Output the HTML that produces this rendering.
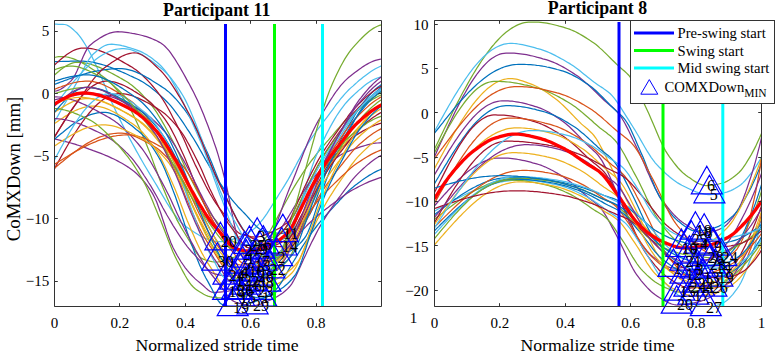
<!DOCTYPE html>
<html><head><meta charset="utf-8"><style>html,body{margin:0;padding:0;background:#fff;width:781px;height:359px;overflow:hidden;}</style></head>
<body>
<svg width="781" height="359" viewBox="0 0 781 359" style="position:absolute;left:0;top:0;font-family:'Liberation Serif',serif;">
<rect width="781" height="359" fill="#fff"/>
<g clip-path="url(#cl)">
<path d="M54.5,24.2 56.5,24.2 58.6,24.3 60.6,24.3 62.7,24.4 64.7,24.5 66.8,25.0 68.8,26.1 70.8,27.5 72.9,29.3 74.9,31.1 77.0,33.0 79.0,35.3 81.1,38.1 83.1,41.2 85.2,44.5 87.2,47.8 89.2,51.5 91.3,55.4 93.3,59.6 95.4,63.9 97.4,68.3 99.5,72.9 101.5,77.7 103.6,82.4 105.6,87.3 107.6,92.3 109.7,97.4 111.7,102.2 113.8,106.6 115.8,110.9 117.9,115.2 119.9,119.4 121.9,123.5 124.0,127.5 126.0,131.5 128.1,135.5 130.1,139.4 132.2,143.2 134.2,146.9 136.2,150.6 138.3,154.3 140.3,157.9 142.4,161.5 144.4,165.0 146.5,168.5 148.5,171.9 150.6,175.3 152.6,178.6 154.6,182.0 156.7,185.4 158.7,188.9 160.8,192.4 162.8,195.9 164.9,199.4 166.9,202.8 169.0,206.1 171.0,209.3 173.0,212.4 175.1,215.2 177.1,217.9 179.2,220.4 181.2,222.6 183.3,224.5 185.3,226.1 187.3,227.5 189.4,229.0 191.4,230.4 193.5,231.7 195.5,233.0 197.6,234.3 199.6,235.5 201.7,236.6 203.7,237.7 205.7,238.6 207.8,239.4 209.8,240.2 211.9,240.8 213.9,241.2 216.0,241.5 218.0,241.7 220.0,241.7 222.1,241.6 224.1,241.3 226.2,241.0 228.2,240.6 230.3,240.0 232.3,239.4 234.4,238.7 236.4,237.9 238.4,237.1 240.5,236.2 242.5,235.3 244.6,234.3 246.6,233.2 248.7,232.2 250.7,231.1 252.7,229.8 254.8,228.2 256.8,226.3 258.9,224.2 260.9,221.7 263.0,219.1 265.0,216.3 267.1,213.3 269.1,210.2 271.1,207.0 273.2,203.7 275.2,200.4 277.3,197.1 279.3,193.8 281.4,190.5 283.4,187.3 285.4,184.1 287.5,180.7 289.5,177.1 291.6,173.4 293.6,169.6 295.7,165.8 297.7,161.9 299.8,158.1 301.8,154.3 303.8,150.6 305.9,147.1 307.9,143.7 310.0,140.5 312.0,137.4 314.1,134.5 316.1,131.6 318.1,128.9 320.2,126.1 322.2,123.4 324.3,120.7 326.3,118.1 328.4,115.3 330.4,112.6 332.5,109.8 334.5,107.0 336.5,104.2 338.6,101.6 340.6,98.9 342.7,96.5 344.7,94.1 346.8,91.9 348.8,89.8 350.8,87.9 352.9,86.1 354.9,84.2 357.0,82.4 359.0,80.6 361.1,78.9 363.1,77.3 365.2,75.7 367.2,74.2 369.2,72.7 371.3,71.3 373.3,70.0 375.4,68.8 377.4,67.7 379.5,66.7 381.5,65.7" stroke="#4DBEEE" stroke-width="1.25" fill="none"/>
<path d="M54.5,57.5 56.5,57.0 58.6,56.6 60.6,56.5 62.7,56.5 64.7,56.7 66.8,57.0 68.8,57.4 70.8,58.0 72.9,58.7 74.9,59.4 77.0,60.3 79.0,61.2 81.1,62.3 83.1,63.4 85.2,64.5 87.2,65.7 89.2,67.0 91.3,68.4 93.3,69.7 95.4,71.1 97.4,72.5 99.5,74.0 101.5,75.4 103.6,76.9 105.6,78.4 107.6,80.1 109.7,82.0 111.7,84.0 113.8,86.3 115.8,88.6 117.9,91.1 119.9,93.8 121.9,96.5 124.0,99.4 126.0,102.4 128.1,105.5 130.1,108.9 132.2,112.6 134.2,116.7 136.2,121.0 138.3,125.5 140.3,130.1 142.4,134.8 144.4,139.6 146.5,144.4 148.5,149.4 150.6,154.6 152.6,160.1 154.6,165.7 156.7,171.3 158.7,176.8 160.8,182.2 162.8,187.3 164.9,192.3 166.9,197.2 169.0,202.1 171.0,206.9 173.0,211.5 175.1,215.9 177.1,220.1 179.2,223.9 181.2,227.6 183.3,231.0 185.3,234.3 187.3,237.5 189.4,240.8 191.4,244.4 193.5,248.0 195.5,251.4 197.6,254.4 199.6,256.8 201.7,258.4 203.7,259.3 205.7,260.0 207.8,260.7 209.8,261.2 211.9,261.6 213.9,261.9 216.0,262.0 218.0,261.9 220.0,261.7 222.1,261.3 224.1,260.8 226.2,260.1 228.2,259.5 230.3,258.7 232.3,257.9 234.4,257.2 236.4,256.4 238.4,255.6 240.5,254.8 242.5,254.0 244.6,253.1 246.6,252.1 248.7,251.0 250.7,249.9 252.7,248.7 254.8,247.4 256.8,246.0 258.9,244.5 260.9,242.8 263.0,241.0 265.0,238.7 267.1,235.9 269.1,232.7 271.1,229.2 273.2,225.4 275.2,221.6 277.3,217.6 279.3,213.7 281.4,209.9 283.4,206.3 285.4,202.5 287.5,198.7 289.5,194.9 291.6,191.3 293.6,187.9 295.7,184.4 297.7,181.1 299.8,177.8 301.8,174.6 303.8,171.5 305.9,168.4 307.9,165.5 310.0,162.7 312.0,160.0 314.1,157.3 316.1,154.7 318.1,152.2 320.2,149.7 322.2,147.3 324.3,144.8 326.3,142.4 328.4,140.1 330.4,137.7 332.5,135.3 334.5,132.9 336.5,130.5 338.6,128.1 340.6,125.8 342.7,123.5 344.7,121.3 346.8,119.3 348.8,117.3 350.8,115.6 352.9,113.8 354.9,112.2 357.0,110.5 359.0,108.9 361.1,107.3 363.1,105.8 365.2,104.3 367.2,102.9 369.2,101.6 371.3,100.3 373.3,99.0 375.4,97.9 377.4,96.8 379.5,95.8 381.5,94.8" stroke="#77AC30" stroke-width="1.25" fill="none"/>
<path d="M54.5,61.7 56.5,61.6 58.6,61.6 60.6,61.5 62.7,61.4 64.7,61.4 66.8,61.3 68.8,61.3 70.8,61.2 72.9,61.2 74.9,61.1 77.0,61.1 79.0,61.1 81.1,61.1 83.1,61.2 85.2,61.3 87.2,61.5 89.2,61.7 91.3,62.0 93.3,62.4 95.4,62.8 97.4,63.3 99.5,63.8 101.5,64.4 103.6,65.0 105.6,65.6 107.6,66.3 109.7,67.0 111.7,67.8 113.8,68.6 115.8,69.4 117.9,70.3 119.9,71.1 121.9,72.0 124.0,72.9 126.0,73.8 128.1,74.7 130.1,75.7 132.2,76.6 134.2,77.6 136.2,78.5 138.3,79.5 140.3,80.6 142.4,81.8 144.4,83.0 146.5,84.4 148.5,85.8 150.6,87.3 152.6,88.9 154.6,90.6 156.7,92.3 158.7,94.1 160.8,95.9 162.8,97.8 164.9,99.8 166.9,101.8 169.0,103.9 171.0,106.2 173.0,108.7 175.1,111.3 177.1,114.1 179.2,117.0 181.2,119.9 183.3,122.9 185.3,126.0 187.3,129.1 189.4,132.2 191.4,135.3 193.5,138.5 195.5,141.9 197.6,145.4 199.6,149.0 201.7,152.6 203.7,156.3 205.7,159.9 207.8,163.4 209.8,166.9 211.9,170.2 213.9,173.4 216.0,176.6 218.0,179.8 220.0,183.0 222.1,186.1 224.1,189.2 226.2,192.1 228.2,194.9 230.3,197.6 232.3,200.2 234.4,202.6 236.4,204.9 238.4,207.2 240.5,209.3 242.5,211.4 244.6,213.5 246.6,215.7 248.7,218.0 250.7,220.3 252.7,222.6 254.8,224.7 256.8,226.7 258.9,228.4 260.9,229.7 263.0,230.6 265.0,231.1 267.1,231.6 269.1,232.0 271.1,232.4 273.2,232.8 275.2,233.0 277.3,233.2 279.3,233.4 281.4,233.4 283.4,233.1 285.4,232.5 287.5,231.6 289.5,230.5 291.6,229.4 293.6,228.3 295.7,227.1 297.7,225.9 299.8,224.4 301.8,222.9 303.8,221.1 305.9,219.0 307.9,216.8 310.0,214.0 312.0,210.1 314.1,205.3 316.1,199.8 318.1,194.1 320.2,188.4 322.2,183.0 324.3,177.4 326.3,171.9 328.4,166.8 330.4,161.9 332.5,157.1 334.5,152.5 336.5,148.1 338.6,144.0 340.6,140.1 342.7,136.3 344.7,132.6 346.8,129.1 348.8,125.6 350.8,122.1 352.9,118.6 354.9,115.0 357.0,111.6 359.0,108.4 361.1,105.4 363.1,102.8 365.2,100.3 367.2,97.9 369.2,95.5 371.3,93.3 373.3,91.3 375.4,89.3 377.4,87.6 379.5,86.0 381.5,84.6" stroke="#0072BD" stroke-width="1.25" fill="none"/>
<path d="M54.5,65.0 56.5,63.1 58.6,61.3 60.6,59.5 62.7,57.8 64.7,56.2 66.8,54.6 68.8,53.2 70.8,52.0 72.9,50.8 74.9,49.9 77.0,49.1 79.0,48.6 81.1,48.2 83.1,48.0 85.2,48.0 87.2,48.1 89.2,48.3 91.3,48.6 93.3,49.0 95.4,49.5 97.4,50.1 99.5,50.7 101.5,51.4 103.6,52.2 105.6,53.0 107.6,53.9 109.7,54.9 111.7,55.9 113.8,56.9 115.8,58.0 117.9,59.1 119.9,60.2 121.9,61.4 124.0,62.6 126.0,63.7 128.1,64.9 130.1,66.1 132.2,67.3 134.2,68.7 136.2,70.1 138.3,71.7 140.3,73.4 142.4,75.3 144.4,77.2 146.5,79.3 148.5,81.4 150.6,83.7 152.6,86.0 154.6,88.4 156.7,90.9 158.7,93.5 160.8,96.4 162.8,99.5 164.9,102.8 166.9,106.3 169.0,110.0 171.0,113.8 173.0,117.7 175.1,121.6 177.1,125.6 179.2,129.6 181.2,133.7 183.3,138.1 185.3,142.6 187.3,147.2 189.4,151.9 191.4,156.5 193.5,161.0 195.5,165.4 197.6,169.5 199.6,173.7 201.7,177.8 203.7,181.8 205.7,185.8 207.8,189.6 209.8,193.3 211.9,196.8 213.9,200.2 216.0,203.3 218.0,206.2 220.0,209.0 222.1,211.7 224.1,214.4 226.2,217.1 228.2,220.1 230.3,223.0 232.3,225.9 234.4,228.6 236.4,230.9 238.4,232.7 240.5,233.9 242.5,234.6 244.6,235.2 246.6,235.7 248.7,236.2 250.7,236.6 252.7,236.8 254.8,237.0 256.8,237.0 258.9,236.7 260.9,236.3 263.0,235.6 265.0,234.9 267.1,234.0 269.1,233.1 271.1,232.2 273.2,231.3 275.2,230.4 277.3,229.3 279.3,228.2 281.4,227.0 283.4,225.6 285.4,224.1 287.5,222.5 289.5,220.6 291.6,218.6 293.6,215.8 295.7,212.3 297.7,208.3 299.8,204.0 301.8,199.4 303.8,194.9 305.9,190.5 307.9,186.2 310.0,181.8 312.0,177.4 314.1,173.3 316.1,169.3 318.1,165.4 320.2,161.6 322.2,158.0 324.3,154.4 326.3,151.1 328.4,147.9 330.4,144.8 332.5,141.8 334.5,138.9 336.5,136.0 338.6,133.2 340.6,130.4 342.7,127.7 344.7,124.9 346.8,122.1 348.8,119.3 350.8,116.6 352.9,114.0 354.9,111.6 357.0,109.4 359.0,107.3 361.1,105.4 363.1,103.4 365.2,101.6 367.2,99.8 369.2,98.1 371.3,96.5 373.3,94.9 375.4,93.5 377.4,92.2 379.5,90.9 381.5,89.8" stroke="#A2142F" stroke-width="1.25" fill="none"/>
<path d="M54.5,75.0 56.5,73.2 58.6,71.5 60.6,69.8 62.7,68.3 64.7,66.8 66.8,65.6 68.8,64.5 70.8,63.6 72.9,62.9 74.9,62.5 77.0,62.4 79.0,62.4 81.1,62.5 83.1,62.7 85.2,63.1 87.2,63.5 89.2,63.9 91.3,64.5 93.3,65.1 95.4,65.8 97.4,66.6 99.5,67.4 101.5,68.3 103.6,69.2 105.6,70.1 107.6,71.1 109.7,72.2 111.7,73.3 113.8,74.4 115.8,75.5 117.9,76.6 119.9,77.8 121.9,78.9 124.0,80.1 126.0,81.2 128.1,82.5 130.1,84.0 132.2,85.5 134.2,87.2 136.2,89.0 138.3,90.8 140.3,92.8 142.4,94.9 144.4,97.1 146.5,99.4 148.5,101.7 150.6,104.1 152.6,106.6 154.6,109.4 156.7,112.4 158.7,115.7 160.8,119.1 162.8,122.6 164.9,126.3 166.9,130.0 169.0,133.8 171.0,137.7 173.0,141.5 175.1,145.5 177.1,149.7 179.2,154.1 181.2,158.5 183.3,163.0 185.3,167.5 187.3,171.8 189.4,176.0 191.4,180.0 193.5,184.0 195.5,188.0 197.6,191.9 199.6,195.7 201.7,199.4 203.7,203.0 205.7,206.4 207.8,209.6 209.8,212.6 211.9,215.4 213.9,218.1 216.0,220.7 218.0,223.3 220.0,225.9 222.1,228.7 224.1,231.6 226.2,234.4 228.2,237.0 230.3,239.2 232.3,241.0 234.4,242.2 236.4,242.8 238.4,243.4 240.5,243.9 242.5,244.4 244.6,244.8 246.6,245.0 248.7,245.2 250.7,245.2 252.7,245.0 254.8,244.5 256.8,243.9 258.9,243.2 260.9,242.4 263.0,241.5 265.0,240.6 267.1,239.7 269.1,238.8 271.1,237.8 273.2,236.8 275.2,235.6 277.3,234.3 279.3,232.9 281.4,231.4 283.4,229.7 285.4,227.9 287.5,225.8 289.5,223.0 291.6,219.5 293.6,215.6 295.7,211.3 297.7,206.8 299.8,202.3 301.8,197.9 303.8,193.6 305.9,189.3 307.9,184.9 310.0,180.7 312.0,176.8 314.1,172.8 316.1,169.0 318.1,165.3 320.2,161.7 322.2,158.3 324.3,155.0 326.3,151.9 328.4,148.8 330.4,145.9 332.5,143.0 334.5,140.2 336.5,137.4 338.6,134.6 340.6,131.9 342.7,129.1 344.7,126.3 346.8,123.6 348.8,120.9 350.8,118.3 352.9,115.8 354.9,113.5 357.0,111.4 359.0,109.5 361.1,107.5 363.1,105.7 365.2,103.9 367.2,102.1 369.2,100.4 371.3,98.8 373.3,97.3 375.4,95.9 377.4,94.6 379.5,93.4 381.5,92.3" stroke="#77AC30" stroke-width="1.25" fill="none"/>
<path d="M54.5,84.3 56.5,83.6 58.6,82.8 60.6,82.0 62.7,81.3 64.7,80.5 66.8,79.8 68.8,79.0 70.8,78.3 72.9,77.6 74.9,76.9 77.0,76.3 79.0,75.6 81.1,75.0 83.1,74.4 85.2,73.8 87.2,73.2 89.2,72.7 91.3,72.2 93.3,71.7 95.4,71.3 97.4,70.8 99.5,70.5 101.5,70.1 103.6,69.8 105.6,69.5 107.6,69.3 109.7,69.1 111.7,68.9 113.8,68.8 115.8,68.7 117.9,68.6 119.9,68.6 121.9,68.7 124.0,68.9 126.0,69.2 128.1,69.6 130.1,70.1 132.2,70.7 134.2,71.4 136.2,72.2 138.3,73.1 140.3,74.0 142.4,75.0 144.4,76.1 146.5,77.2 148.5,78.4 150.6,79.6 152.6,80.9 154.6,82.2 156.7,83.5 158.7,84.8 160.8,86.1 162.8,87.4 164.9,88.8 166.9,90.4 169.0,92.1 171.0,94.0 173.0,96.0 175.1,98.2 177.1,100.4 179.2,102.8 181.2,105.4 183.3,108.0 185.3,110.7 187.3,113.5 189.4,116.6 191.4,120.0 193.5,123.7 195.5,127.6 197.6,131.7 199.6,135.9 201.7,140.2 203.7,144.6 205.7,149.0 207.8,153.4 209.8,158.2 211.9,163.2 213.9,168.3 216.0,173.4 218.0,178.5 220.0,183.4 222.1,188.1 224.1,192.6 226.2,197.2 228.2,201.6 230.3,206.0 232.3,210.3 234.4,214.3 236.4,218.2 238.4,221.7 240.5,225.1 242.5,228.3 244.6,231.3 246.6,234.2 248.7,237.2 250.7,240.4 252.7,243.7 254.8,246.9 256.8,249.7 258.9,252.1 260.9,253.8 263.0,254.8 265.0,255.5 267.1,256.1 269.1,256.6 271.1,257.1 273.2,257.3 275.2,257.5 277.3,257.4 279.3,256.9 281.4,256.2 283.4,255.1 285.4,253.9 287.5,252.7 289.5,251.5 291.6,250.2 293.6,248.8 295.7,247.3 297.7,245.6 299.8,243.6 301.8,241.5 303.8,239.0 305.9,236.2 307.9,232.3 310.0,227.3 312.0,221.6 314.1,215.4 316.1,209.1 318.1,203.1 320.2,197.2 322.2,191.1 324.3,185.3 326.3,179.8 328.4,174.4 330.4,169.2 332.5,164.2 334.5,159.5 336.5,155.1 338.6,150.8 340.6,146.7 342.7,142.7 344.7,138.8 346.8,135.0 348.8,131.2 350.8,127.3 352.9,123.5 354.9,119.7 357.0,116.1 359.0,112.7 361.1,109.7 363.1,106.9 365.2,104.2 367.2,101.6 369.2,99.1 371.3,96.8 373.3,94.5 375.4,92.5 377.4,90.6 379.5,88.9 381.5,87.3" stroke="#0072BD" stroke-width="1.25" fill="none"/>
<path d="M54.5,91.1 56.5,90.8 58.6,90.2 60.6,89.2 62.7,87.9 64.7,86.4 66.8,84.7 68.8,82.9 70.8,81.1 72.9,78.6 74.9,75.2 77.0,71.0 79.0,66.3 81.1,61.5 83.1,56.7 85.2,52.4 87.2,48.7 89.2,45.9 91.3,44.2 93.3,42.6 95.4,41.1 97.4,39.7 99.5,38.3 101.5,37.1 103.6,35.9 105.6,34.9 107.6,34.0 109.7,33.2 111.7,32.6 113.8,32.1 115.8,31.8 117.9,31.7 119.9,31.8 121.9,31.9 124.0,32.1 126.0,32.4 128.1,32.7 130.1,33.0 132.2,33.4 134.2,33.7 136.2,34.1 138.3,34.5 140.3,35.0 142.4,35.5 144.4,36.1 146.5,36.7 148.5,37.4 150.6,38.2 152.6,39.0 154.6,39.9 156.7,40.8 158.7,41.9 160.8,43.0 162.8,44.4 164.9,46.2 166.9,48.3 169.0,50.7 171.0,53.4 173.0,56.3 175.1,59.4 177.1,62.7 179.2,66.1 181.2,69.6 183.3,73.2 185.3,76.9 187.3,80.6 189.4,84.3 191.4,88.1 193.5,92.0 195.5,96.2 197.6,100.6 199.6,105.1 201.7,109.9 203.7,114.8 205.7,119.9 207.8,125.2 209.8,130.7 211.9,136.3 213.9,142.1 216.0,148.0 218.0,154.4 220.0,161.3 222.1,168.7 224.1,176.3 226.2,184.5 228.2,194.1 230.3,204.5 232.3,215.0 234.4,224.8 236.4,233.3 238.4,239.8 240.5,246.1 242.5,251.9 244.6,256.3 246.6,258.5 248.7,258.5 250.7,258.0 252.7,257.1 254.8,255.9 256.8,254.5 258.9,252.9 260.9,251.2 263.0,249.3 265.0,247.3 267.1,244.5 269.1,241.0 271.1,236.8 273.2,232.1 275.2,227.0 277.3,221.6 279.3,216.0 281.4,210.2 283.4,204.5 285.4,198.9 287.5,193.4 289.5,188.3 291.6,183.4 293.6,178.4 295.7,173.2 297.7,168.0 299.8,162.7 301.8,157.5 303.8,152.3 305.9,147.2 307.9,142.2 310.0,137.5 312.0,133.0 314.1,128.8 316.1,124.8 318.1,121.1 320.2,117.5 322.2,113.8 324.3,110.3 326.3,106.8 328.4,103.4 330.4,100.1 332.5,97.0 334.5,93.9 336.5,91.0 338.6,88.3 340.6,85.7 342.7,83.3 344.7,81.1 346.8,79.1 348.8,77.3 350.8,75.7 352.9,74.1 354.9,72.5 357.0,70.9 359.0,69.4 361.1,68.0 363.1,66.6 365.2,65.3 367.2,64.1 369.2,63.0 371.3,62.0 373.3,61.1 375.4,60.4 377.4,59.8 379.5,59.3 381.5,59.0" stroke="#7E2F8E" stroke-width="1.25" fill="none"/>
<path d="M54.5,121.8 56.5,118.2 58.6,114.6 60.6,111.0 62.7,107.4 64.7,103.8 66.8,100.2 68.8,96.6 70.8,93.0 72.9,89.5 74.9,85.9 77.0,82.1 79.0,78.0 81.1,73.9 83.1,69.9 85.2,65.9 87.2,62.3 89.2,59.0 91.3,56.2 93.3,54.0 95.4,52.2 97.4,50.6 99.5,49.0 101.5,47.5 103.6,46.3 105.6,45.3 107.6,44.6 109.7,44.3 111.7,44.2 113.8,44.4 115.8,44.6 117.9,44.9 119.9,45.2 121.9,45.7 124.0,46.1 126.0,46.7 128.1,47.3 130.1,47.9 132.2,48.5 134.2,49.2 136.2,49.8 138.3,50.6 140.3,51.4 142.4,52.4 144.4,53.5 146.5,54.6 148.5,55.9 150.6,57.3 152.6,58.8 154.6,60.4 156.7,62.1 158.7,63.8 160.8,65.7 162.8,67.8 164.9,70.3 166.9,73.0 169.0,76.0 171.0,79.2 173.0,82.6 175.1,86.3 177.1,90.1 179.2,94.2 181.2,98.3 183.3,102.6 185.3,107.0 187.3,111.5 189.4,116.1 191.4,120.7 193.5,125.4 195.5,130.1 197.6,134.8 199.6,139.4 201.7,144.2 203.7,149.4 205.7,154.8 207.8,160.5 209.8,166.4 211.9,172.3 213.9,178.1 216.0,183.9 218.0,189.5 220.0,194.9 222.1,200.1 224.1,205.5 226.2,211.1 228.2,216.6 230.3,222.1 232.3,227.5 234.4,232.6 236.4,237.4 238.4,241.8 240.5,245.7 242.5,248.9 244.6,251.6 246.6,254.0 248.7,256.3 250.7,258.6 252.7,260.8 254.8,262.8 256.8,264.6 258.9,266.2 260.9,267.6 263.0,268.7 265.0,269.4 267.1,269.8 269.1,269.7 271.1,268.8 273.2,267.1 275.2,264.8 277.3,261.9 279.3,258.5 281.4,254.7 283.4,250.7 285.4,246.5 287.5,242.3 289.5,238.2 291.6,233.8 293.6,228.6 295.7,222.6 297.7,216.1 299.8,209.2 301.8,202.0 303.8,194.6 305.9,187.3 307.9,180.1 310.0,173.3 312.0,166.9 314.1,161.1 316.1,156.1 318.1,151.6 320.2,147.1 322.2,142.8 324.3,138.6 326.3,134.4 328.4,130.5 330.4,126.6 332.5,122.9 334.5,119.4 336.5,116.0 338.6,112.8 340.6,109.8 342.7,107.0 344.7,104.4 346.8,102.0 348.8,99.8 350.8,97.8 352.9,95.8 354.9,93.9 357.0,92.0 359.0,90.1 361.1,88.4 363.1,86.7 365.2,85.1 367.2,83.6 369.2,82.2 371.3,80.9 373.3,79.8 375.4,78.8 377.4,78.0 379.5,77.3 381.5,76.8" stroke="#4DBEEE" stroke-width="1.25" fill="none"/>
<path d="M54.5,106.1 56.5,103.4 58.6,100.7 60.6,98.1 62.7,95.4 64.7,92.8 66.8,90.2 68.8,87.6 70.8,85.1 72.9,82.6 74.9,80.2 77.0,77.8 79.0,75.5 81.1,73.3 83.1,71.1 85.2,69.0 87.2,67.0 89.2,65.1 91.3,63.2 93.3,61.5 95.4,59.8 97.4,58.3 99.5,56.8 101.5,55.5 103.6,54.3 105.6,53.2 107.6,52.2 109.7,51.3 111.7,50.6 113.8,49.9 115.8,49.4 117.9,49.0 119.9,48.8 121.9,48.6 124.0,48.6 126.0,48.8 128.1,49.1 130.1,49.5 132.2,50.1 134.2,50.9 136.2,51.7 138.3,52.7 140.3,53.8 142.4,54.9 144.4,56.2 146.5,57.5 148.5,58.9 150.6,60.3 152.6,61.8 154.6,63.3 156.7,64.9 158.7,66.5 160.8,68.0 162.8,69.6 164.9,71.5 166.9,73.5 169.0,75.8 171.0,78.2 173.0,80.8 175.1,83.6 177.1,86.6 179.2,89.6 181.2,92.8 183.3,96.2 185.3,99.9 187.3,104.0 189.4,108.5 191.4,113.2 193.5,118.2 195.5,123.3 197.6,128.5 199.6,133.7 201.7,139.0 203.7,144.7 205.7,150.7 207.8,156.8 209.8,162.8 211.9,168.7 213.9,174.3 216.0,179.7 218.0,185.1 220.0,190.4 222.1,195.6 224.1,200.5 226.2,205.2 228.2,209.5 230.3,213.5 232.3,217.3 234.4,220.9 236.4,224.3 238.4,228.0 240.5,231.8 242.5,235.7 244.6,239.2 246.6,242.1 248.7,244.2 250.7,245.3 252.7,246.1 254.8,246.8 256.8,247.3 258.9,247.7 260.9,248.0 263.0,248.0 265.0,247.7 267.1,247.1 269.1,246.3 271.1,245.4 273.2,244.4 275.2,243.4 277.3,242.4 279.3,241.3 281.4,240.2 283.4,239.0 285.4,237.6 287.5,236.1 289.5,234.5 291.6,232.6 293.6,230.6 295.7,228.3 297.7,225.2 299.8,221.3 301.8,216.8 303.8,211.8 305.9,206.6 307.9,201.4 310.0,196.5 312.0,191.6 314.1,186.5 316.1,181.7 318.1,177.1 320.2,172.6 322.2,168.2 324.3,164.0 326.3,159.9 328.4,156.0 330.4,152.3 332.5,148.8 334.5,145.3 336.5,142.0 338.6,138.8 340.6,135.6 342.7,132.4 344.7,129.3 346.8,126.1 348.8,122.9 350.8,119.8 352.9,116.7 354.9,113.9 357.0,111.2 359.0,108.7 361.1,106.5 363.1,104.3 365.2,102.1 367.2,100.0 369.2,98.1 371.3,96.2 373.3,94.4 375.4,92.8 377.4,91.2 379.5,89.8 381.5,88.6" stroke="#4DBEEE" stroke-width="1.25" fill="none"/>
<path d="M54.5,136.8 56.5,133.5 58.6,130.2 60.6,127.0 62.7,123.8 64.7,120.6 66.8,117.5 68.8,114.4 70.8,111.4 72.9,108.4 74.9,105.5 77.0,102.6 79.0,99.7 81.1,96.8 83.1,93.8 85.2,90.8 87.2,87.9 89.2,84.9 91.3,82.1 93.3,79.4 95.4,76.8 97.4,74.4 99.5,72.2 101.5,70.3 103.6,68.6 105.6,67.1 107.6,65.6 109.7,64.1 111.7,62.6 113.8,61.2 115.8,59.9 117.9,58.6 119.9,57.4 121.9,56.3 124.0,55.4 126.0,54.5 128.1,53.9 130.1,53.3 132.2,53.0 134.2,52.9 136.2,53.0 138.3,53.4 140.3,54.2 142.4,55.2 144.4,56.4 146.5,57.9 148.5,59.5 150.6,61.2 152.6,63.1 154.6,65.0 156.7,67.0 158.7,68.9 160.8,70.8 162.8,72.9 164.9,75.3 166.9,77.8 169.0,80.5 171.0,83.4 173.0,86.4 175.1,89.6 177.1,92.9 179.2,96.3 181.2,99.8 183.3,103.4 185.3,107.0 187.3,110.7 189.4,114.5 191.4,118.3 193.5,122.4 195.5,126.9 197.6,131.5 199.6,136.4 201.7,141.3 203.7,146.4 205.7,151.6 207.8,156.7 209.8,161.8 211.9,166.8 213.9,171.6 216.0,176.3 218.0,180.8 220.0,185.0 222.1,189.1 224.1,193.3 226.2,197.6 228.2,201.9 230.3,206.2 232.3,210.5 234.4,214.6 236.4,218.6 238.4,222.4 240.5,225.8 242.5,229.0 244.6,231.8 246.6,234.1 248.7,236.0 250.7,237.4 252.7,238.4 254.8,239.4 256.8,240.4 258.9,241.3 260.9,242.2 263.0,243.0 265.0,243.7 267.1,244.4 269.1,245.0 271.1,245.5 273.2,245.9 275.2,246.3 277.3,246.5 279.3,246.7 281.4,246.7 283.4,246.0 285.4,244.4 287.5,241.9 289.5,238.7 291.6,235.1 293.6,231.1 295.7,226.8 297.7,222.6 299.8,218.4 301.8,214.5 303.8,211.0 305.9,207.3 307.9,203.5 310.0,199.5 312.0,195.4 314.1,191.3 316.1,187.2 318.1,183.1 320.2,179.0 322.2,175.1 324.3,171.3 326.3,167.7 328.4,164.4 330.4,161.3 332.5,158.6 334.5,156.1 336.5,153.7 338.6,151.3 340.6,149.1 342.7,146.9 344.7,144.8 346.8,142.8 348.8,141.0 350.8,139.2 352.9,137.6 354.9,136.0 357.0,134.6 359.0,133.4 361.1,132.1 363.1,130.9 365.2,129.8 367.2,128.7 369.2,127.7 371.3,126.7 373.3,125.8 375.4,125.0 377.4,124.3 379.5,123.7 381.5,123.2" stroke="#A2142F" stroke-width="1.25" fill="none"/>
<path d="M54.5,89.3 56.5,88.5 58.6,87.7 60.6,87.0 62.7,86.2 64.7,85.5 66.8,84.8 68.8,84.1 70.8,83.5 72.9,83.0 74.9,82.5 77.0,82.1 79.0,81.7 81.1,81.5 83.1,81.3 85.2,81.1 87.2,81.1 89.2,81.2 91.3,81.4 93.3,81.7 95.4,82.1 97.4,82.7 99.5,83.3 101.5,84.0 103.6,84.9 105.6,85.8 107.6,86.8 109.7,87.8 111.7,88.9 113.8,90.1 115.8,91.3 117.9,92.6 119.9,93.9 121.9,95.2 124.0,96.5 126.0,97.9 128.1,99.2 130.1,100.6 132.2,102.1 134.2,103.8 136.2,105.6 138.3,107.6 140.3,109.7 142.4,112.0 144.4,114.4 146.5,116.9 148.5,119.6 150.6,122.3 152.6,125.2 154.6,128.2 156.7,131.5 158.7,135.2 160.8,139.1 162.8,143.2 164.9,147.5 166.9,151.9 169.0,156.4 171.0,160.9 173.0,165.5 175.1,170.3 177.1,175.3 179.2,180.6 181.2,185.8 183.3,191.1 185.3,196.2 187.3,201.1 189.4,205.8 191.4,210.5 193.5,215.1 195.5,219.6 197.6,224.0 199.6,228.3 201.7,232.3 203.7,236.0 205.7,239.5 207.8,242.8 209.8,245.9 211.9,248.9 213.9,252.0 216.0,255.3 218.0,258.6 220.0,261.9 222.1,264.9 224.1,267.3 226.2,269.1 228.2,270.1 230.3,270.8 232.3,271.4 234.4,272.0 236.4,272.4 238.4,272.7 240.5,272.8 242.5,272.7 244.6,272.4 246.6,271.9 248.7,271.2 250.7,270.4 252.7,269.5 254.8,268.6 256.8,267.6 258.9,266.6 260.9,265.7 263.0,264.6 265.0,263.5 267.1,262.3 269.1,261.0 271.1,259.6 273.2,258.0 275.2,256.3 277.3,254.5 279.3,252.4 281.4,250.1 283.4,247.0 285.4,243.2 287.5,238.9 289.5,234.3 291.6,229.5 293.6,224.6 295.7,219.8 297.7,215.2 299.8,210.6 301.8,205.8 303.8,201.2 305.9,196.8 307.9,192.6 310.0,188.4 312.0,184.3 314.1,180.3 316.1,176.4 318.1,172.7 320.2,169.2 322.2,165.8 324.3,162.5 326.3,159.3 328.4,156.1 330.4,153.1 332.5,150.1 334.5,147.1 336.5,144.1 338.6,141.2 340.6,138.2 342.7,135.2 344.7,132.2 346.8,129.3 348.8,126.5 350.8,123.9 352.9,121.4 354.9,119.1 357.0,117.0 359.0,114.9 361.1,112.8 363.1,110.9 365.2,108.9 367.2,107.1 369.2,105.3 371.3,103.6 373.3,102.0 375.4,100.5 377.4,99.2 379.5,97.9 381.5,96.7" stroke="#D95319" stroke-width="1.25" fill="none"/>
<path d="M54.5,93.6 56.5,93.0 58.6,92.4 60.6,91.8 62.7,91.2 64.7,90.7 66.8,90.1 68.8,89.6 70.8,89.2 72.9,88.8 74.9,88.4 77.0,88.1 79.0,87.8 81.1,87.6 83.1,87.5 85.2,87.4 87.2,87.3 89.2,87.4 91.3,87.6 93.3,87.9 95.4,88.3 97.4,88.7 99.5,89.3 101.5,90.0 103.6,90.7 105.6,91.6 107.6,92.4 109.7,93.4 111.7,94.4 113.8,95.5 115.8,96.6 117.9,97.8 119.9,98.9 121.9,100.2 124.0,101.4 126.0,102.7 128.1,104.0 130.1,105.3 132.2,106.6 134.2,107.9 136.2,109.4 138.3,111.0 140.3,112.8 142.4,114.8 144.4,116.8 146.5,119.0 148.5,121.3 150.6,123.7 152.6,126.2 154.6,128.8 156.7,131.5 158.7,134.3 160.8,137.4 162.8,140.7 164.9,144.4 166.9,148.2 169.0,152.2 171.0,156.3 173.0,160.5 175.1,164.8 177.1,169.0 179.2,173.4 181.2,177.9 183.3,182.7 185.3,187.7 187.3,192.7 189.4,197.7 191.4,202.6 193.5,207.3 195.5,211.8 197.6,216.3 199.6,220.7 201.7,225.1 203.7,229.4 205.7,233.5 207.8,237.5 209.8,241.2 211.9,244.7 213.9,248.1 216.0,251.2 218.0,254.2 220.0,257.1 222.1,259.9 224.1,263.0 226.2,266.2 228.2,269.4 230.3,272.3 232.3,275.0 234.4,277.1 236.4,278.6 238.4,279.4 240.5,280.0 242.5,280.6 244.6,281.1 246.6,281.5 248.7,281.8 250.7,282.0 252.7,282.0 254.8,281.7 256.8,281.1 258.9,280.3 260.9,279.4 263.0,278.4 265.0,277.3 267.1,276.2 269.1,275.2 271.1,274.0 273.2,272.8 275.2,271.5 277.3,270.1 279.3,268.5 281.4,266.8 283.4,264.9 285.4,262.8 287.5,260.5 289.5,257.6 291.6,253.9 293.6,249.4 295.7,244.4 297.7,239.1 299.8,233.7 301.8,228.2 303.8,223.1 305.9,217.9 307.9,212.6 310.0,207.4 312.0,202.5 314.1,197.8 316.1,193.1 318.1,188.6 320.2,184.2 322.2,180.0 324.3,175.9 326.3,172.1 328.4,168.4 330.4,164.8 332.5,161.2 334.5,157.8 336.5,154.5 338.6,151.1 340.6,147.8 342.7,144.5 344.7,141.1 346.8,137.8 348.8,134.5 350.8,131.4 352.9,128.4 354.9,125.5 357.0,123.0 359.0,120.6 361.1,118.3 363.1,116.0 365.2,113.8 367.2,111.7 369.2,109.6 371.3,107.7 373.3,105.9 375.4,104.2 377.4,102.6 379.5,101.1 381.5,99.8" stroke="#77AC30" stroke-width="1.25" fill="none"/>
<path d="M54.5,139.0 56.5,139.4 58.6,139.8 60.6,140.3 62.7,140.8 64.7,141.3 66.8,141.9 68.8,142.4 70.8,143.0 72.9,143.6 74.9,144.2 77.0,144.9 79.0,145.5 81.1,146.2 83.1,146.9 85.2,147.6 87.2,148.3 89.2,149.1 91.3,149.8 93.3,150.6 95.4,151.3 97.4,152.1 99.5,152.9 101.5,153.7 103.6,154.5 105.6,155.4 107.6,156.2 109.7,157.1 111.7,158.1 113.8,159.0 115.8,160.0 117.9,161.1 119.9,162.2 121.9,163.3 124.0,164.5 126.0,165.8 128.1,167.1 130.1,168.5 132.2,170.0 134.2,171.5 136.2,173.3 138.3,175.2 140.3,177.3 142.4,179.6 144.4,182.0 146.5,184.6 148.5,187.4 150.6,190.4 152.6,193.6 154.6,197.4 156.7,202.1 158.7,207.5 160.8,213.3 162.8,219.5 164.9,225.7 166.9,231.9 169.0,237.7 171.0,243.0 173.0,247.6 175.1,251.5 177.1,255.2 179.2,258.7 181.2,262.0 183.3,265.0 185.3,267.8 187.3,270.4 189.4,272.8 191.4,275.0 193.5,277.1 195.5,279.1 197.6,280.9 199.6,282.6 201.7,284.3 203.7,286.0 205.7,287.9 207.8,289.7 209.8,291.3 211.9,292.2 213.9,292.3 216.0,292.3 218.0,292.2 220.0,292.1 222.1,291.9 224.1,291.7 226.2,291.4 228.2,291.1 230.3,290.7 232.3,290.0 234.4,289.0 236.4,287.7 238.4,286.2 240.5,284.5 242.5,282.7 244.6,280.8 246.6,278.8 248.7,276.8 250.7,274.8 252.7,272.7 254.8,270.4 256.8,267.7 258.9,264.9 260.9,261.9 263.0,258.8 265.0,255.5 267.1,252.1 269.1,248.7 271.1,245.2 273.2,241.7 275.2,238.2 277.3,234.7 279.3,231.4 281.4,228.0 283.4,224.8 285.4,221.7 287.5,218.4 289.5,215.0 291.6,211.5 293.6,208.0 295.7,204.5 297.7,201.1 299.8,197.6 301.8,194.3 303.8,191.0 305.9,187.8 307.9,184.8 310.0,182.0 312.0,179.4 314.1,177.0 316.1,174.8 318.1,172.9 320.2,170.9 322.2,169.0 324.3,167.2 326.3,165.4 328.4,163.7 330.4,162.1 332.5,160.5 334.5,159.0 336.5,157.6 338.6,156.3 340.6,155.0 342.7,153.9 344.7,152.9 346.8,151.9 348.8,151.1 350.8,150.3 352.9,149.6 354.9,148.8 357.0,148.1 359.0,147.4 361.1,146.7 363.1,146.1 365.2,145.5 367.2,144.9 369.2,144.4 371.3,143.9 373.3,143.5 375.4,143.2 377.4,143.0 379.5,142.8 381.5,142.7" stroke="#7E2F8E" stroke-width="1.25" fill="none"/>
<path d="M54.5,123.6 56.5,122.2 58.6,120.7 60.6,119.3 62.7,118.0 64.7,116.6 66.8,115.4 68.8,114.1 70.8,112.9 72.9,111.8 74.9,110.8 77.0,109.9 79.0,109.0 81.1,108.3 83.1,107.7 85.2,107.1 87.2,106.7 89.2,106.4 91.3,106.2 93.3,106.1 95.4,106.1 97.4,106.3 99.5,106.7 101.5,107.1 103.6,107.7 105.6,108.3 107.6,109.1 109.7,110.0 111.7,111.0 113.8,112.0 115.8,113.1 117.9,114.3 119.9,115.5 121.9,116.8 124.0,118.1 126.0,119.5 128.1,120.8 130.1,122.2 132.2,123.6 134.2,125.0 136.2,126.6 138.3,128.3 140.3,130.2 142.4,132.3 144.4,134.6 146.5,137.0 148.5,139.5 150.6,142.2 152.6,145.0 154.6,147.9 156.7,150.9 158.7,154.3 160.8,158.1 162.8,162.1 164.9,166.3 166.9,170.7 169.0,175.3 171.0,179.9 173.0,184.5 175.1,189.3 177.1,194.3 179.2,199.6 181.2,205.0 183.3,210.4 185.3,215.7 187.3,220.8 189.4,225.6 191.4,230.4 193.5,235.1 195.5,239.8 197.6,244.3 199.6,248.5 201.7,252.6 203.7,256.3 205.7,259.8 207.8,263.1 209.8,266.2 211.9,269.3 213.9,272.6 216.0,276.1 218.0,279.4 220.0,282.5 222.1,285.1 224.1,286.8 226.2,287.8 228.2,288.5 230.3,289.1 232.3,289.6 234.4,290.0 236.4,290.2 238.4,290.3 240.5,290.1 242.5,289.7 244.6,289.1 246.6,288.3 248.7,287.5 250.7,286.5 252.7,285.6 254.8,284.6 256.8,283.6 258.9,282.6 260.9,281.6 263.0,280.4 265.0,279.2 267.1,277.8 269.1,276.4 271.1,274.8 273.2,273.0 275.2,271.1 277.3,269.1 279.3,266.6 281.4,263.4 283.4,259.6 285.4,255.3 287.5,250.6 289.5,245.8 291.6,240.8 293.6,236.0 295.7,231.3 297.7,226.7 299.8,221.9 301.8,217.1 303.8,212.7 305.9,208.4 307.9,204.1 310.0,200.0 312.0,195.9 314.1,192.0 316.1,188.2 318.1,184.6 320.2,181.1 322.2,177.7 324.3,174.4 326.3,171.3 328.4,168.1 330.4,165.1 332.5,162.0 334.5,159.1 336.5,156.1 338.6,153.1 340.6,150.1 342.7,147.0 344.7,144.1 346.8,141.2 348.8,138.4 350.8,135.8 352.9,133.3 354.9,131.1 357.0,128.9 359.0,126.8 361.1,124.8 363.1,122.8 365.2,120.9 367.2,119.0 369.2,117.2 371.3,115.5 373.3,113.9 375.4,112.4 377.4,111.0 379.5,109.8 381.5,108.6" stroke="#EDB120" stroke-width="1.25" fill="none"/>
<path d="M54.5,112.3 56.5,111.0 58.6,109.7 60.6,108.4 62.7,107.1 64.7,105.9 66.8,104.7 68.8,103.6 70.8,102.6 72.9,101.7 74.9,100.9 77.0,100.2 79.0,99.6 81.1,99.2 83.1,98.9 85.2,98.7 87.2,98.6 89.2,98.7 91.3,98.8 93.3,99.1 95.4,99.4 97.4,99.9 99.5,100.4 101.5,101.0 103.6,101.7 105.6,102.5 107.6,103.3 109.7,104.2 111.7,105.2 113.8,106.1 115.8,107.2 117.9,108.3 119.9,109.4 121.9,110.5 124.0,111.7 126.0,112.9 128.1,114.1 130.1,115.4 132.2,116.6 134.2,117.8 136.2,119.1 138.3,120.6 140.3,122.2 142.4,123.9 144.4,125.7 146.5,127.7 148.5,129.8 150.6,131.9 152.6,134.2 154.6,136.6 156.7,139.1 158.7,141.6 160.8,144.2 162.8,147.1 164.9,150.2 166.9,153.6 169.0,157.1 171.0,160.9 173.0,164.7 175.1,168.7 177.1,172.8 179.2,176.8 181.2,180.9 183.3,185.1 185.3,189.6 187.3,194.2 189.4,198.9 191.4,203.7 193.5,208.5 195.5,213.1 197.6,217.6 199.6,221.9 201.7,226.2 203.7,230.4 205.7,234.6 207.8,238.7 209.8,242.6 211.9,246.4 213.9,250.1 216.0,253.5 218.0,256.7 220.0,259.7 222.1,262.6 224.1,265.4 226.2,268.1 228.2,270.9 230.3,273.9 232.3,277.0 234.4,280.0 236.4,282.7 238.4,285.1 240.5,286.9 242.5,288.1 244.6,288.8 246.6,289.4 248.7,289.9 250.7,290.4 252.7,290.8 254.8,291.0 256.8,291.2 258.9,291.2 260.9,290.9 263.0,290.3 265.0,289.6 267.1,288.8 269.1,287.9 271.1,286.9 273.2,286.0 275.2,285.0 277.3,284.0 279.3,282.9 281.4,281.6 283.4,280.3 285.4,278.8 287.5,277.1 289.5,275.3 291.6,273.3 293.6,270.9 295.7,267.7 297.7,263.7 299.8,259.3 301.8,254.6 303.8,249.7 305.9,244.9 307.9,240.4 310.0,235.7 312.0,231.0 314.1,226.5 316.1,222.3 318.1,218.1 320.2,214.0 322.2,210.0 324.3,206.2 326.3,202.6 328.4,199.1 330.4,195.8 332.5,192.6 334.5,189.4 336.5,186.4 338.6,183.4 340.6,180.4 342.7,177.5 344.7,174.6 346.8,171.6 348.8,168.6 350.8,165.7 352.9,163.0 354.9,160.3 357.0,157.9 359.0,155.7 361.1,153.6 363.1,151.6 365.2,149.6 367.2,147.7 369.2,145.9 371.3,144.1 373.3,142.5 375.4,141.0 377.4,139.5 379.5,138.3 381.5,137.1" stroke="#EDB120" stroke-width="1.25" fill="none"/>
<path d="M54.5,139.3 56.5,137.6 58.6,135.8 60.6,134.1 62.7,132.4 64.7,130.7 66.8,129.0 68.8,127.4 70.8,125.8 72.9,124.3 74.9,122.9 77.0,121.5 79.0,120.3 81.1,119.1 83.1,117.9 85.2,116.9 87.2,116.0 89.2,115.1 91.3,114.4 93.3,113.8 95.4,113.3 97.4,112.9 99.5,112.6 101.5,112.4 103.6,112.3 105.6,112.4 107.6,112.7 109.7,113.2 111.7,113.8 113.8,114.5 115.8,115.4 117.9,116.5 119.9,117.6 121.9,118.8 124.0,120.1 126.0,121.6 128.1,123.0 130.1,124.6 132.2,126.1 134.2,127.7 136.2,129.4 138.3,131.0 140.3,132.7 142.4,134.6 144.4,136.7 146.5,139.1 148.5,141.7 150.6,144.4 152.6,147.4 154.6,150.5 156.7,153.8 158.7,157.2 160.8,160.9 162.8,165.0 164.9,169.6 166.9,174.5 169.0,179.6 171.0,185.0 173.0,190.4 175.1,195.8 177.1,201.5 179.2,207.5 181.2,213.8 183.3,220.1 185.3,226.4 187.3,232.5 189.4,238.2 191.4,243.8 193.5,249.4 195.5,254.9 197.6,260.1 199.6,265.0 201.7,269.6 203.7,273.8 205.7,277.7 207.8,281.4 209.8,285.1 211.9,289.0 213.9,293.0 216.0,296.9 218.0,300.4 220.0,303.0 222.1,304.4 224.1,305.3 226.2,306.1 228.2,306.7 230.3,307.1 232.3,307.4 234.4,307.4 236.4,307.2 238.4,306.9 240.5,306.4 242.5,305.8 244.6,305.2 246.6,304.5 248.7,303.8 250.7,303.1 252.7,302.4 254.8,301.6 256.8,300.8 258.9,300.0 260.9,299.1 263.0,298.1 265.0,297.1 267.1,295.9 269.1,294.6 271.1,293.3 273.2,291.8 275.2,290.2 277.3,288.0 279.3,285.4 281.4,282.4 283.4,279.0 285.4,275.5 287.5,271.9 289.5,268.3 291.6,264.7 293.6,261.3 295.7,257.9 297.7,254.3 299.8,250.9 301.8,247.6 303.8,244.5 305.9,241.3 307.9,238.3 310.0,235.3 312.0,232.4 314.1,229.6 316.1,227.0 318.1,224.4 320.2,221.9 322.2,219.5 324.3,217.1 326.3,214.8 328.4,212.5 330.4,210.3 332.5,208.1 334.5,205.9 336.5,203.7 338.6,201.5 340.6,199.2 342.7,197.0 344.7,194.9 346.8,192.8 348.8,190.8 350.8,188.9 352.9,187.2 354.9,185.5 357.0,184.0 359.0,182.4 361.1,180.9 363.1,179.5 365.2,178.1 367.2,176.7 369.2,175.4 371.3,174.2 373.3,173.0 375.4,171.9 377.4,170.9 379.5,170.0 381.5,169.1" stroke="#0072BD" stroke-width="1.25" fill="none"/>
<path d="M54.5,96.8 56.5,96.9 58.6,97.0 60.6,97.2 62.7,97.5 64.7,97.9 66.8,98.3 68.8,98.8 70.8,99.4 72.9,100.0 74.9,100.7 77.0,101.5 79.0,102.2 81.1,103.1 83.1,104.0 85.2,104.9 87.2,105.9 89.2,106.9 91.3,107.9 93.3,108.9 95.4,110.0 97.4,111.1 99.5,112.2 101.5,113.4 103.6,114.5 105.6,115.6 107.6,116.8 109.7,117.9 111.7,119.2 113.8,120.5 115.8,122.0 117.9,123.5 119.9,125.2 121.9,126.9 124.0,128.8 126.0,130.7 128.1,132.8 130.1,134.9 132.2,137.1 134.2,139.3 136.2,141.6 138.3,144.0 140.3,146.5 142.4,149.1 144.4,152.0 146.5,155.1 148.5,158.3 150.6,161.7 152.6,165.2 154.6,168.8 156.7,172.5 158.7,176.3 160.8,180.1 162.8,183.9 164.9,187.7 166.9,191.7 169.0,195.8 171.0,200.1 173.0,204.5 175.1,209.0 177.1,213.4 179.2,217.8 181.2,222.1 183.3,226.3 185.3,230.3 187.3,234.2 189.4,238.2 191.4,242.1 193.5,245.9 195.5,249.7 197.6,253.4 199.6,256.9 201.7,260.3 203.7,263.5 205.7,266.6 207.8,269.5 209.8,272.3 211.9,275.0 213.9,277.5 216.0,280.1 218.0,282.7 220.0,285.4 222.1,288.2 224.1,291.1 226.2,293.8 228.2,296.3 230.3,298.6 232.3,300.4 234.4,301.7 236.4,302.5 238.4,303.1 240.5,303.7 242.5,304.2 244.6,304.7 246.6,305.0 248.7,305.3 250.7,305.5 252.7,305.6 254.8,305.5 256.8,305.2 258.9,304.7 260.9,304.0 263.0,303.2 265.0,302.3 267.1,301.4 269.1,300.5 271.1,299.6 273.2,298.7 275.2,297.6 277.3,296.5 279.3,295.2 281.4,293.9 283.4,292.4 285.4,290.7 287.5,288.9 289.5,286.8 291.6,284.1 293.6,280.6 295.7,276.7 297.7,272.3 299.8,267.8 301.8,263.2 303.8,258.8 305.9,254.6 307.9,250.1 310.0,245.7 312.0,241.6 314.1,237.6 316.1,233.6 318.1,229.8 320.2,226.1 322.2,222.5 324.3,219.1 326.3,215.9 328.4,212.7 330.4,209.7 332.5,206.7 334.5,203.8 336.5,201.0 338.6,198.2 340.6,195.5 342.7,192.7 344.7,189.9 346.8,187.1 348.8,184.4 350.8,181.7 352.9,179.2 354.9,176.8 357.0,174.6 359.0,172.6 361.1,170.6 363.1,168.7 365.2,166.9 367.2,165.1 369.2,163.4 371.3,161.8 373.3,160.3 375.4,158.8 377.4,157.5 379.5,156.3 381.5,155.2" stroke="#7E2F8E" stroke-width="1.25" fill="none"/>
<path d="M54.5,137.3 56.5,133.9 58.6,130.5 60.6,127.1 62.7,123.7 64.7,120.4 66.8,117.1 68.8,113.9 70.8,110.8 72.9,107.8 74.9,105.0 77.0,102.2 79.0,99.6 81.1,97.1 83.1,94.8 85.2,92.6 87.2,90.6 89.2,88.8 91.3,87.1 93.3,85.6 95.4,84.4 97.4,83.3 99.5,82.5 101.5,81.8 103.6,81.4 105.6,81.1 107.6,81.1 109.7,81.2 111.7,81.5 113.8,81.9 115.8,82.4 117.9,83.1 119.9,83.8 121.9,84.6 124.0,85.5 126.0,86.5 128.1,87.6 130.1,88.7 132.2,89.9 134.2,91.2 136.2,92.4 138.3,93.8 140.3,95.1 142.4,96.4 144.4,97.8 146.5,99.2 148.5,100.7 150.6,102.5 152.6,104.5 154.6,106.6 156.7,108.8 158.7,111.2 160.8,113.8 162.8,116.4 164.9,119.2 166.9,122.1 169.0,125.3 171.0,128.9 173.0,132.7 175.1,136.8 177.1,141.1 179.2,145.5 181.2,149.9 183.3,154.4 185.3,159.0 187.3,164.0 189.4,169.1 191.4,174.3 193.5,179.5 195.5,184.5 197.6,189.2 199.6,193.8 201.7,198.4 203.7,202.9 205.7,207.3 207.8,211.5 209.8,215.4 211.9,219.0 213.9,222.4 216.0,225.6 218.0,228.6 220.0,231.6 222.1,234.8 224.1,238.1 226.2,241.4 228.2,244.3 230.3,246.6 232.3,248.1 234.4,248.9 236.4,249.5 238.4,250.1 240.5,250.6 242.5,250.9 244.6,251.0 246.6,250.9 248.7,250.6 250.7,250.1 252.7,249.4 254.8,248.6 256.8,247.7 258.9,246.8 260.9,245.9 263.0,245.0 265.0,244.0 267.1,243.0 269.1,241.9 271.1,240.7 273.2,239.4 275.2,237.9 277.3,236.4 279.3,234.6 281.4,232.8 283.4,230.7 285.4,228.0 287.5,224.6 289.5,220.6 291.6,216.2 293.6,211.6 295.7,206.9 297.7,202.3 299.8,197.8 301.8,193.4 303.8,188.8 305.9,184.3 307.9,180.1 310.0,176.0 312.0,171.9 314.1,168.0 316.1,164.1 318.1,160.4 320.2,156.9 322.2,153.5 324.3,150.2 326.3,147.0 328.4,144.0 330.4,141.0 332.5,138.0 334.5,135.1 336.5,132.3 338.6,129.4 340.6,126.6 342.7,123.7 344.7,120.8 346.8,118.0 348.8,115.2 350.8,112.6 352.9,110.1 354.9,107.9 357.0,105.8 359.0,103.7 361.1,101.7 363.1,99.8 365.2,97.9 367.2,96.1 369.2,94.4 371.3,92.8 373.3,91.2 375.4,89.8 377.4,88.4 379.5,87.2 381.5,86.1" stroke="#A2142F" stroke-width="1.25" fill="none"/>
<path d="M54.5,168.6 56.5,164.9 58.6,161.2 60.6,157.6 62.7,154.0 64.7,150.4 66.8,146.8 68.8,143.3 70.8,139.9 72.9,136.5 74.9,133.2 77.0,130.0 79.0,126.9 81.1,123.9 83.1,121.0 85.2,118.2 87.2,115.6 89.2,113.0 91.3,110.6 93.3,108.4 95.4,106.2 97.4,104.3 99.5,102.5 101.5,100.8 103.6,99.3 105.6,98.0 107.6,96.8 109.7,95.8 111.7,95.0 113.8,94.4 115.8,94.0 117.9,93.7 119.9,93.6 121.9,93.7 124.0,93.9 126.0,94.2 128.1,94.6 130.1,95.1 132.2,95.7 134.2,96.5 136.2,97.3 138.3,98.1 140.3,99.1 142.4,100.1 144.4,101.1 146.5,102.2 148.5,103.3 150.6,104.5 152.6,105.7 154.6,106.9 156.7,108.1 158.7,109.4 160.8,110.7 162.8,112.2 164.9,113.8 166.9,115.6 169.0,117.6 171.0,119.7 173.0,121.9 175.1,124.2 177.1,126.6 179.2,129.2 181.2,131.8 183.3,134.8 185.3,138.1 187.3,141.7 189.4,145.4 191.4,149.3 193.5,153.3 195.5,157.3 197.6,161.4 199.6,165.6 201.7,170.1 203.7,174.8 205.7,179.5 207.8,184.2 209.8,188.7 211.9,193.0 213.9,197.2 216.0,201.4 218.0,205.5 220.0,209.5 222.1,213.3 224.1,216.9 226.2,220.2 228.2,223.3 230.3,226.2 232.3,229.0 234.4,231.7 236.4,234.5 238.4,237.6 240.5,240.5 242.5,243.2 244.6,245.5 246.6,247.1 248.7,247.9 250.7,248.5 252.7,249.0 254.8,249.5 256.8,249.8 258.9,250.0 260.9,250.0 263.0,249.7 265.0,249.3 267.1,248.6 269.1,247.9 271.1,247.0 273.2,246.1 275.2,245.3 277.3,244.4 279.3,243.5 281.4,242.4 283.4,241.3 285.4,240.1 287.5,238.7 289.5,237.2 291.6,235.5 293.6,233.6 295.7,231.2 297.7,228.1 299.8,224.4 301.8,220.3 303.8,215.9 305.9,211.5 307.9,207.2 310.0,203.1 312.0,198.8 314.1,194.6 316.1,190.6 318.1,186.8 320.2,183.0 322.2,179.3 324.3,175.8 326.3,172.4 328.4,169.2 330.4,166.1 332.5,163.1 334.5,160.3 336.5,157.5 338.6,154.7 340.6,152.0 342.7,149.3 344.7,146.7 346.8,144.0 348.8,141.3 350.8,138.6 352.9,136.1 354.9,133.7 357.0,131.4 359.0,129.4 361.1,127.5 363.1,125.6 365.2,123.8 367.2,122.0 369.2,120.4 371.3,118.8 373.3,117.3 375.4,115.9 377.4,114.6 379.5,113.4 381.5,112.3" stroke="#A2142F" stroke-width="1.25" fill="none"/>
<path d="M54.5,168.2 56.5,166.5 58.6,164.8 60.6,163.1 62.7,161.4 64.7,159.7 66.8,158.0 68.8,156.4 70.8,154.8 72.9,153.2 74.9,151.7 77.0,150.2 79.0,148.7 81.1,147.3 83.1,145.9 85.2,144.6 87.2,143.4 89.2,142.2 91.3,141.1 93.3,140.0 95.4,139.0 97.4,138.1 99.5,137.2 101.5,136.5 103.6,135.8 105.6,135.2 107.6,134.6 109.7,134.2 111.7,133.8 113.8,133.5 115.8,133.3 117.9,133.1 119.9,133.1 121.9,133.2 124.0,133.4 126.0,133.7 128.1,134.2 130.1,134.7 132.2,135.4 134.2,136.2 136.2,137.0 138.3,137.9 140.3,138.9 142.4,139.9 144.4,141.0 146.5,142.1 148.5,143.2 150.6,144.4 152.6,145.6 154.6,146.8 156.7,148.1 158.7,149.6 160.8,151.3 162.8,153.2 164.9,155.2 166.9,157.3 169.0,159.6 171.0,161.9 173.0,164.4 175.1,167.2 177.1,170.3 179.2,173.7 181.2,177.3 183.3,181.0 185.3,184.9 187.3,188.7 189.4,192.7 191.4,197.0 193.5,201.4 195.5,206.0 197.6,210.5 199.6,214.8 201.7,218.8 203.7,222.8 205.7,226.8 207.8,230.6 209.8,234.3 211.9,237.7 213.9,240.8 216.0,243.7 218.0,246.4 220.0,249.0 222.1,251.7 224.1,254.6 226.2,257.4 228.2,260.0 230.3,261.9 232.3,263.0 234.4,263.6 236.4,264.1 238.4,264.6 240.5,264.9 242.5,265.0 244.6,264.9 246.6,264.7 248.7,264.4 250.7,263.9 252.7,263.4 254.8,262.8 256.8,262.1 258.9,261.5 260.9,260.9 263.0,260.2 265.0,259.5 267.1,258.8 269.1,258.0 271.1,257.1 273.2,256.1 275.2,255.1 277.3,253.9 279.3,252.6 281.4,251.3 283.4,249.6 285.4,247.3 287.5,244.7 289.5,241.8 291.6,238.7 293.6,235.5 295.7,232.2 297.7,229.1 299.8,226.1 301.8,223.0 303.8,219.8 305.9,216.8 307.9,214.0 310.0,211.2 312.0,208.4 314.1,205.7 316.1,203.1 318.1,200.6 320.2,198.2 322.2,195.9 324.3,193.7 326.3,191.6 328.4,189.5 330.4,187.4 332.5,185.4 334.5,183.4 336.5,181.5 338.6,179.5 340.6,177.5 342.7,175.5 344.7,173.6 346.8,171.6 348.8,169.8 350.8,168.0 352.9,166.3 354.9,164.8 357.0,163.3 359.0,161.9 361.1,160.6 363.1,159.3 365.2,158.0 367.2,156.7 369.2,155.6 371.3,154.4 373.3,153.4 375.4,152.4 377.4,151.5 379.5,150.6 381.5,149.8" stroke="#D95319" stroke-width="1.25" fill="none"/>
<path d="M54.5,164.3 56.5,163.1 58.6,161.8 60.6,160.5 62.7,159.2 64.7,158.0 66.8,156.7 68.8,155.5 70.8,154.3 72.9,153.1 74.9,151.9 77.0,150.7 79.0,149.6 81.1,148.5 83.1,147.4 85.2,146.4 87.2,145.4 89.2,144.4 91.3,143.5 93.3,142.6 95.4,141.8 97.4,140.9 99.5,140.2 101.5,139.5 103.6,138.8 105.6,138.2 107.6,137.6 109.7,137.1 111.7,136.6 113.8,136.2 115.8,135.9 117.9,135.5 119.9,135.3 121.9,135.1 124.0,135.0 126.0,134.9 128.1,134.8 130.1,134.9 132.2,135.1 134.2,135.4 136.2,135.9 138.3,136.4 140.3,137.0 142.4,137.7 144.4,138.5 146.5,139.4 148.5,140.3 150.6,141.3 152.6,142.3 154.6,143.4 156.7,144.5 158.7,145.6 160.8,146.7 162.8,147.8 164.9,149.0 166.9,150.4 169.0,151.9 171.0,153.6 173.0,155.5 175.1,157.4 177.1,159.5 179.2,161.7 181.2,164.0 183.3,166.5 185.3,169.2 187.3,172.2 189.4,175.5 191.4,179.0 193.5,182.6 195.5,186.3 197.6,190.1 199.6,193.9 201.7,198.0 203.7,202.3 205.7,206.7 207.8,211.0 209.8,215.2 211.9,219.1 213.9,223.0 216.0,226.9 218.0,230.6 220.0,234.2 222.1,237.6 224.1,240.7 226.2,243.6 228.2,246.3 230.3,248.8 232.3,251.3 234.4,254.0 236.4,256.8 238.4,259.5 240.5,261.7 242.5,263.3 244.6,264.2 246.6,264.7 248.7,265.2 250.7,265.6 252.7,265.9 254.8,266.0 256.8,265.9 258.9,265.6 260.9,265.1 263.0,264.4 265.0,263.7 267.1,262.8 269.1,262.0 271.1,261.2 273.2,260.3 275.2,259.4 277.3,258.4 279.3,257.3 281.4,256.2 283.4,254.9 285.4,253.4 287.5,251.8 289.5,250.1 291.6,248.0 293.6,245.2 295.7,241.8 297.7,237.9 299.8,233.8 301.8,229.6 303.8,225.4 305.9,221.4 307.9,217.4 310.0,213.3 312.0,209.3 314.1,205.6 316.1,201.9 318.1,198.3 320.2,194.8 322.2,191.4 324.3,188.2 326.3,185.1 328.4,182.2 330.4,179.3 332.5,176.6 334.5,173.9 336.5,171.2 338.6,168.7 340.6,166.1 342.7,163.5 344.7,160.9 346.8,158.3 348.8,155.8 350.8,153.3 352.9,150.9 354.9,148.7 357.0,146.6 359.0,144.8 361.1,142.9 363.1,141.2 365.2,139.4 367.2,137.8 369.2,136.2 371.3,134.7 373.3,133.3 375.4,132.0 377.4,130.7 379.5,129.6 381.5,128.6" stroke="#D95319" stroke-width="1.25" fill="none"/>
<path d="M54.5,118.6 56.5,118.6 58.6,118.8 60.6,119.0 62.7,119.3 64.7,119.6 66.8,120.0 68.8,120.5 70.8,121.0 72.9,121.6 74.9,122.3 77.0,123.0 79.0,123.7 81.1,124.5 83.1,125.4 85.2,126.2 87.2,127.1 89.2,128.0 91.3,128.9 93.3,129.9 95.4,130.9 97.4,131.8 99.5,132.8 101.5,133.8 103.6,134.8 105.6,135.9 107.6,137.1 109.7,138.4 111.7,139.8 113.8,141.3 115.8,142.9 117.9,144.6 119.9,146.4 121.9,148.2 124.0,150.1 126.0,152.1 128.1,154.1 130.1,156.3 132.2,158.6 134.2,161.1 136.2,163.8 138.3,166.7 140.3,169.7 142.4,172.8 144.4,176.0 146.5,179.2 148.5,182.5 150.6,185.7 152.6,189.1 154.6,192.6 156.7,196.3 158.7,200.0 160.8,203.9 162.8,207.7 164.9,211.4 166.9,215.0 169.0,218.5 171.0,221.9 173.0,225.3 175.1,228.6 177.1,231.9 179.2,235.1 181.2,238.2 183.3,241.2 185.3,244.0 187.3,246.6 189.4,249.1 191.4,251.5 193.5,253.7 195.5,255.9 197.6,258.1 199.6,260.4 201.7,262.9 203.7,265.3 205.7,267.6 207.8,269.7 209.8,271.5 211.9,272.8 213.9,273.6 216.0,274.1 218.0,274.6 220.0,275.1 222.1,275.4 224.1,275.7 226.2,275.9 228.2,276.0 230.3,276.0 232.3,275.8 234.4,275.6 236.4,275.3 238.4,274.9 240.5,274.4 242.5,274.0 244.6,273.5 246.6,273.0 248.7,272.5 250.7,272.0 252.7,271.4 254.8,270.9 256.8,270.3 258.9,269.6 260.9,268.9 263.0,268.1 265.0,267.3 267.1,266.3 269.1,265.4 271.1,264.3 273.2,263.0 275.2,261.3 277.3,259.4 279.3,257.2 281.4,254.8 283.4,252.4 285.4,249.8 287.5,247.3 289.5,244.9 291.6,242.6 293.6,240.1 295.7,237.7 297.7,235.3 299.8,233.1 301.8,230.9 303.8,228.7 305.9,226.6 307.9,224.5 310.0,222.5 312.0,220.6 314.1,218.7 316.1,217.0 318.1,215.2 320.2,213.5 322.2,211.9 324.3,210.3 326.3,208.7 328.4,207.2 330.4,205.6 332.5,204.1 334.5,202.6 336.5,201.0 338.6,199.5 340.6,197.9 342.7,196.4 344.7,195.0 346.8,193.5 348.8,192.2 350.8,190.9 352.9,189.8 354.9,188.7 357.0,187.6 359.0,186.5 361.1,185.5 363.1,184.5 365.2,183.5 367.2,182.6 369.2,181.7 371.3,180.9 373.3,180.1 375.4,179.3 377.4,178.6 379.5,177.9 381.5,177.3" stroke="#7E2F8E" stroke-width="1.25" fill="none"/>
<path d="M54.5,108.6 56.5,108.7 58.6,108.9 60.6,109.2 62.7,109.6 64.7,110.0 66.8,110.6 68.8,111.2 70.8,111.8 72.9,112.5 74.9,113.3 77.0,114.1 79.0,115.0 81.1,115.9 83.1,116.8 85.2,117.7 87.2,118.6 89.2,119.6 91.3,120.8 93.3,122.1 95.4,123.5 97.4,125.1 99.5,126.7 101.5,128.5 103.6,130.4 105.6,132.3 107.6,134.3 109.7,136.4 111.7,138.5 113.8,140.6 115.8,142.7 117.9,144.9 119.9,147.2 121.9,149.5 124.0,152.0 126.0,154.6 128.1,157.2 130.1,160.0 132.2,162.9 134.2,165.9 136.2,169.0 138.3,172.3 140.3,175.6 142.4,179.1 144.4,182.9 146.5,187.0 148.5,191.5 150.6,196.2 152.6,201.1 154.6,206.1 156.7,211.0 158.7,215.9 160.8,220.8 162.8,226.0 164.9,231.3 166.9,236.6 169.0,241.9 171.0,247.0 173.0,251.9 175.1,256.4 177.1,260.5 179.2,264.4 181.2,268.3 183.3,272.1 185.3,275.8 187.3,279.2 189.4,282.3 191.4,285.0 193.5,287.2 195.5,288.9 197.6,290.4 199.6,291.8 201.7,293.0 203.7,294.2 205.7,295.2 207.8,296.1 209.8,296.7 211.9,297.2 213.9,297.4 216.0,297.6 218.0,297.8 220.0,297.9 222.1,298.1 224.1,298.2 226.2,298.3 228.2,298.4 230.3,298.5 232.3,298.5 234.4,298.6 236.4,298.6 238.4,298.6 240.5,298.2 242.5,297.6 244.6,296.6 246.6,295.4 248.7,293.9 250.7,292.2 252.7,290.4 254.8,288.4 256.8,286.2 258.9,284.0 260.9,281.7 263.0,279.4 265.0,277.1 267.1,274.9 269.1,272.4 271.1,269.7 273.2,266.7 275.2,263.4 277.3,259.9 279.3,256.2 281.4,252.3 283.4,248.2 285.4,244.0 287.5,239.7 289.5,235.3 291.6,230.8 293.6,226.3 295.7,221.7 297.7,217.2 299.8,212.7 301.8,208.3 303.8,204.0 305.9,199.7 307.9,195.6 310.0,191.7 312.0,187.9 314.1,184.4 316.1,181.1 318.1,177.9 320.2,174.7 322.2,171.6 324.3,168.5 326.3,165.4 328.4,162.3 330.4,159.3 332.5,156.4 334.5,153.6 336.5,150.9 338.6,148.3 340.6,145.8 342.7,143.5 344.7,141.3 346.8,139.2 348.8,137.3 350.8,135.6 352.9,133.8 354.9,132.1 357.0,130.5 359.0,128.9 361.1,127.3 363.1,125.8 365.2,124.4 367.2,123.0 369.2,121.8 371.3,120.6 373.3,119.5 375.4,118.5 377.4,117.6 379.5,116.8 381.5,116.1" stroke="#77AC30" stroke-width="1.25" fill="none"/>
<path d="M54.5,99.8 56.5,99.3 58.6,98.8 60.6,98.3 62.7,97.8 64.7,97.4 66.8,96.9 68.8,96.5 70.8,96.0 72.9,95.7 74.9,95.3 77.0,95.0 79.0,94.7 81.1,94.4 83.1,94.2 85.2,94.0 87.2,93.8 89.2,93.7 91.3,93.6 93.3,93.6 95.4,93.6 97.4,93.8 99.5,94.0 101.5,94.3 103.6,94.7 105.6,95.1 107.6,95.7 109.7,96.3 111.7,96.9 113.8,97.7 115.8,98.5 117.9,99.3 119.9,100.2 121.9,101.1 124.0,102.1 126.0,103.1 128.1,104.1 130.1,105.1 132.2,106.2 134.2,107.3 136.2,108.4 138.3,109.5 140.3,110.5 142.4,111.7 144.4,113.0 146.5,114.4 148.5,116.0 150.6,117.6 152.6,119.4 154.6,121.2 156.7,123.2 158.7,125.2 160.8,127.4 162.8,129.6 164.9,131.8 166.9,134.2 169.0,136.8 171.0,139.7 173.0,142.7 175.1,145.9 177.1,149.3 179.2,152.7 181.2,156.3 183.3,159.9 185.3,163.5 187.3,167.2 189.4,171.0 191.4,175.0 193.5,179.1 195.5,183.4 197.6,187.6 199.6,191.8 201.7,195.9 203.7,199.7 205.7,203.5 207.8,207.3 209.8,211.0 211.9,214.7 213.9,218.2 216.0,221.6 218.0,224.9 220.0,228.0 222.1,230.9 224.1,233.7 226.2,236.3 228.2,238.8 230.3,241.2 232.3,243.6 234.4,246.3 236.4,249.0 238.4,251.6 240.5,254.1 242.5,256.3 244.6,258.0 246.6,259.1 248.7,259.8 250.7,260.3 252.7,260.8 254.8,261.3 256.8,261.6 258.9,261.9 260.9,262.0 263.0,262.0 265.0,261.6 267.1,261.0 269.1,260.1 271.1,259.0 273.2,257.9 275.2,256.7 277.3,255.5 279.3,254.3 281.4,253.0 283.4,251.5 285.4,250.0 287.5,248.2 289.5,246.3 291.6,244.2 293.6,241.8 295.7,239.1 297.7,235.6 299.8,231.0 301.8,225.7 303.8,219.9 305.9,213.9 307.9,207.9 310.0,202.2 312.0,196.5 314.1,190.6 316.1,185.0 318.1,179.6 320.2,174.4 322.2,169.3 324.3,164.4 326.3,159.7 328.4,155.2 330.4,150.9 332.5,146.7 334.5,142.8 336.5,138.9 338.6,135.1 340.6,131.4 342.7,127.8 344.7,124.1 346.8,120.4 348.8,116.7 350.8,113.1 352.9,109.5 354.9,106.2 357.0,103.1 359.0,100.2 361.1,97.6 363.1,95.0 365.2,92.5 367.2,90.1 369.2,87.8 371.3,85.7 373.3,83.6 375.4,81.7 377.4,79.9 379.5,78.3 381.5,76.8" stroke="#7E2F8E" stroke-width="1.25" fill="none"/>
<path d="M54.5,146.1 56.5,144.7 58.6,143.3 60.6,142.0 62.7,140.6 64.7,139.3 66.8,138.0 68.8,136.7 70.8,135.5 72.9,134.3 74.9,133.2 77.0,132.1 79.0,131.1 81.1,130.1 83.1,129.2 85.2,128.4 87.2,127.7 89.2,127.0 91.3,126.5 93.3,126.0 95.4,125.6 97.4,125.3 99.5,125.0 101.5,124.9 103.6,124.8 105.6,124.9 107.6,125.1 109.7,125.3 111.7,125.7 113.8,126.2 115.8,126.7 117.9,127.4 119.9,128.1 121.9,128.8 124.0,129.7 126.0,130.5 128.1,131.5 130.1,132.5 132.2,133.5 134.2,134.5 136.2,135.6 138.3,136.7 140.3,137.8 142.4,138.9 144.4,140.0 146.5,141.2 148.5,142.6 150.6,144.1 152.6,145.8 154.6,147.6 156.7,149.5 158.7,151.5 160.8,153.6 162.8,155.8 164.9,158.1 166.9,160.5 169.0,163.1 171.0,166.1 173.0,169.2 175.1,172.6 177.1,176.1 179.2,179.6 181.2,183.3 183.3,187.0 185.3,190.7 187.3,194.7 189.4,198.8 191.4,203.1 193.5,207.4 195.5,211.6 197.6,215.6 199.6,219.5 201.7,223.3 203.7,227.1 205.7,230.8 207.8,234.3 209.8,237.8 211.9,241.0 213.9,244.0 216.0,246.8 218.0,249.5 220.0,252.0 222.1,254.4 224.1,257.0 226.2,259.7 228.2,262.4 230.3,265.0 232.3,267.1 234.4,268.8 236.4,269.7 238.4,270.3 240.5,270.9 242.5,271.3 244.6,271.7 246.6,271.9 248.7,272.0 250.7,271.9 252.7,271.6 254.8,271.1 256.8,270.4 258.9,269.6 260.9,268.8 263.0,267.9 265.0,267.0 267.1,266.2 269.1,265.2 271.1,264.2 273.2,263.1 275.2,262.0 277.3,260.7 279.3,259.2 281.4,257.7 283.4,256.0 285.4,254.1 287.5,251.8 289.5,248.8 291.6,245.2 293.6,241.2 295.7,236.8 297.7,232.4 299.8,227.9 301.8,223.6 303.8,219.4 305.9,215.1 307.9,210.8 310.0,206.8 312.0,202.9 314.1,199.0 316.1,195.3 318.1,191.6 320.2,188.1 322.2,184.8 324.3,181.6 326.3,178.5 328.4,175.5 330.4,172.6 332.5,169.7 334.5,166.9 336.5,164.2 338.6,161.5 340.6,158.8 342.7,156.1 344.7,153.3 346.8,150.6 348.8,148.0 350.8,145.4 352.9,143.0 354.9,140.7 357.0,138.7 359.0,136.7 361.1,134.8 363.1,133.0 365.2,131.2 367.2,129.5 369.2,127.8 371.3,126.2 373.3,124.8 375.4,123.4 377.4,122.1 379.5,120.9 381.5,119.8" stroke="#EDB120" stroke-width="1.25" fill="none"/>
<path d="M54.5,112.3 56.5,109.9 58.6,107.5 60.6,105.1 62.7,102.8 64.7,100.6 66.8,98.5 68.8,96.5 70.8,94.7 72.9,93.0 74.9,91.6 77.0,90.3 79.0,89.3 81.1,88.4 83.1,87.8 85.2,87.5 87.2,87.3 89.2,87.4 91.3,87.6 93.3,87.8 95.4,88.2 97.4,88.6 99.5,89.1 101.5,89.7 103.6,90.4 105.6,91.2 107.6,92.0 109.7,92.9 111.7,93.8 113.8,94.8 115.8,95.8 117.9,96.9 119.9,98.0 121.9,99.1 124.0,100.3 126.0,101.4 128.1,102.6 130.1,103.8 132.2,105.0 134.2,106.3 136.2,107.5 138.3,109.0 140.3,110.5 142.4,112.2 144.4,114.0 146.5,115.9 148.5,118.0 150.6,120.1 152.6,122.3 154.6,124.7 156.7,127.1 158.7,129.6 160.8,132.2 162.8,135.0 164.9,138.0 166.9,141.3 169.0,144.8 171.0,148.5 173.0,152.3 175.1,156.2 177.1,160.2 179.2,164.2 181.2,168.2 183.3,172.3 185.3,176.7 187.3,181.2 189.4,185.9 191.4,190.6 193.5,195.2 195.5,199.8 197.6,204.3 199.6,208.5 201.7,212.7 203.7,216.9 205.7,221.0 207.8,225.0 209.8,228.9 211.9,232.7 213.9,236.2 216.0,239.6 218.0,242.8 220.0,245.8 222.1,248.6 224.1,251.4 226.2,254.1 228.2,256.8 230.3,259.8 232.3,262.8 234.4,265.7 236.4,268.4 238.4,270.8 240.5,272.6 242.5,273.8 244.6,274.5 246.6,275.2 248.7,275.7 250.7,276.2 252.7,276.6 254.8,276.8 256.8,277.0 258.9,277.0 260.9,276.6 263.0,276.0 265.0,275.2 267.1,274.2 269.1,273.1 271.1,271.9 273.2,270.8 275.2,269.6 277.3,268.4 279.3,267.1 281.4,265.6 283.4,264.0 285.4,262.2 287.5,260.2 289.5,258.0 291.6,255.6 293.6,252.8 295.7,248.9 297.7,244.2 299.8,238.9 301.8,233.2 303.8,227.3 305.9,221.5 307.9,216.0 310.0,210.4 312.0,204.7 314.1,199.3 316.1,194.1 318.1,189.0 320.2,184.1 322.2,179.3 324.3,174.7 326.3,170.3 328.4,166.1 330.4,162.1 332.5,158.2 334.5,154.4 336.5,150.7 338.6,147.1 340.6,143.5 342.7,140.0 344.7,136.4 346.8,132.8 348.8,129.2 350.8,125.7 352.9,122.4 354.9,119.2 357.0,116.3 359.0,113.6 361.1,111.1 363.1,108.6 365.2,106.2 367.2,103.9 369.2,101.7 371.3,99.6 373.3,97.6 375.4,95.8 377.4,94.1 379.5,92.5 381.5,91.1" stroke="#0072BD" stroke-width="1.25" fill="none"/>
<path d="M54.5,159.8 56.5,156.0 58.6,152.2 60.6,148.4 62.7,144.7 64.7,141.0 66.8,137.4 68.8,133.8 70.8,130.3 72.9,126.9 74.9,123.7 77.0,120.5 79.0,117.5 81.1,114.7 83.1,111.9 85.2,109.4 87.2,107.0 89.2,104.8 91.3,102.7 93.3,100.9 95.4,99.2 97.4,97.8 99.5,96.6 101.5,95.5 103.6,94.7 105.6,94.1 107.6,93.8 109.7,93.6 111.7,93.7 113.8,93.9 115.8,94.3 117.9,94.9 119.9,95.7 121.9,96.5 124.0,97.5 126.0,98.7 128.1,99.9 130.1,101.2 132.2,102.6 134.2,104.1 136.2,105.6 138.3,107.2 140.3,108.8 142.4,110.4 144.4,112.0 146.5,113.7 148.5,115.7 150.6,117.9 152.6,120.3 154.6,123.0 156.7,125.8 158.7,128.8 160.8,132.0 162.8,135.3 164.9,138.8 166.9,142.8 169.0,147.2 171.0,151.9 173.0,156.9 175.1,162.2 177.1,167.5 179.2,172.9 181.2,178.4 183.3,184.4 185.3,190.6 187.3,196.9 189.4,203.1 191.4,209.1 193.5,214.7 195.5,220.3 197.6,225.9 199.6,231.2 201.7,236.3 203.7,241.2 205.7,245.6 207.8,249.7 209.8,253.5 211.9,257.2 213.9,260.8 216.0,264.8 218.0,268.8 220.0,272.5 222.1,275.5 224.1,277.6 226.2,278.6 228.2,279.4 230.3,280.1 232.3,280.6 234.4,280.9 236.4,281.0 238.4,280.8 240.5,280.4 242.5,279.8 244.6,279.0 246.6,278.2 248.7,277.2 250.7,276.2 252.7,275.2 254.8,274.2 256.8,273.1 258.9,272.1 260.9,270.9 263.0,269.6 265.0,268.2 267.1,266.8 269.1,265.1 271.1,263.4 273.2,261.5 275.2,259.4 277.3,257.0 279.3,254.0 281.4,250.2 283.4,245.9 285.4,241.2 287.5,236.2 289.5,231.1 291.6,226.0 293.6,221.1 295.7,216.3 297.7,211.4 299.8,206.4 301.8,201.6 303.8,197.1 305.9,192.6 307.9,188.3 310.0,184.0 312.0,179.9 314.1,175.8 316.1,172.0 318.1,168.3 320.2,164.7 322.2,161.3 324.3,157.9 326.3,154.6 328.4,151.4 330.4,148.2 332.5,145.1 334.5,142.0 336.5,138.9 338.6,135.8 340.6,132.6 342.7,129.5 344.7,126.4 346.8,123.5 348.8,120.6 350.8,117.9 352.9,115.4 354.9,113.1 357.0,110.9 359.0,108.7 361.1,106.6 363.1,104.5 365.2,102.5 367.2,100.6 369.2,98.8 371.3,97.0 373.3,95.4 375.4,93.8 377.4,92.4 379.5,91.1 381.5,89.8" stroke="#4DBEEE" stroke-width="1.25" fill="none"/>
<path d="M54.5,69.8 56.5,69.0 58.6,68.3 60.6,67.6 62.7,67.1 64.7,66.7 66.8,66.4 68.8,66.2 70.8,66.1 72.9,66.2 74.9,66.4 77.0,66.7 79.0,67.2 81.1,67.8 83.1,68.5 85.2,69.3 87.2,70.1 89.2,71.0 91.3,72.0 93.3,73.1 95.4,74.1 97.4,75.2 99.5,76.4 101.5,77.5 103.6,78.6 105.6,79.8 107.6,81.1 109.7,82.5 111.7,84.1 113.8,85.8 115.8,87.6 117.9,89.5 119.9,91.5 121.9,93.5 124.0,95.7 126.0,97.9 128.1,100.2 130.1,102.6 132.2,105.0 134.2,107.5 136.2,110.0 138.3,112.6 140.3,115.2 142.4,117.8 144.4,120.4 146.5,123.1 148.5,125.8 150.6,128.4 152.6,131.1 154.6,133.8 156.7,136.7 158.7,139.8 160.8,143.0 162.8,146.3 164.9,149.7 166.9,153.2 169.0,156.7 171.0,160.4 173.0,164.1 175.1,167.8 177.1,171.5 179.2,175.2 181.2,178.9 183.3,182.6 185.3,186.3 187.3,189.9 189.4,193.4 191.4,196.9 193.5,200.2 195.5,203.4 197.6,206.6 199.6,209.5 201.7,212.3 203.7,215.1 205.7,218.0 207.8,220.9 209.8,223.9 211.9,226.8 213.9,229.7 216.0,232.6 218.0,235.3 220.0,237.9 222.1,240.3 224.1,242.6 226.2,244.6 228.2,246.4 230.3,247.9 232.3,249.0 234.4,249.8 236.4,250.5 238.4,251.1 240.5,251.7 242.5,252.2 244.6,252.8 246.6,253.3 248.7,253.8 250.7,254.2 252.7,254.6 254.8,255.0 256.8,255.4 258.9,255.8 260.9,256.1 263.0,256.4 265.0,256.6 267.1,256.8 269.1,257.0 271.1,257.1 273.2,257.2 275.2,257.3 277.3,257.3 279.3,256.5 281.4,252.9 283.4,247.3 285.4,240.4 287.5,233.1 289.5,226.1 291.6,219.7 293.6,212.8 295.7,205.5 297.7,198.0 299.8,190.3 301.8,182.7 303.8,175.1 305.9,167.8 307.9,160.5 310.0,153.1 312.0,145.8 314.1,138.5 316.1,131.4 318.1,124.6 320.2,118.1 322.2,111.8 324.3,105.5 326.3,99.5 328.4,93.8 330.4,88.4 332.5,83.6 334.5,79.1 336.5,74.8 338.6,70.5 340.6,66.5 342.7,62.7 344.7,59.1 346.8,55.8 348.8,52.8 350.8,50.1 352.9,47.7 354.9,45.4 357.0,43.1 359.0,40.9 361.1,38.8 363.1,36.7 365.2,34.8 367.2,33.0 369.2,31.3 371.3,29.8 373.3,28.4 375.4,27.2 377.4,26.2 379.5,25.4 381.5,24.8" stroke="#77AC30" stroke-width="1.25" fill="none"/>
<path d="M54.5,103.6 56.5,102.8 58.6,102.1 60.6,101.4 62.7,100.7 64.7,100.0 66.8,99.4 68.8,98.9 70.8,98.4 72.9,98.0 74.9,97.7 77.0,97.5 79.0,97.4 81.1,97.4 83.1,97.4 85.2,97.6 87.2,97.8 89.2,98.1 91.3,98.5 93.3,98.9 95.4,99.5 97.4,100.1 99.5,100.7 101.5,101.4 103.6,102.2 105.6,103.0 107.6,103.8 109.7,104.7 111.7,105.6 113.8,106.6 115.8,107.6 117.9,108.6 119.9,109.6 121.9,110.7 124.0,111.8 126.0,112.8 128.1,113.9 130.1,115.0 132.2,116.1 134.2,117.3 136.2,118.6 138.3,120.0 140.3,121.5 142.4,123.1 144.4,124.8 146.5,126.7 148.5,128.6 150.6,130.5 152.6,132.6 154.6,134.7 156.7,136.9 158.7,139.2 160.8,141.5 162.8,144.1 164.9,146.9 166.9,149.8 169.0,152.9 171.0,156.2 173.0,159.6 175.1,163.1 177.1,166.7 179.2,170.3 181.2,173.9 183.3,177.5 185.3,181.3 187.3,185.2 189.4,189.3 191.4,193.5 193.5,197.8 195.5,202.0 197.6,206.2 199.6,210.2 201.7,214.1 203.7,217.9 205.7,221.7 207.8,225.4 209.8,229.1 211.9,232.7 213.9,236.2 216.0,239.6 218.0,242.9 220.0,245.9 222.1,248.8 224.1,251.6 226.2,254.2 228.2,256.7 230.3,259.1 232.3,261.5 234.4,264.1 236.4,266.8 238.4,269.5 240.5,272.1 242.5,274.6 244.6,276.7 246.6,278.5 248.7,279.7 250.7,280.4 252.7,281.0 254.8,281.5 256.8,282.0 258.9,282.3 260.9,282.7 263.0,282.9 265.0,283.0 267.1,282.9 269.1,282.6 271.1,281.9 273.2,281.0 275.2,279.9 277.3,278.7 279.3,277.5 281.4,276.3 283.4,275.1 285.4,273.7 287.5,272.3 289.5,270.6 291.6,268.8 293.6,266.7 295.7,264.5 297.7,262.0 299.8,258.8 301.8,254.6 303.8,249.5 305.9,243.8 307.9,237.9 310.0,231.8 312.0,226.0 314.1,220.3 316.1,214.4 318.1,208.7 320.2,203.4 322.2,198.1 324.3,193.1 326.3,188.1 328.4,183.4 330.4,178.9 332.5,174.6 334.5,170.5 336.5,166.6 338.6,162.7 340.6,159.0 342.7,155.3 344.7,151.6 346.8,147.9 348.8,144.2 350.8,140.5 352.9,136.9 354.9,133.5 357.0,130.2 359.0,127.3 361.1,124.6 363.1,122.0 365.2,119.5 367.2,117.0 369.2,114.7 371.3,112.5 373.3,110.4 375.4,108.5 377.4,106.7 379.5,105.0 381.5,103.6" stroke="#EDB120" stroke-width="1.25" fill="none"/>
<path d="M54.5,81.1 56.5,80.5 58.6,79.9 60.6,79.3 62.7,78.7 64.7,78.2 66.8,77.6 68.8,77.1 70.8,76.7 72.9,76.3 74.9,75.9 77.0,75.6 79.0,75.3 81.1,75.1 83.1,75.0 85.2,74.9 87.2,74.8 89.2,74.9 91.3,75.1 93.3,75.4 95.4,75.8 97.4,76.3 99.5,76.9 101.5,77.5 103.6,78.3 105.6,79.2 107.6,80.1 109.7,81.1 111.7,82.1 113.8,83.2 115.8,84.4 117.9,85.6 119.9,86.9 121.9,88.1 124.0,89.5 126.0,90.8 128.1,92.2 130.1,93.6 132.2,95.0 134.2,96.4 136.2,97.8 138.3,99.3 140.3,101.0 142.4,102.8 144.4,104.8 146.5,107.0 148.5,109.2 150.6,111.6 152.6,114.1 154.6,116.7 156.7,119.4 158.7,122.2 160.8,125.1 162.8,128.1 164.9,131.3 166.9,134.9 169.0,138.7 171.0,142.7 173.0,147.0 175.1,151.3 177.1,155.8 179.2,160.4 181.2,165.0 183.3,169.6 185.3,174.3 187.3,179.3 189.4,184.5 191.4,189.8 193.5,195.2 195.5,200.6 197.6,206.0 199.6,211.1 201.7,216.0 203.7,220.8 205.7,225.6 207.8,230.4 209.8,235.0 211.9,239.6 213.9,244.0 216.0,248.2 218.0,252.2 220.0,256.0 222.1,259.5 224.1,262.9 226.2,266.1 228.2,269.2 230.3,272.3 232.3,275.5 234.4,279.0 236.4,282.4 238.4,285.7 240.5,288.7 242.5,291.3 244.6,293.3 246.6,294.5 248.7,295.3 250.7,296.0 252.7,296.6 254.8,297.1 256.8,297.5 258.9,297.8 260.9,298.0 263.0,298.0 265.0,297.6 267.1,296.9 269.1,296.0 271.1,294.9 273.2,293.7 275.2,292.5 277.3,291.2 279.3,290.0 281.4,288.6 283.4,287.2 285.4,285.5 287.5,283.7 289.5,281.7 291.6,279.5 293.6,277.0 295.7,274.3 297.7,270.6 299.8,265.9 301.8,260.4 303.8,254.4 305.9,248.2 307.9,241.9 310.0,236.0 312.0,230.1 314.1,224.0 316.1,218.1 318.1,212.6 320.2,207.2 322.2,201.9 324.3,196.8 326.3,191.9 328.4,187.3 330.4,182.8 332.5,178.5 334.5,174.4 336.5,170.4 338.6,166.5 340.6,162.7 342.7,158.9 344.7,155.1 346.8,151.2 348.8,147.4 350.8,143.6 352.9,140.0 354.9,136.5 357.0,133.3 359.0,130.3 361.1,127.6 363.1,124.9 365.2,122.4 367.2,119.9 369.2,117.5 371.3,115.2 373.3,113.1 375.4,111.1 377.4,109.3 379.5,107.6 381.5,106.1" stroke="#0072BD" stroke-width="1.25" fill="none"/>
<path d="M54.5,106.1 56.5,104.3 58.6,102.4 60.6,100.7 62.7,98.9 64.7,97.3 66.8,95.7 68.8,94.2 70.8,92.8 72.9,91.6 74.9,90.5 77.0,89.6 79.0,88.8 81.1,88.2 83.1,87.7 85.2,87.4 87.2,87.3 89.2,87.4 91.3,87.6 93.3,87.9 95.4,88.3 97.4,88.9 99.5,89.5 101.5,90.2 103.6,91.0 105.6,91.9 107.6,92.9 109.7,93.9 111.7,95.0 113.8,96.2 115.8,97.4 117.9,98.6 119.9,99.9 121.9,101.2 124.0,102.5 126.0,103.9 128.1,105.3 130.1,106.6 132.2,108.0 134.2,109.6 136.2,111.3 138.3,113.2 140.3,115.2 142.4,117.4 144.4,119.7 146.5,122.1 148.5,124.6 150.6,127.3 152.6,130.1 154.6,132.9 156.7,135.9 158.7,139.3 160.8,142.9 162.8,146.8 164.9,150.9 166.9,155.2 169.0,159.6 171.0,164.0 173.0,168.6 175.1,173.1 177.1,177.8 179.2,182.8 181.2,188.0 183.3,193.3 185.3,198.5 187.3,203.8 189.4,208.8 191.4,213.6 193.5,218.3 195.5,223.0 197.6,227.6 199.6,232.2 201.7,236.5 203.7,240.7 205.7,244.7 207.8,248.4 209.8,251.9 211.9,255.1 213.9,258.3 216.0,261.3 218.0,264.4 220.0,267.7 222.1,271.1 224.1,274.4 226.2,277.4 228.2,280.0 230.3,281.9 232.3,283.0 234.4,283.7 236.4,284.4 238.4,285.0 240.5,285.4 242.5,285.8 244.6,286.0 246.6,286.0 248.7,285.7 250.7,285.2 252.7,284.4 254.8,283.5 256.8,282.4 258.9,281.3 260.9,280.1 263.0,279.0 265.0,277.8 267.1,276.6 269.1,275.2 271.1,273.8 273.2,272.2 275.2,270.5 277.3,268.6 279.3,266.5 281.4,264.2 283.4,261.7 285.4,258.7 287.5,254.7 289.5,249.9 291.6,244.6 293.6,238.9 295.7,233.1 297.7,227.2 299.8,221.5 301.8,216.0 303.8,210.3 305.9,204.6 307.9,199.2 310.0,194.1 312.0,189.0 314.1,184.0 316.1,179.2 318.1,174.5 320.2,170.0 322.2,165.7 324.3,161.6 326.3,157.6 328.4,153.7 330.4,150.0 332.5,146.3 334.5,142.6 336.5,139.1 338.6,135.5 340.6,131.9 342.7,128.3 344.7,124.7 346.8,121.2 348.8,117.7 350.8,114.4 352.9,111.3 354.9,108.4 357.0,105.8 359.0,103.2 361.1,100.7 363.1,98.3 365.2,96.0 367.2,93.7 369.2,91.5 371.3,89.5 373.3,87.5 375.4,85.7 377.4,84.0 379.5,82.5 381.5,81.1" stroke="#7E2F8E" stroke-width="1.25" fill="none"/>
<path d="M54.5,104.2 56.5,102.9 58.6,101.6 60.6,100.4 62.7,99.3 64.7,98.2 66.8,97.2 68.8,96.3 70.8,95.5 72.9,94.8 74.9,94.2 77.0,93.7 79.0,93.4 81.1,93.1 83.1,93.0 85.2,93.0 87.2,93.1 89.2,93.3 91.3,93.6 93.3,93.9 95.4,94.3 97.4,94.8 99.5,95.4 101.5,96.0 103.6,96.7 105.6,97.5 107.6,98.2 109.7,99.1 111.7,100.0 113.8,100.9 115.8,101.8 117.9,102.8 119.9,103.8 121.9,104.8 124.0,105.8 126.0,106.8 128.1,107.9 130.1,108.9 132.2,110.0 134.2,111.2 136.2,112.6 138.3,114.0 140.3,115.6 142.4,117.3 144.4,119.1 146.5,120.9 148.5,122.9 150.6,124.9 152.6,127.0 154.6,129.1 156.7,131.4 158.7,133.9 160.8,136.6 162.8,139.5 164.9,142.6 166.9,145.8 169.0,149.1 171.0,152.5 173.0,155.9 175.1,159.3 177.1,162.8 179.2,166.4 181.2,170.3 183.3,174.2 185.3,178.2 187.3,182.2 189.4,186.2 191.4,190.0 193.5,193.6 195.5,197.2 197.6,200.8 199.6,204.3 201.7,207.7 203.7,211.0 205.7,214.2 207.8,217.3 209.8,220.2 211.9,222.9 213.9,225.4 216.0,227.8 218.0,230.2 220.0,232.4 222.1,234.8 224.1,237.4 226.2,239.9 228.2,242.4 230.3,244.6 232.3,246.5 234.4,247.9 236.4,248.7 238.4,249.3 240.5,249.8 242.5,250.2 244.6,250.6 246.6,250.9 248.7,251.0 250.7,251.1 252.7,251.0 254.8,250.6 256.8,250.1 258.9,249.4 260.9,248.7 263.0,247.8 265.0,247.0 267.1,246.1 269.1,245.2 271.1,244.3 273.2,243.3 275.2,242.2 277.3,241.1 279.3,239.8 281.4,238.3 283.4,236.8 285.4,235.0 287.5,233.1 289.5,230.6 291.6,227.4 293.6,223.7 295.7,219.6 297.7,215.3 299.8,211.0 301.8,206.7 303.8,202.6 305.9,198.5 307.9,194.2 310.0,190.2 312.0,186.4 314.1,182.6 316.1,178.9 318.1,175.3 320.2,171.8 322.2,168.5 324.3,165.3 326.3,162.3 328.4,159.4 330.4,156.5 332.5,153.7 334.5,151.0 336.5,148.3 338.6,145.7 340.6,143.1 342.7,140.4 344.7,137.7 346.8,135.1 348.8,132.5 350.8,130.0 352.9,127.6 354.9,125.4 357.0,123.3 359.0,121.5 361.1,119.6 363.1,117.8 365.2,116.0 367.2,114.4 369.2,112.7 371.3,111.2 373.3,109.8 375.4,108.4 377.4,107.2 379.5,106.0 381.5,105.0" stroke="#ff0000" stroke-width="3.3" fill="none" stroke-linejoin="round"/>
</g>
<g clip-path="url(#cr)">
<path d="M434.5,149.1 436.5,144.9 438.6,140.7 440.6,136.5 442.7,132.3 444.7,128.1 446.8,123.9 448.8,119.8 450.9,115.7 452.9,111.6 454.9,107.6 457.0,103.6 459.0,99.7 461.1,95.8 463.1,92.0 465.2,88.3 467.2,84.6 469.2,81.0 471.3,77.4 473.3,74.0 475.4,70.6 477.4,67.3 479.5,64.1 481.5,61.0 483.6,58.0 485.6,55.1 487.6,52.3 489.7,49.6 491.7,47.0 493.8,44.6 495.8,42.2 497.9,40.0 499.9,37.9 501.9,35.9 504.0,34.0 506.0,32.3 508.1,30.7 510.1,29.2 512.2,27.9 514.2,26.7 516.2,25.6 518.3,24.7 520.3,23.9 522.4,23.2 524.4,22.7 526.5,22.3 528.5,22.1 530.6,22.0 532.6,22.0 534.6,22.0 536.7,22.1 538.7,22.2 540.8,22.4 542.8,22.6 544.9,22.9 546.9,23.2 549.0,23.6 551.0,24.0 553.0,24.5 555.1,25.0 557.1,25.5 559.2,26.1 561.2,26.6 563.3,27.2 565.3,27.8 567.3,28.5 569.4,29.2 571.4,30.0 573.5,30.9 575.5,31.8 577.6,32.9 579.6,34.0 581.6,35.1 583.7,36.4 585.7,37.6 587.8,38.9 589.8,40.3 591.9,41.7 593.9,43.1 596.0,44.6 598.0,46.3 600.0,48.1 602.1,49.9 604.1,51.9 606.2,53.9 608.2,55.9 610.3,58.0 612.3,60.0 614.4,62.0 616.4,64.0 618.4,65.9 620.5,67.7 622.5,69.4 624.6,71.2 626.6,73.1 628.7,75.2 630.7,77.8 632.7,80.8 634.8,84.3 636.8,88.2 638.9,92.4 640.9,96.8 643.0,101.2 645.0,105.6 647.0,109.8 649.1,114.2 651.1,118.9 653.2,123.7 655.2,128.6 657.3,133.5 659.3,138.2 661.4,142.7 663.4,146.9 665.4,150.6 667.5,153.9 669.5,156.8 671.6,159.7 673.6,162.4 675.7,165.0 677.7,167.5 679.8,169.7 681.8,171.8 683.8,173.6 685.9,175.3 687.9,176.7 690.0,178.1 692.0,179.5 694.1,180.9 696.1,182.1 698.1,183.3 700.2,184.2 702.2,184.9 704.3,185.4 706.3,185.6 708.4,185.5 710.4,185.4 712.5,185.1 714.5,184.8 716.5,184.4 718.6,184.0 720.6,183.5 722.7,183.0 724.7,182.3 726.8,181.4 728.8,180.3 730.8,179.0 732.9,177.6 734.9,176.0 737.0,174.3 739.0,172.5 741.1,170.3 743.1,167.7 745.2,164.7 747.2,161.4 749.2,158.1 751.3,154.6 753.3,150.9 755.4,146.9 757.4,142.6 759.5,138.1 761.5,133.4" stroke="#77AC30" stroke-width="1.25" fill="none"/>
<path d="M434.5,131.4 436.5,127.7 438.6,124.0 440.6,120.3 442.7,116.6 444.7,113.0 446.8,109.4 448.8,105.8 450.9,102.3 452.9,98.8 454.9,95.4 457.0,92.1 459.0,88.8 461.1,85.6 463.1,82.5 465.2,79.4 467.2,76.5 469.2,73.6 471.3,70.9 473.3,68.2 475.4,65.7 477.4,63.3 479.5,61.0 481.5,58.9 483.6,56.8 485.6,54.9 487.6,53.2 489.7,51.5 491.7,50.0 493.8,48.7 495.8,47.5 497.9,46.5 499.9,45.6 501.9,44.8 504.0,44.2 506.0,43.8 508.1,43.5 510.1,43.4 512.2,43.4 514.2,43.5 516.2,43.7 518.3,44.0 520.3,44.3 522.4,44.7 524.4,45.1 526.5,45.6 528.5,46.1 530.6,46.6 532.6,47.1 534.6,47.7 536.7,48.3 538.7,48.8 540.8,49.4 542.8,50.1 544.9,50.8 546.9,51.6 549.0,52.5 551.0,53.4 553.0,54.4 555.1,55.4 557.1,56.5 559.2,57.6 561.2,58.7 563.3,59.8 565.3,61.0 567.3,62.2 569.4,63.4 571.4,64.7 573.5,66.1 575.5,67.6 577.6,69.1 579.6,70.6 581.6,72.3 583.7,73.9 585.7,75.5 587.8,77.2 589.8,78.8 591.9,80.4 593.9,82.0 596.0,83.5 598.0,84.9 600.0,86.3 602.1,87.6 604.1,89.0 606.2,90.4 608.2,92.0 610.3,93.8 612.3,95.9 614.4,98.4 616.4,101.1 618.4,104.0 620.5,107.1 622.5,110.4 624.6,113.6 626.6,116.9 628.7,120.2 630.7,123.3 632.7,126.5 634.8,129.8 636.8,133.3 638.9,136.8 640.9,140.4 643.0,144.0 645.0,147.5 647.0,150.9 649.1,154.2 651.1,157.3 653.2,160.2 655.2,162.8 657.3,165.1 659.3,167.2 661.4,169.3 663.4,171.3 665.4,173.2 667.5,175.1 669.5,176.8 671.6,178.5 673.6,180.1 675.7,181.5 677.7,182.9 679.8,184.1 681.8,185.2 683.8,186.2 685.9,187.2 687.9,188.2 690.0,189.2 692.0,190.1 694.1,191.0 696.1,191.8 698.1,192.5 700.2,193.2 702.2,193.7 704.3,194.2 706.3,194.5 708.4,194.6 710.4,194.6 712.5,194.5 714.5,194.3 716.5,194.1 718.6,193.8 720.6,193.4 722.7,193.1 724.7,192.7 726.8,192.2 728.8,191.4 730.8,190.6 732.9,189.6 734.9,188.5 737.0,187.2 739.0,185.9 741.1,184.5 743.1,182.6 745.2,180.5 747.2,178.1 749.2,175.6 751.3,173.0 753.3,170.3 755.4,167.3 757.4,164.1 759.5,160.7 761.5,157.1" stroke="#4DBEEE" stroke-width="1.25" fill="none"/>
<path d="M434.5,156.8 436.5,152.2 438.6,147.6 440.6,143.0 442.7,138.4 444.7,133.9 446.8,129.4 448.8,125.0 450.9,120.7 452.9,116.4 454.9,112.2 457.0,108.1 459.0,104.1 461.1,100.1 463.1,96.3 465.2,92.7 467.2,89.1 469.2,85.7 471.3,82.4 473.3,79.3 475.4,76.3 477.4,73.5 479.5,70.8 481.5,68.3 483.6,66.0 485.6,63.9 487.6,61.9 489.7,60.1 491.7,58.6 493.8,57.2 495.8,56.0 497.9,55.0 499.9,54.2 501.9,53.6 504.0,53.3 506.0,53.1 508.1,53.1 510.1,53.1 512.2,53.1 514.2,53.2 516.2,53.4 518.3,53.6 520.3,53.8 522.4,54.1 524.4,54.4 526.5,54.7 528.5,55.1 530.6,55.6 532.6,56.0 534.6,56.5 536.7,57.1 538.7,57.6 540.8,58.2 542.8,58.8 544.9,59.3 546.9,59.9 549.0,60.6 551.0,61.3 553.0,62.1 555.1,63.0 557.1,63.9 559.2,65.0 561.2,66.0 563.3,67.1 565.3,68.3 567.3,69.5 569.4,70.8 571.4,72.1 573.5,73.4 575.5,74.7 577.6,76.1 579.6,77.6 581.6,79.2 583.7,80.9 585.7,82.7 587.8,84.5 589.8,86.4 591.9,88.4 593.9,90.3 596.0,92.3 598.0,94.3 600.0,96.3 602.1,98.3 604.1,100.2 606.2,102.0 608.2,103.7 610.3,105.4 612.3,107.1 614.4,108.9 616.4,111.0 618.4,113.3 620.5,116.0 622.5,119.2 624.6,122.8 626.6,126.6 628.7,130.7 630.7,135.0 632.7,139.3 634.8,143.5 636.8,147.7 638.9,151.9 640.9,156.3 643.0,160.9 645.0,165.6 647.0,170.4 649.1,175.1 651.1,179.8 653.2,184.2 655.2,188.4 657.3,192.3 659.3,195.8 661.4,198.8 663.4,201.7 665.4,204.5 667.5,207.1 669.5,209.7 671.6,212.1 673.6,214.4 675.7,216.5 677.7,218.4 679.8,220.2 681.8,221.8 683.8,223.2 685.9,224.5 687.9,225.9 690.0,227.3 692.0,228.5 694.1,229.7 696.1,230.7 698.1,231.6 700.2,232.3 702.2,232.8 704.3,233.0 706.3,232.9 708.4,232.7 710.4,232.3 712.5,231.8 714.5,231.1 716.5,230.4 718.6,229.6 720.6,228.7 722.7,227.7 724.7,226.2 726.8,224.5 728.8,222.3 730.8,219.9 732.9,217.3 734.9,214.4 737.0,211.4 739.0,208.0 741.1,203.8 743.1,199.0 745.2,193.6 747.2,187.8 749.2,181.8 751.3,175.6 753.3,169.0 755.4,161.8 757.4,154.2 759.5,146.2 761.5,137.8" stroke="#7E2F8E" stroke-width="1.25" fill="none"/>
<path d="M434.5,133.2 436.5,130.6 438.6,128.0 440.6,125.4 442.7,122.8 444.7,120.2 446.8,117.6 448.8,115.1 450.9,112.6 452.9,110.1 454.9,107.6 457.0,105.2 459.0,102.9 461.1,100.5 463.1,98.3 465.2,96.0 467.2,93.9 469.2,91.7 471.3,89.7 473.3,87.7 475.4,85.8 477.4,83.9 479.5,82.1 481.5,80.4 483.6,78.7 485.6,77.2 487.6,75.7 489.7,74.3 491.7,73.0 493.8,71.8 495.8,70.6 497.9,69.6 499.9,68.7 501.9,67.8 504.0,67.0 506.0,66.4 508.1,65.8 510.1,65.3 512.2,64.9 514.2,64.7 516.2,64.5 518.3,64.4 520.3,64.4 522.4,64.4 524.4,64.4 526.5,64.5 528.5,64.6 530.6,64.7 532.6,64.8 534.6,65.0 536.7,65.3 538.7,65.5 540.8,65.8 542.8,66.2 544.9,66.5 546.9,67.0 549.0,67.4 551.0,67.9 553.0,68.4 555.1,68.9 557.1,69.5 559.2,70.0 561.2,70.6 563.3,71.2 565.3,71.9 567.3,72.7 569.4,73.6 571.4,74.5 573.5,75.6 575.5,76.6 577.6,77.8 579.6,79.0 581.6,80.3 583.7,81.6 585.7,82.9 587.8,84.3 589.8,85.7 591.9,87.3 593.9,89.0 596.0,90.8 598.0,92.7 600.0,94.6 602.1,96.7 604.1,98.8 606.2,100.9 608.2,103.0 610.3,105.2 612.3,107.2 614.4,109.2 616.4,111.1 618.4,112.9 620.5,114.8 622.5,116.8 624.6,119.2 626.6,122.0 628.7,125.4 630.7,129.3 632.7,133.7 634.8,138.3 636.8,143.0 638.9,147.7 640.9,152.4 643.0,157.1 645.0,162.1 647.0,167.3 649.1,172.6 651.1,177.9 653.2,183.1 655.2,188.0 657.3,192.5 659.3,196.5 661.4,199.9 663.4,203.1 665.4,206.2 667.5,209.2 669.5,211.9 671.6,214.5 673.6,216.8 675.7,218.9 677.7,220.7 679.8,222.3 681.8,223.9 683.8,225.4 685.9,226.9 687.9,228.2 690.0,229.4 692.0,230.3 694.1,230.8 696.1,231.0 698.1,230.9 700.2,230.8 702.2,230.6 704.3,230.2 706.3,229.9 708.4,229.4 710.4,228.9 712.5,228.4 714.5,227.9 716.5,227.2 718.6,226.4 720.6,225.3 722.7,224.1 724.7,222.7 726.8,221.2 728.8,219.5 730.8,217.8 732.9,215.9 734.9,213.9 737.0,211.5 739.0,208.7 741.1,205.5 743.1,202.1 745.2,198.5 747.2,194.8 749.2,191.1 751.3,187.1 753.3,182.8 755.4,178.3 757.4,173.5 759.5,168.5 761.5,163.3" stroke="#0072BD" stroke-width="1.25" fill="none"/>
<path d="M434.5,168.6 436.5,164.8 438.6,161.1 440.6,157.3 442.7,153.5 444.7,149.8 446.8,146.1 448.8,142.5 450.9,138.9 452.9,135.3 454.9,131.8 457.0,128.4 459.0,125.0 461.1,121.7 463.1,118.5 465.2,115.4 467.2,112.4 469.2,109.5 471.3,106.7 473.3,104.0 475.4,101.4 477.4,99.0 479.5,96.6 481.5,94.4 483.6,92.3 485.6,90.4 487.6,88.6 489.7,86.9 491.7,85.4 493.8,84.0 495.8,82.8 497.9,81.7 499.9,80.8 501.9,80.0 504.0,79.4 506.0,79.0 508.1,78.7 510.1,78.6 512.2,78.6 514.2,78.9 516.2,79.2 518.3,79.7 520.3,80.3 522.4,80.9 524.4,81.6 526.5,82.4 528.5,83.2 530.6,83.9 532.6,84.7 534.6,85.5 536.7,86.5 538.7,87.5 540.8,88.7 542.8,89.9 544.9,91.2 546.9,92.6 549.0,94.0 551.0,95.5 553.0,97.0 555.1,98.6 557.1,100.1 559.2,101.8 561.2,103.6 563.3,105.5 565.3,107.5 567.3,109.5 569.4,111.6 571.4,113.7 573.5,115.9 575.5,118.0 577.6,120.1 579.6,122.1 581.6,124.1 583.7,125.9 585.7,127.6 587.8,129.3 589.8,131.2 591.9,133.2 593.9,135.5 596.0,138.3 598.0,141.6 600.0,145.2 602.1,149.1 604.1,153.1 606.2,157.3 608.2,161.5 610.3,165.6 612.3,169.6 614.4,173.7 616.4,178.0 618.4,182.4 620.5,186.9 622.5,191.4 624.6,195.9 626.6,200.1 628.7,204.2 630.7,208.0 632.7,211.4 634.8,214.4 636.8,217.1 638.9,219.8 640.9,222.3 643.0,224.7 645.0,227.0 647.0,229.1 649.1,231.1 651.1,233.0 653.2,234.8 655.2,236.3 657.3,237.7 659.3,239.0 661.4,240.2 663.4,241.4 665.4,242.6 667.5,243.7 669.5,244.8 671.6,245.7 673.6,246.6 675.7,247.3 677.7,247.8 679.8,248.2 681.8,248.3 683.8,248.3 685.9,248.1 687.9,247.9 690.0,247.6 692.0,247.3 694.1,246.9 696.1,246.4 698.1,245.9 700.2,245.4 702.2,244.8 704.3,244.2 706.3,243.5 708.4,242.7 710.4,241.6 712.5,240.4 714.5,239.0 716.5,237.5 718.6,235.9 720.6,234.1 722.7,232.2 724.7,230.2 726.8,228.2 728.8,226.0 730.8,223.5 732.9,220.6 734.9,217.3 737.0,213.8 739.0,210.1 741.1,206.2 743.1,202.1 745.2,198.0 747.2,193.8 749.2,189.4 751.3,184.7 753.3,179.8 755.4,174.6 757.4,169.2 759.5,163.7 761.5,158.0" stroke="#EDB120" stroke-width="1.25" fill="none"/>
<path d="M434.5,152.7 436.5,148.9 438.6,145.1 440.6,141.3 442.7,137.6 444.7,133.9 446.8,130.3 448.8,126.7 450.9,123.2 452.9,119.8 454.9,116.4 457.0,113.2 459.0,110.1 461.1,107.1 463.1,104.3 465.2,101.5 467.2,99.0 469.2,96.6 471.3,94.3 473.3,92.2 475.4,90.3 477.4,88.5 479.5,87.0 481.5,85.6 483.6,84.4 485.6,83.4 487.6,82.6 489.7,82.0 491.7,81.6 493.8,81.4 495.8,81.4 497.9,81.4 499.9,81.5 501.9,81.6 504.0,81.7 506.0,81.8 508.1,82.0 510.1,82.2 512.2,82.5 514.2,82.8 516.2,83.1 518.3,83.5 520.3,83.9 522.4,84.3 524.4,84.8 526.5,85.2 528.5,85.7 530.6,86.2 532.6,86.8 534.6,87.3 536.7,87.8 538.7,88.4 540.8,89.0 542.8,89.7 544.9,90.4 546.9,91.2 549.0,92.1 551.0,93.0 553.0,94.0 555.1,95.0 557.1,96.0 559.2,97.1 561.2,98.3 563.3,99.4 565.3,100.6 567.3,101.8 569.4,103.0 571.4,104.3 573.5,105.7 575.5,107.1 577.6,108.7 579.6,110.3 581.6,111.9 583.7,113.7 585.7,115.4 587.8,117.2 589.8,119.0 591.9,120.8 593.9,122.7 596.0,124.5 598.0,126.2 600.0,127.9 602.1,129.6 604.1,131.1 606.2,132.6 608.2,134.2 610.3,135.8 612.3,137.6 614.4,139.7 616.4,142.0 618.4,144.8 620.5,147.8 622.5,151.2 624.6,154.8 626.6,158.6 628.7,162.5 630.7,166.4 632.7,170.3 634.8,174.1 636.8,177.8 638.9,181.8 640.9,186.0 643.0,190.2 645.0,194.6 647.0,198.9 649.1,203.1 651.1,207.3 653.2,211.3 655.2,215.0 657.3,218.4 659.3,221.5 661.4,224.2 663.4,226.8 665.4,229.4 667.5,231.8 669.5,234.2 671.6,236.4 673.6,238.5 675.7,240.5 677.7,242.3 679.8,244.0 681.8,245.5 683.8,246.9 685.9,248.2 687.9,249.4 690.0,250.7 692.0,251.9 694.1,253.0 696.1,254.1 698.1,255.1 700.2,255.9 702.2,256.6 704.3,257.1 706.3,257.4 708.4,257.5 710.4,257.4 712.5,257.2 714.5,256.8 716.5,256.4 718.6,255.8 720.6,255.2 722.7,254.6 724.7,253.9 726.8,252.8 728.8,251.5 730.8,249.9 732.9,248.1 734.9,246.2 737.0,244.0 739.0,241.7 741.1,239.0 743.1,235.7 745.2,231.9 747.2,227.8 749.2,223.4 751.3,218.9 753.3,214.1 755.4,208.9 757.4,203.4 759.5,197.5 761.5,191.3" stroke="#77AC30" stroke-width="1.25" fill="none"/>
<path d="M434.5,158.9 436.5,156.0 438.6,153.2 440.6,150.4 442.7,147.6 444.7,144.8 446.8,142.0 448.8,139.3 450.9,136.5 452.9,133.9 454.9,131.2 457.0,128.6 459.0,126.1 461.1,123.5 463.1,121.1 465.2,118.7 467.2,116.4 469.2,114.1 471.3,111.9 473.3,109.8 475.4,107.7 477.4,105.8 479.5,103.9 481.5,102.1 483.6,100.4 485.6,98.8 487.6,97.2 489.7,95.8 491.7,94.4 493.8,93.2 495.8,92.1 497.9,91.0 499.9,90.1 501.9,89.3 504.0,88.6 506.0,88.0 508.1,87.5 510.1,87.1 512.2,86.8 514.2,86.6 516.2,86.6 518.3,86.6 520.3,86.6 522.4,86.7 524.4,86.8 526.5,86.9 528.5,87.1 530.6,87.3 532.6,87.5 534.6,87.8 536.7,88.2 538.7,88.5 540.8,88.9 542.8,89.3 544.9,89.8 546.9,90.3 549.0,90.8 551.0,91.3 553.0,91.8 555.1,92.3 557.1,92.9 559.2,93.4 561.2,94.1 563.3,94.8 565.3,95.5 567.3,96.4 569.4,97.3 571.4,98.2 573.5,99.2 575.5,100.2 577.6,101.3 579.6,102.4 581.6,103.6 583.7,104.8 585.7,106.0 587.8,107.2 589.8,108.5 591.9,109.8 593.9,111.3 596.0,112.8 598.0,114.4 600.0,116.1 602.1,117.8 604.1,119.6 606.2,121.4 608.2,123.2 610.3,125.1 612.3,126.9 614.4,128.7 616.4,130.5 618.4,132.2 620.5,133.8 622.5,135.3 624.6,136.9 626.6,138.5 628.7,140.2 630.7,142.1 632.7,144.3 634.8,146.9 636.8,149.9 638.9,153.2 640.9,156.7 643.0,160.5 645.0,164.4 647.0,168.3 649.1,172.2 651.1,176.0 653.2,179.8 655.2,183.8 657.3,188.0 659.3,192.3 661.4,196.6 663.4,201.0 665.4,205.3 667.5,209.4 669.5,213.4 671.6,217.1 673.6,220.4 675.7,223.4 677.7,226.1 679.8,228.7 681.8,231.2 683.8,233.6 685.9,235.9 687.9,238.1 690.0,240.2 692.0,242.1 694.1,243.8 696.1,245.4 698.1,246.9 700.2,248.1 702.2,249.4 704.3,250.7 706.3,251.9 708.4,253.1 710.4,254.1 712.5,255.1 714.5,256.0 716.5,256.7 718.6,257.2 720.6,257.4 722.7,257.5 724.7,257.1 726.8,256.5 728.8,255.5 730.8,254.4 732.9,253.1 734.9,251.5 737.0,249.1 739.0,246.0 741.1,242.2 743.1,238.0 745.2,233.4 747.2,227.5 749.2,220.1 751.3,211.7 753.3,202.8 755.4,193.4 757.4,182.8 759.5,171.2 761.5,158.9" stroke="#D95319" stroke-width="1.25" fill="none"/>
<path d="M434.5,174.8 436.5,171.4 438.6,167.9 440.6,164.4 442.7,161.0 444.7,157.6 446.8,154.3 448.8,150.9 450.9,147.7 452.9,144.5 454.9,141.3 457.0,138.3 459.0,135.3 461.1,132.4 463.1,129.6 465.2,126.9 467.2,124.3 469.2,121.8 471.3,119.5 473.3,117.2 475.4,115.1 477.4,113.1 479.5,111.3 481.5,109.6 483.6,108.0 485.6,106.6 487.6,105.3 489.7,104.2 491.7,103.2 493.8,102.4 495.8,101.8 497.9,101.3 499.9,101.0 501.9,100.9 504.0,100.8 506.0,100.9 508.1,100.9 510.1,101.1 512.2,101.2 514.2,101.5 516.2,101.8 518.3,102.1 520.3,102.5 522.4,102.9 524.4,103.4 526.5,103.9 528.5,104.5 530.6,105.1 532.6,105.7 534.6,106.3 536.7,106.9 538.7,107.6 540.8,108.4 542.8,109.3 544.9,110.2 546.9,111.2 549.0,112.3 551.0,113.5 553.0,114.8 555.1,116.1 557.1,117.4 559.2,118.8 561.2,120.3 563.3,121.7 565.3,123.3 567.3,125.0 569.4,126.8 571.4,128.7 573.5,130.7 575.5,132.8 577.6,134.9 579.6,137.0 581.6,139.2 583.7,141.3 585.7,143.4 587.8,145.4 589.8,147.3 591.9,149.1 593.9,151.0 596.0,152.9 598.0,155.2 600.0,157.8 602.1,160.9 604.1,164.6 606.2,168.7 608.2,173.1 610.3,177.7 612.3,182.3 614.4,186.9 616.4,191.3 618.4,196.0 620.5,200.9 622.5,206.0 624.6,211.2 626.6,216.2 628.7,221.1 630.7,225.8 632.7,230.0 634.8,233.7 636.8,237.0 638.9,240.0 640.9,243.0 643.0,245.8 645.0,248.4 647.0,250.9 649.1,253.1 651.1,255.2 653.2,257.0 655.2,258.6 657.3,260.1 659.3,261.5 661.4,263.0 663.4,264.3 665.4,265.5 667.5,266.6 669.5,267.4 671.6,268.0 673.6,268.2 675.7,268.2 677.7,268.1 679.8,267.9 681.8,267.6 683.8,267.3 685.9,267.0 687.9,266.6 690.0,266.1 692.0,265.6 694.1,265.1 696.1,264.6 698.1,264.0 700.2,263.4 702.2,262.6 704.3,261.7 706.3,260.6 708.4,259.4 710.4,258.0 712.5,256.6 714.5,255.0 716.5,253.3 718.6,251.5 720.6,249.6 722.7,247.7 724.7,245.7 726.8,243.4 728.8,240.8 730.8,237.9 732.9,234.7 734.9,231.3 737.0,227.7 739.0,224.0 741.1,220.1 743.1,216.2 745.2,212.3 747.2,208.1 749.2,203.8 751.3,199.2 753.3,194.4 755.4,189.4 757.4,184.3 759.5,179.0 761.5,173.5" stroke="#7E2F8E" stroke-width="1.25" fill="none"/>
<path d="M434.5,183.7 436.5,180.2 438.6,176.8 440.6,173.3 442.7,169.9 444.7,166.4 446.8,163.1 448.8,159.7 450.9,156.4 452.9,153.2 454.9,150.0 457.0,146.9 459.0,143.9 461.1,141.0 463.1,138.1 465.2,135.3 467.2,132.6 469.2,130.0 471.3,127.6 473.3,125.2 475.4,123.0 477.4,120.9 479.5,118.9 481.5,117.0 483.6,115.2 485.6,113.7 487.6,112.2 489.7,110.9 491.7,109.7 493.8,108.7 495.8,107.8 497.9,107.1 499.9,106.5 501.9,106.1 504.0,105.8 506.0,105.7 508.1,105.7 510.1,105.7 512.2,105.8 514.2,105.9 516.2,106.1 518.3,106.3 520.3,106.5 522.4,106.8 524.4,107.1 526.5,107.5 528.5,107.9 530.6,108.3 532.6,108.8 534.6,109.2 536.7,109.8 538.7,110.3 540.8,110.8 542.8,111.4 544.9,112.0 546.9,112.6 549.0,113.3 551.0,114.1 553.0,114.9 555.1,115.8 557.1,116.8 559.2,117.8 561.2,118.9 563.3,120.0 565.3,121.2 567.3,122.4 569.4,123.7 571.4,125.0 573.5,126.3 575.5,127.6 577.6,129.1 579.6,130.7 581.6,132.4 583.7,134.1 585.7,135.9 587.8,137.8 589.8,139.6 591.9,141.5 593.9,143.5 596.0,145.3 598.0,147.2 600.0,149.0 602.1,150.7 604.1,152.3 606.2,153.9 608.2,155.6 610.3,157.4 612.3,159.4 614.4,161.8 616.4,164.7 618.4,167.9 620.5,171.5 622.5,175.3 624.6,179.4 626.6,183.4 628.7,187.5 630.7,191.5 632.7,195.5 634.8,199.7 636.8,204.0 638.9,208.5 640.9,213.1 643.0,217.6 645.0,222.0 647.0,226.2 649.1,230.1 651.1,233.7 653.2,236.8 655.2,239.6 657.3,242.3 659.3,244.9 661.4,247.4 663.4,249.8 665.4,252.0 667.5,254.1 669.5,256.0 671.6,257.7 673.6,259.2 675.7,260.6 677.7,261.9 679.8,263.2 681.8,264.5 683.8,265.7 685.9,266.8 687.9,267.7 690.0,268.6 692.0,269.2 694.1,269.6 696.1,269.7 698.1,269.6 700.2,269.4 702.2,269.1 704.3,268.7 706.3,268.3 708.4,267.7 710.4,267.1 712.5,266.5 714.5,265.8 716.5,265.0 718.6,263.9 720.6,262.6 722.7,261.1 724.7,259.3 726.8,257.4 728.8,255.3 730.8,253.1 732.9,250.7 734.9,248.2 737.0,245.1 739.0,241.6 741.1,237.7 743.1,233.4 745.2,228.9 747.2,224.2 749.2,219.5 751.3,214.5 753.3,209.1 755.4,203.4 757.4,197.4 759.5,191.1 761.5,184.6" stroke="#0072BD" stroke-width="1.25" fill="none"/>
<path d="M434.5,192.6 436.5,188.4 438.6,184.3 440.6,180.2 442.7,176.1 444.7,172.1 446.8,168.1 448.8,164.2 450.9,160.4 452.9,156.7 454.9,153.1 457.0,149.6 459.0,146.2 461.1,142.9 463.1,139.8 465.2,136.9 467.2,134.0 469.2,131.4 471.3,128.9 473.3,126.7 475.4,124.6 477.4,122.7 479.5,121.0 481.5,119.5 483.6,118.2 485.6,117.1 487.6,116.2 489.7,115.6 491.7,115.2 493.8,114.9 495.8,114.9 497.9,115.0 499.9,115.0 501.9,115.1 504.0,115.2 506.0,115.4 508.1,115.6 510.1,115.9 512.2,116.2 514.2,116.6 516.2,117.0 518.3,117.4 520.3,117.8 522.4,118.3 524.4,118.8 526.5,119.4 528.5,119.9 530.6,120.5 532.6,121.1 534.6,121.6 536.7,122.3 538.7,123.0 540.8,123.8 542.8,124.7 544.9,125.6 546.9,126.6 549.0,127.7 551.0,128.8 553.0,130.0 555.1,131.2 557.1,132.4 559.2,133.7 561.2,135.0 563.3,136.3 565.3,137.7 567.3,139.2 569.4,140.7 571.4,142.4 573.5,144.2 575.5,146.0 577.6,147.9 579.6,149.8 581.6,151.8 583.7,153.7 585.7,155.6 587.8,157.6 589.8,159.5 591.9,161.3 593.9,163.0 596.0,164.6 598.0,166.3 600.0,168.0 602.1,169.9 604.1,172.0 606.2,174.6 608.2,177.5 610.3,180.9 612.3,184.6 614.4,188.5 616.4,192.7 618.4,196.8 620.5,201.0 622.5,205.1 624.6,209.1 626.6,213.4 628.7,217.9 630.7,222.5 632.7,227.1 634.8,231.7 636.8,236.3 638.9,240.6 640.9,244.8 643.0,248.6 645.0,252.0 647.0,255.0 649.1,257.8 651.1,260.5 653.2,263.1 655.2,265.6 657.3,267.9 659.3,270.2 661.4,272.2 663.4,274.1 665.4,275.8 667.5,277.3 669.5,278.7 671.6,280.0 673.6,281.4 675.7,282.7 677.7,283.9 679.8,285.0 681.8,286.0 683.8,286.8 685.9,287.5 687.9,287.9 690.0,288.0 692.0,287.9 694.1,287.8 696.1,287.6 698.1,287.2 700.2,286.8 702.2,286.4 704.3,285.9 706.3,285.3 708.4,284.8 710.4,284.1 712.5,283.4 714.5,282.5 716.5,281.4 718.6,280.0 720.6,278.5 722.7,276.9 724.7,275.1 726.8,273.2 728.8,271.2 730.8,269.1 732.9,266.8 734.9,264.0 737.0,260.9 739.0,257.4 741.1,253.6 743.1,249.7 745.2,245.6 747.2,241.4 749.2,237.1 751.3,232.6 753.3,227.7 755.4,222.6 757.4,217.2 759.5,211.6 761.5,205.9" stroke="#A2142F" stroke-width="1.25" fill="none"/>
<path d="M434.5,197.0 436.5,194.3 438.6,191.6 440.6,188.9 442.7,186.2 444.7,183.5 446.8,180.9 448.8,178.2 450.9,175.6 452.9,173.1 454.9,170.5 457.0,168.1 459.0,165.6 461.1,163.2 463.1,160.9 465.2,158.6 467.2,156.4 469.2,154.2 471.3,152.1 473.3,150.1 475.4,148.1 477.4,146.2 479.5,144.4 481.5,142.7 483.6,141.1 485.6,139.5 487.6,138.1 489.7,136.7 491.7,135.4 493.8,134.2 495.8,133.1 497.9,132.1 499.9,131.3 501.9,130.5 504.0,129.8 506.0,129.2 508.1,128.7 510.1,128.3 512.2,128.1 514.2,127.9 516.2,127.9 518.3,127.9 520.3,127.9 522.4,128.0 524.4,128.1 526.5,128.3 528.5,128.5 530.6,128.7 532.6,129.0 534.6,129.4 536.7,129.8 538.7,130.2 540.8,130.6 542.8,131.1 544.9,131.6 546.9,132.2 549.0,132.7 551.0,133.3 553.0,133.8 555.1,134.5 557.1,135.2 559.2,135.9 561.2,136.8 563.3,137.7 565.3,138.7 567.3,139.7 569.4,140.8 571.4,141.9 573.5,143.1 575.5,144.3 577.6,145.6 579.6,146.9 581.6,148.2 583.7,149.6 585.7,151.1 587.8,152.8 589.8,154.5 591.9,156.2 593.9,158.1 596.0,160.0 598.0,161.9 600.0,163.8 602.1,165.7 604.1,167.6 606.2,169.4 608.2,171.2 610.3,172.9 612.3,174.5 614.4,176.1 616.4,177.9 618.4,179.9 620.5,182.2 622.5,185.0 624.6,188.2 626.6,191.8 628.7,195.6 630.7,199.7 632.7,203.8 634.8,207.9 636.8,211.9 638.9,215.9 640.9,220.1 643.0,224.6 645.0,229.1 647.0,233.7 649.1,238.2 651.1,242.6 653.2,246.7 655.2,250.6 657.3,254.0 659.3,257.0 661.4,259.8 663.4,262.5 665.4,265.1 667.5,267.5 669.5,269.8 671.6,271.9 673.6,273.9 675.7,275.7 677.7,277.3 679.8,278.7 681.8,280.1 683.8,281.4 685.9,282.7 687.9,283.9 690.0,285.0 692.0,286.0 694.1,286.9 696.1,287.5 698.1,287.9 700.2,288.0 702.2,287.9 704.3,287.7 706.3,287.4 708.4,287.0 710.4,286.5 712.5,286.0 714.5,285.4 716.5,284.7 718.6,284.0 720.6,283.1 722.7,281.9 724.7,280.4 726.8,278.8 728.8,277.0 730.8,274.9 732.9,272.8 734.9,270.5 737.0,268.0 739.0,265.0 741.1,261.4 743.1,257.5 745.2,253.3 747.2,248.9 749.2,244.3 751.3,239.7 753.3,234.6 755.4,229.2 757.4,223.4 759.5,217.4 761.5,211.2" stroke="#EDB120" stroke-width="1.25" fill="none"/>
<path d="M434.5,203.2 436.5,199.6 438.6,195.9 440.6,192.3 442.7,188.7 444.7,185.2 446.8,181.6 448.8,178.2 450.9,174.7 452.9,171.3 454.9,168.0 457.0,164.7 459.0,161.5 461.1,158.4 463.1,155.3 465.2,152.4 467.2,149.5 469.2,146.7 471.3,144.1 473.3,141.5 475.4,139.1 477.4,136.7 479.5,134.5 481.5,132.5 483.6,130.5 485.6,128.7 487.6,127.0 489.7,125.5 491.7,124.1 493.8,122.8 495.8,121.7 497.9,120.7 499.9,119.9 501.9,119.2 504.0,118.7 506.0,118.4 508.1,118.2 510.1,118.1 512.2,118.1 514.2,118.2 516.2,118.2 518.3,118.3 520.3,118.5 522.4,118.7 524.4,118.9 526.5,119.2 528.5,119.5 530.6,119.8 532.6,120.2 534.6,120.6 536.7,121.1 538.7,121.5 540.8,122.0 542.8,122.5 544.9,123.1 546.9,123.6 549.0,124.1 551.0,124.7 553.0,125.3 555.1,126.0 557.1,126.7 559.2,127.5 561.2,128.4 563.3,129.4 565.3,130.3 567.3,131.4 569.4,132.5 571.4,133.6 573.5,134.7 575.5,135.9 577.6,137.1 579.6,138.4 581.6,139.7 583.7,141.0 585.7,142.4 587.8,144.0 589.8,145.6 591.9,147.3 593.9,149.0 596.0,150.8 598.0,152.7 600.0,154.5 602.1,156.3 604.1,158.2 606.2,160.0 608.2,161.8 610.3,163.5 612.3,165.2 614.4,166.7 616.4,168.3 618.4,169.9 620.5,171.6 622.5,173.6 624.6,175.9 626.6,178.6 628.7,181.6 630.7,185.0 632.7,188.7 634.8,192.5 636.8,196.5 638.9,200.4 640.9,204.4 643.0,208.2 645.0,212.1 647.0,216.2 649.1,220.5 651.1,224.8 653.2,229.2 655.2,233.6 657.3,237.9 659.3,242.0 661.4,245.9 663.4,249.5 665.4,252.7 667.5,255.5 669.5,258.2 671.6,260.8 673.6,263.3 675.7,265.6 677.7,267.9 679.8,270.0 681.8,272.0 683.8,273.8 685.9,275.5 687.9,277.0 690.0,278.3 692.0,279.6 694.1,280.9 696.1,282.1 698.1,283.3 700.2,284.4 702.2,285.5 704.3,286.3 706.3,287.1 708.4,287.6 710.4,287.9 712.5,288.0 714.5,287.9 716.5,287.5 718.6,287.1 720.6,286.5 722.7,285.8 724.7,285.1 726.8,284.3 728.8,283.2 730.8,281.7 732.9,279.9 734.9,277.7 737.0,275.4 739.0,272.8 741.1,270.0 743.1,266.6 745.2,262.4 747.2,257.7 749.2,252.6 751.3,247.3 753.3,241.7 755.4,235.7 757.4,229.1 759.5,222.1 761.5,214.7" stroke="#D95319" stroke-width="1.25" fill="none"/>
<path d="M434.5,205.9 436.5,203.5 438.6,201.2 440.6,198.8 442.7,196.5 444.7,194.2 446.8,192.0 448.8,189.7 450.9,187.5 452.9,185.4 454.9,183.3 457.0,181.3 459.0,179.3 461.1,177.4 463.1,175.5 465.2,173.7 467.2,172.0 469.2,170.4 471.3,168.9 473.3,167.4 475.4,166.1 477.4,164.8 479.5,163.7 481.5,162.6 483.6,161.6 485.6,160.8 487.6,160.1 489.7,159.4 491.7,158.9 493.8,158.5 495.8,158.2 497.9,158.1 499.9,158.0 501.9,158.0 504.0,158.0 506.0,158.1 508.1,158.2 510.1,158.4 512.2,158.6 514.2,158.9 516.2,159.2 518.3,159.5 520.3,159.9 522.4,160.3 524.4,160.7 526.5,161.2 528.5,161.7 530.6,162.2 532.6,162.8 534.6,163.3 536.7,163.8 538.7,164.5 540.8,165.2 542.8,166.0 544.9,166.8 546.9,167.7 549.0,168.7 551.0,169.8 553.0,170.8 555.1,172.0 557.1,173.1 559.2,174.3 561.2,175.6 563.3,176.8 565.3,178.2 567.3,179.6 569.4,181.2 571.4,182.8 573.5,184.5 575.5,186.3 577.6,188.1 579.6,189.9 581.6,191.7 583.7,193.5 585.7,195.3 587.8,197.0 589.8,198.7 591.9,200.2 593.9,201.7 596.0,203.4 598.0,205.2 600.0,207.3 602.1,209.8 604.1,212.8 606.2,216.2 608.2,219.8 610.3,223.7 612.3,227.6 614.4,231.5 616.4,235.3 618.4,239.1 620.5,243.2 622.5,247.4 624.6,251.7 626.6,256.1 628.7,260.3 630.7,264.4 632.7,268.3 634.8,271.9 636.8,275.0 638.9,277.7 640.9,280.3 643.0,282.8 645.0,285.2 647.0,287.4 649.1,289.5 651.1,291.5 653.2,293.2 655.2,294.8 657.3,296.2 659.3,297.5 661.4,298.7 663.4,299.9 665.4,301.1 667.5,302.2 669.5,303.2 671.6,304.0 673.6,304.5 675.7,304.9 677.7,305.0 679.8,304.9 681.8,304.8 683.8,304.6 685.9,304.4 687.9,304.0 690.0,303.7 692.0,303.3 694.1,302.8 696.1,302.3 698.1,301.8 700.2,301.3 702.2,300.7 704.3,300.0 706.3,299.2 708.4,298.2 710.4,297.0 712.5,295.7 714.5,294.3 716.5,292.8 718.6,291.2 720.6,289.5 722.7,287.7 724.7,285.9 726.8,283.9 728.8,281.7 730.8,279.1 732.9,276.3 734.9,273.2 737.0,269.9 739.0,266.4 741.1,262.8 743.1,259.1 745.2,255.4 747.2,251.6 749.2,247.5 751.3,243.2 753.3,238.8 755.4,234.1 757.4,229.3 759.5,224.3 761.5,219.2" stroke="#7E2F8E" stroke-width="1.25" fill="none"/>
<path d="M434.5,211.2 436.5,210.0 438.6,208.8 440.6,207.7 442.7,206.5 444.7,205.4 446.8,204.2 448.8,203.1 450.9,202.0 452.9,200.8 454.9,199.7 457.0,198.7 459.0,197.6 461.1,196.6 463.1,195.5 465.2,194.5 467.2,193.6 469.2,192.6 471.3,191.7 473.3,190.8 475.4,189.9 477.4,189.1 479.5,188.3 481.5,187.5 483.6,186.8 485.6,186.1 487.6,185.4 489.7,184.8 491.7,184.2 493.8,183.6 495.8,183.1 497.9,182.6 499.9,182.2 501.9,181.8 504.0,181.4 506.0,181.1 508.1,180.8 510.1,180.6 512.2,180.4 514.2,180.3 516.2,180.2 518.3,180.2 520.3,180.2 522.4,180.2 524.4,180.2 526.5,180.3 528.5,180.4 530.6,180.5 532.6,180.7 534.6,180.9 536.7,181.2 538.7,181.4 540.8,181.7 542.8,182.1 544.9,182.4 546.9,182.8 549.0,183.2 551.0,183.6 553.0,184.1 555.1,184.5 557.1,184.9 559.2,185.4 561.2,186.0 563.3,186.6 565.3,187.2 567.3,188.0 569.4,188.7 571.4,189.5 573.5,190.4 575.5,191.3 577.6,192.2 579.6,193.2 581.6,194.1 583.7,195.1 585.7,196.2 587.8,197.2 589.8,198.4 591.9,199.7 593.9,201.0 596.0,202.4 598.0,203.8 600.0,205.3 602.1,206.8 604.1,208.3 606.2,209.7 608.2,211.2 610.3,212.7 612.3,214.1 614.4,215.4 616.4,216.7 618.4,217.9 620.5,219.3 622.5,220.8 624.6,222.4 626.6,224.4 628.7,226.8 630.7,229.5 632.7,232.4 634.8,235.4 636.8,238.6 638.9,241.9 640.9,245.1 643.0,248.1 645.0,251.3 647.0,254.7 649.1,258.2 651.1,261.8 653.2,265.3 655.2,268.8 657.3,272.2 659.3,275.4 661.4,278.4 663.4,281.0 665.4,283.3 667.5,285.4 669.5,287.5 671.6,289.5 673.6,291.4 675.7,293.1 677.7,294.8 679.8,296.3 681.8,297.7 683.8,299.0 685.9,300.1 687.9,301.1 690.0,302.1 692.0,303.2 694.1,304.1 696.1,305.0 698.1,305.8 700.2,306.4 702.2,307.0 704.3,307.3 706.3,307.4 708.4,307.3 710.4,307.1 712.5,306.7 714.5,306.1 716.5,305.5 718.6,304.8 720.6,304.0 722.7,303.1 724.7,302.0 726.8,300.5 728.8,298.7 730.8,296.6 732.9,294.3 734.9,291.7 737.0,288.9 739.0,286.0 741.1,282.3 743.1,278.0 745.2,273.1 747.2,267.8 749.2,262.3 751.3,256.6 753.3,250.6 755.4,244.0 757.4,237.0 759.5,229.6 761.5,221.8" stroke="#4DBEEE" stroke-width="1.25" fill="none"/>
<path d="M434.5,214.7 436.5,213.1 438.6,211.6 440.6,210.0 442.7,208.4 444.7,206.8 446.8,205.3 448.8,203.8 450.9,202.3 452.9,200.8 454.9,199.3 457.0,197.9 459.0,196.5 461.1,195.1 463.1,193.8 465.2,192.5 467.2,191.2 469.2,190.0 471.3,188.9 473.3,187.7 475.4,186.7 477.4,185.6 479.5,184.7 481.5,183.8 483.6,182.9 485.6,182.1 487.6,181.4 489.7,180.7 491.7,180.1 493.8,179.5 495.8,179.1 497.9,178.6 499.9,178.3 501.9,178.0 504.0,177.8 506.0,177.6 508.1,177.5 510.1,177.5 512.2,177.5 514.2,177.5 516.2,177.6 518.3,177.6 520.3,177.7 522.4,177.8 524.4,177.9 526.5,178.0 528.5,178.1 530.6,178.3 532.6,178.4 534.6,178.6 536.7,178.8 538.7,179.0 540.8,179.2 542.8,179.5 544.9,179.7 546.9,179.9 549.0,180.2 551.0,180.4 553.0,180.7 555.1,181.0 557.1,181.4 559.2,181.8 561.2,182.2 563.3,182.6 565.3,183.1 567.3,183.5 569.4,184.0 571.4,184.5 573.5,185.0 575.5,185.6 577.6,186.1 579.6,186.7 581.6,187.3 583.7,188.0 585.7,188.7 587.8,189.4 589.8,190.1 591.9,190.9 593.9,191.7 596.0,192.4 598.0,193.2 600.0,194.0 602.1,194.7 604.1,195.5 606.2,196.2 608.2,196.8 610.3,197.5 612.3,198.2 614.4,198.9 616.4,199.8 618.4,200.8 620.5,202.0 622.5,203.4 624.6,204.9 626.6,206.5 628.7,208.1 630.7,209.8 632.7,211.5 634.8,213.1 636.8,214.7 638.9,216.4 640.9,218.3 643.0,220.1 645.0,222.0 647.0,223.8 649.1,225.6 651.1,227.3 653.2,228.9 655.2,230.3 657.3,231.6 659.3,232.8 661.4,233.9 663.4,234.9 665.4,235.9 667.5,236.9 669.5,237.8 671.6,238.6 673.6,239.4 675.7,240.1 677.7,240.7 679.8,241.3 681.8,241.8 683.8,242.4 685.9,242.9 687.9,243.4 690.0,243.8 692.0,244.2 694.1,244.5 696.1,244.8 698.1,245.0 700.2,245.0 702.2,245.0 704.3,244.9 706.3,244.8 708.4,244.7 710.4,244.6 712.5,244.5 714.5,244.3 716.5,244.1 718.6,243.9 720.6,243.7 722.7,243.4 724.7,243.0 726.8,242.5 728.8,242.0 730.8,241.5 732.9,240.9 734.9,240.3 737.0,239.7 739.0,238.8 741.1,237.9 743.1,236.9 745.2,235.7 747.2,234.5 749.2,233.3 751.3,232.1 753.3,230.7 755.4,229.3 757.4,227.7 759.5,226.1 761.5,224.5" stroke="#0072BD" stroke-width="1.25" fill="none"/>
<path d="M434.5,219.2 436.5,217.6 438.6,216.0 440.6,214.4 442.7,212.8 444.7,211.2 446.8,209.6 448.8,208.1 450.9,206.6 452.9,205.0 454.9,203.6 457.0,202.1 459.0,200.6 461.1,199.2 463.1,197.9 465.2,196.5 467.2,195.2 469.2,193.9 471.3,192.7 473.3,191.5 475.4,190.3 477.4,189.2 479.5,188.2 481.5,187.1 483.6,186.2 485.6,185.3 487.6,184.4 489.7,183.6 491.7,182.8 493.8,182.1 495.8,181.5 497.9,180.9 499.9,180.4 501.9,179.9 504.0,179.5 506.0,179.2 508.1,178.9 510.1,178.7 512.2,178.5 514.2,178.4 516.2,178.4 518.3,178.4 520.3,178.4 522.4,178.5 524.4,178.5 526.5,178.6 528.5,178.7 530.6,178.9 532.6,179.0 534.6,179.2 536.7,179.4 538.7,179.6 540.8,179.9 542.8,180.1 544.9,180.4 546.9,180.7 549.0,181.0 551.0,181.2 553.0,181.6 555.1,181.9 557.1,182.3 559.2,182.7 561.2,183.2 563.3,183.7 565.3,184.2 567.3,184.8 569.4,185.4 571.4,186.0 573.5,186.6 575.5,187.3 577.6,187.9 579.6,188.6 581.6,189.4 583.7,190.2 585.7,191.1 587.8,192.0 589.8,192.9 591.9,193.9 593.9,194.8 596.0,195.8 598.0,196.8 600.0,197.7 602.1,198.6 604.1,199.5 606.2,200.3 608.2,201.1 610.3,202.0 612.3,203.0 614.4,204.1 616.4,205.4 618.4,207.0 620.5,208.8 622.5,210.8 624.6,212.8 626.6,214.9 628.7,217.0 630.7,219.0 632.7,221.1 634.8,223.2 636.8,225.5 638.9,227.8 640.9,230.1 643.0,232.4 645.0,234.5 647.0,236.5 649.1,238.3 651.1,239.9 653.2,241.3 655.2,242.7 657.3,244.0 659.3,245.2 661.4,246.4 663.4,247.5 665.4,248.4 667.5,249.3 669.5,250.1 671.6,250.8 673.6,251.5 675.7,252.1 677.7,252.8 679.8,253.4 681.8,253.9 683.8,254.3 685.9,254.7 687.9,254.9 690.0,255.0 692.0,255.0 694.1,254.9 696.1,254.9 698.1,254.7 700.2,254.6 702.2,254.5 704.3,254.3 706.3,254.1 708.4,253.9 710.4,253.7 712.5,253.5 714.5,253.2 716.5,252.8 718.6,252.4 720.6,251.9 722.7,251.3 724.7,250.8 726.8,250.1 728.8,249.5 730.8,248.8 732.9,248.0 734.9,247.1 737.0,246.1 739.0,244.9 741.1,243.7 743.1,242.4 745.2,241.1 747.2,239.7 749.2,238.3 751.3,236.8 753.3,235.2 755.4,233.5 757.4,231.7 759.5,229.9 761.5,228.0" stroke="#77AC30" stroke-width="1.25" fill="none"/>
<path d="M434.5,222.7 436.5,219.1 438.6,215.4 440.6,211.8 442.7,208.2 444.7,204.7 446.8,201.1 448.8,197.6 450.9,194.2 452.9,190.8 454.9,187.5 457.0,184.3 459.0,181.1 461.1,178.0 463.1,175.0 465.2,172.1 467.2,169.3 469.2,166.6 471.3,164.0 473.3,161.6 475.4,159.2 477.4,157.0 479.5,154.9 481.5,153.0 483.6,151.1 485.6,149.5 487.6,147.9 489.7,146.6 491.7,145.3 493.8,144.3 495.8,143.3 497.9,142.6 499.9,142.0 501.9,141.6 504.0,141.3 506.0,141.2 508.1,141.2 510.1,141.2 512.2,141.2 514.2,141.3 516.2,141.3 518.3,141.4 520.3,141.6 522.4,141.7 524.4,141.9 526.5,142.1 528.5,142.3 530.6,142.5 532.6,142.8 534.6,143.1 536.7,143.4 538.7,143.7 540.8,144.0 542.8,144.3 544.9,144.6 546.9,144.9 549.0,145.3 551.0,145.6 553.0,146.1 555.1,146.5 557.1,147.0 559.2,147.5 561.2,148.1 563.3,148.7 565.3,149.3 567.3,150.0 569.4,150.7 571.4,151.4 573.5,152.1 575.5,152.8 577.6,153.6 579.6,154.3 581.6,155.1 583.7,156.0 585.7,156.9 587.8,157.9 589.8,158.9 591.9,159.9 593.9,161.0 596.0,162.1 598.0,163.2 600.0,164.3 602.1,165.4 604.1,166.6 606.2,167.7 608.2,168.7 610.3,169.8 612.3,170.7 614.4,171.7 616.4,172.6 618.4,173.6 620.5,174.7 622.5,175.9 624.6,177.3 626.6,179.0 628.7,180.9 630.7,183.0 632.7,185.2 634.8,187.5 636.8,189.9 638.9,192.3 640.9,194.7 643.0,197.1 645.0,199.4 647.0,201.9 649.1,204.5 651.1,207.1 653.2,209.8 655.2,212.4 657.3,215.1 659.3,217.6 661.4,220.0 663.4,222.2 665.4,224.3 667.5,226.1 669.5,227.7 671.6,229.3 673.6,230.9 675.7,232.3 677.7,233.7 679.8,235.1 681.8,236.3 683.8,237.5 685.9,238.6 687.9,239.6 690.0,240.4 692.0,241.2 694.1,242.0 696.1,242.8 698.1,243.5 700.2,244.2 702.2,244.9 704.3,245.5 706.3,246.0 708.4,246.5 710.4,246.8 712.5,247.0 714.5,247.0 716.5,247.0 718.6,246.9 720.6,246.8 722.7,246.6 724.7,246.5 726.8,246.3 728.8,246.1 730.8,245.8 732.9,245.4 734.9,245.0 737.0,244.5 739.0,243.9 741.1,243.3 743.1,242.5 745.2,241.6 747.2,240.6 749.2,239.4 751.3,238.2 753.3,236.9 755.4,235.5 757.4,234.0 759.5,232.4 761.5,230.7" stroke="#A2142F" stroke-width="1.25" fill="none"/>
<path d="M434.5,227.1 436.5,225.1 438.6,223.0 440.6,221.0 442.7,218.9 444.7,216.9 446.8,214.9 448.8,212.9 450.9,210.9 452.9,208.9 454.9,207.0 457.0,205.0 459.0,203.2 461.1,201.3 463.1,199.5 465.2,197.7 467.2,196.0 469.2,194.3 471.3,192.6 473.3,191.0 475.4,189.4 477.4,187.9 479.5,186.4 481.5,185.0 483.6,183.7 485.6,182.4 487.6,181.1 489.7,180.0 491.7,178.9 493.8,177.8 495.8,176.8 497.9,175.9 499.9,175.0 501.9,174.3 504.0,173.6 506.0,172.9 508.1,172.3 510.1,171.8 512.2,171.4 514.2,171.1 516.2,170.8 518.3,170.6 520.3,170.5 522.4,170.4 524.4,170.4 526.5,170.4 528.5,170.5 530.6,170.6 532.6,170.7 534.6,170.9 536.7,171.1 538.7,171.3 540.8,171.6 542.8,171.9 544.9,172.3 546.9,172.6 549.0,173.0 551.0,173.4 553.0,173.8 555.1,174.2 557.1,174.7 559.2,175.2 561.2,175.8 563.3,176.4 565.3,177.1 567.3,177.8 569.4,178.6 571.4,179.4 573.5,180.3 575.5,181.2 577.6,182.1 579.6,183.1 581.6,184.1 583.7,185.1 585.7,186.3 587.8,187.6 589.8,188.9 591.9,190.2 593.9,191.6 596.0,193.0 598.0,194.4 600.0,195.8 602.1,197.2 604.1,198.5 606.2,199.7 608.2,200.9 610.3,202.1 612.3,203.5 614.4,205.0 616.4,206.9 618.4,209.1 620.5,211.7 622.5,214.5 624.6,217.5 626.6,220.5 628.7,223.5 630.7,226.4 632.7,229.5 634.8,232.7 636.8,236.0 638.9,239.4 640.9,242.7 643.0,245.9 645.0,248.9 647.0,251.6 649.1,254.0 651.1,256.1 653.2,258.0 655.2,259.9 657.3,261.7 659.3,263.4 661.4,265.0 663.4,266.4 665.4,267.6 667.5,268.7 669.5,269.7 671.6,270.6 673.6,271.6 675.7,272.5 677.7,273.3 679.8,274.0 681.8,274.5 683.8,274.9 685.9,275.0 687.9,275.0 690.0,274.9 692.0,274.8 694.1,274.7 696.1,274.5 698.1,274.3 700.2,274.0 702.2,273.8 704.3,273.5 706.3,273.2 708.4,272.9 710.4,272.5 712.5,272.1 714.5,271.5 716.5,270.8 718.6,270.1 720.6,269.3 722.7,268.4 724.7,267.5 726.8,266.6 728.8,265.6 730.8,264.5 732.9,263.2 734.9,261.8 737.0,260.1 739.0,258.4 741.1,256.5 743.1,254.6 745.2,252.6 747.2,250.6 749.2,248.5 751.3,246.2 753.3,243.9 755.4,241.4 757.4,238.8 759.5,236.1 761.5,233.3" stroke="#D95319" stroke-width="1.25" fill="none"/>
<path d="M434.5,230.7 436.5,228.6 438.6,226.6 440.6,224.5 442.7,222.5 444.7,220.5 446.8,218.5 448.8,216.5 450.9,214.5 452.9,212.6 454.9,210.7 457.0,208.8 459.0,207.0 461.1,205.2 463.1,203.4 465.2,201.7 467.2,200.0 469.2,198.4 471.3,196.8 473.3,195.3 475.4,193.9 477.4,192.5 479.5,191.1 481.5,189.8 483.6,188.6 485.6,187.5 487.6,186.4 489.7,185.4 491.7,184.5 493.8,183.6 495.8,182.8 497.9,182.1 499.9,181.5 501.9,180.9 504.0,180.4 506.0,180.0 508.1,179.7 510.1,179.5 512.2,179.3 514.2,179.3 516.2,179.3 518.3,179.3 520.3,179.3 522.4,179.4 524.4,179.5 526.5,179.6 528.5,179.7 530.6,179.9 532.6,180.1 534.6,180.3 536.7,180.5 538.7,180.8 540.8,181.1 542.8,181.4 544.9,181.7 546.9,182.0 549.0,182.3 551.0,182.7 553.0,183.0 555.1,183.4 557.1,183.8 559.2,184.3 561.2,184.8 563.3,185.3 565.3,185.9 567.3,186.5 569.4,187.2 571.4,187.8 573.5,188.6 575.5,189.3 577.6,190.0 579.6,190.8 581.6,191.6 583.7,192.4 585.7,193.3 587.8,194.2 589.8,195.3 591.9,196.3 593.9,197.4 596.0,198.5 598.0,199.6 600.0,200.8 602.1,201.9 604.1,203.1 606.2,204.2 608.2,205.3 610.3,206.3 612.3,207.3 614.4,208.3 616.4,209.3 618.4,210.4 620.5,211.6 622.5,213.0 624.6,214.7 626.6,216.7 628.7,218.9 630.7,221.2 632.7,223.6 634.8,226.1 636.8,228.5 638.9,230.9 640.9,233.3 643.0,235.8 645.0,238.5 647.0,241.2 649.1,243.9 651.1,246.7 653.2,249.3 655.2,251.8 657.3,254.2 659.3,256.4 661.4,258.3 663.4,259.9 665.4,261.6 667.5,263.1 669.5,264.6 671.6,266.1 673.6,267.4 675.7,268.6 677.7,269.8 679.8,270.8 681.8,271.7 683.8,272.5 685.9,273.3 687.9,274.1 690.0,274.9 692.0,275.6 694.1,276.3 696.1,276.9 698.1,277.3 700.2,277.7 702.2,277.9 704.3,278.0 706.3,277.9 708.4,277.8 710.4,277.6 712.5,277.4 714.5,277.1 716.5,276.8 718.6,276.4 720.6,276.0 722.7,275.5 724.7,274.9 726.8,274.1 728.8,273.2 730.8,272.1 732.9,271.0 734.9,269.7 737.0,268.4 739.0,266.9 741.1,265.1 743.1,263.0 745.2,260.7 747.2,258.2 749.2,255.7 751.3,253.0 753.3,250.2 755.4,247.1 757.4,243.9 759.5,240.5 761.5,236.9" stroke="#0072BD" stroke-width="1.25" fill="none"/>
<path d="M434.5,234.2 436.5,232.0 438.6,229.7 440.6,227.5 442.7,225.2 444.7,223.0 446.8,220.8 448.8,218.6 450.9,216.4 452.9,214.3 454.9,212.2 457.0,210.1 459.0,208.1 461.1,206.1 463.1,204.1 465.2,202.2 467.2,200.4 469.2,198.6 471.3,196.8 473.3,195.1 475.4,193.5 477.4,191.9 479.5,190.4 481.5,189.0 483.6,187.6 485.6,186.3 487.6,185.1 489.7,184.0 491.7,182.9 493.8,181.9 495.8,181.0 497.9,180.2 499.9,179.4 501.9,178.8 504.0,178.2 506.0,177.7 508.1,177.3 510.1,177.0 512.2,176.8 514.2,176.7 516.2,176.6 518.3,176.6 520.3,176.6 522.4,176.7 524.4,176.7 526.5,176.8 528.5,176.9 530.6,177.0 532.6,177.2 534.6,177.3 536.7,177.5 538.7,177.7 540.8,177.9 542.8,178.2 544.9,178.4 546.9,178.7 549.0,179.0 551.0,179.3 553.0,179.6 555.1,179.9 557.1,180.2 559.2,180.5 561.2,180.9 563.3,181.3 565.3,181.7 567.3,182.2 569.4,182.7 571.4,183.3 573.5,183.8 575.5,184.4 577.6,185.0 579.6,185.7 581.6,186.3 583.7,187.0 585.7,187.7 587.8,188.4 589.8,189.1 591.9,189.9 593.9,190.8 596.0,191.7 598.0,192.6 600.0,193.6 602.1,194.5 604.1,195.5 606.2,196.5 608.2,197.5 610.3,198.5 612.3,199.5 614.4,200.5 616.4,201.4 618.4,202.3 620.5,203.1 622.5,204.0 624.6,204.9 626.6,205.9 628.7,207.0 630.7,208.4 632.7,210.0 634.8,211.7 636.8,213.7 638.9,215.7 640.9,217.9 643.0,220.0 645.0,222.2 647.0,224.3 649.1,226.4 651.1,228.6 653.2,230.9 655.2,233.2 657.3,235.6 659.3,238.0 661.4,240.4 663.4,242.6 665.4,244.8 667.5,246.8 669.5,248.6 671.6,250.2 673.6,251.7 675.7,253.1 677.7,254.4 679.8,255.7 681.8,257.0 683.8,258.2 685.9,259.2 687.9,260.3 690.0,261.2 692.0,262.0 694.1,262.7 696.1,263.4 698.1,264.1 700.2,264.8 702.2,265.5 704.3,266.1 706.3,266.6 708.4,267.1 710.4,267.5 712.5,267.8 714.5,268.0 716.5,268.0 718.6,267.9 720.6,267.8 722.7,267.6 724.7,267.3 726.8,267.0 728.8,266.7 730.8,266.3 732.9,265.7 734.9,264.9 737.0,264.1 739.0,263.1 741.1,262.0 743.1,260.8 745.2,259.2 747.2,257.4 749.2,255.3 751.3,253.1 753.3,250.8 755.4,248.3 757.4,245.6 759.5,242.6 761.5,239.5" stroke="#4DBEEE" stroke-width="1.25" fill="none"/>
<path d="M434.5,238.7 436.5,236.2 438.6,233.7 440.6,231.2 442.7,228.7 444.7,226.3 446.8,223.8 448.8,221.4 450.9,219.1 452.9,216.7 454.9,214.4 457.0,212.2 459.0,210.0 461.1,207.8 463.1,205.7 465.2,203.7 467.2,201.7 469.2,199.8 471.3,198.0 473.3,196.2 475.4,194.6 477.4,193.0 479.5,191.4 481.5,190.0 483.6,188.7 485.6,187.4 487.6,186.3 489.7,185.2 491.7,184.2 493.8,183.4 495.8,182.6 497.9,181.9 499.9,181.4 501.9,180.9 504.0,180.6 506.0,180.3 508.1,180.2 510.1,180.2 512.2,180.2 514.2,180.2 516.2,180.3 518.3,180.4 520.3,180.5 522.4,180.7 524.4,180.9 526.5,181.2 528.5,181.5 530.6,181.8 532.6,182.1 534.6,182.5 536.7,182.9 538.7,183.3 540.8,183.7 542.8,184.1 544.9,184.6 546.9,185.1 549.0,185.6 551.0,186.3 553.0,186.9 555.1,187.7 557.1,188.4 559.2,189.3 561.2,190.1 563.3,191.0 565.3,192.0 567.3,192.9 569.4,193.9 571.4,194.9 573.5,196.0 575.5,197.2 577.6,198.5 579.6,199.9 581.6,201.2 583.7,202.7 585.7,204.1 587.8,205.5 589.8,207.0 591.9,208.4 593.9,209.8 596.0,211.1 598.0,212.3 600.0,213.5 602.1,214.8 604.1,216.3 606.2,218.0 608.2,220.1 610.3,222.5 612.3,225.2 614.4,228.2 616.4,231.2 618.4,234.3 620.5,237.4 622.5,240.4 624.6,243.5 626.6,246.8 628.7,250.2 630.7,253.7 632.7,257.1 634.8,260.4 636.8,263.5 638.9,266.4 640.9,268.9 643.0,271.1 645.0,273.1 647.0,275.1 649.1,277.0 651.1,278.8 653.2,280.4 655.2,281.9 657.3,283.3 659.3,284.5 661.4,285.6 663.4,286.6 665.4,287.6 667.5,288.5 669.5,289.4 671.6,290.3 673.6,290.9 675.7,291.5 677.7,291.9 679.8,292.0 681.8,292.0 683.8,291.9 685.9,291.8 687.9,291.7 690.0,291.5 692.0,291.3 694.1,291.0 696.1,290.7 698.1,290.5 700.2,290.1 702.2,289.8 704.3,289.5 706.3,289.1 708.4,288.5 710.4,287.9 712.5,287.2 714.5,286.4 716.5,285.6 718.6,284.6 720.6,283.7 722.7,282.6 724.7,281.5 726.8,280.4 728.8,279.2 730.8,277.7 732.9,276.1 734.9,274.3 737.0,272.4 739.0,270.3 741.1,268.2 743.1,266.0 745.2,263.8 747.2,261.5 749.2,259.1 751.3,256.6 753.3,253.9 755.4,251.1 757.4,248.3 759.5,245.3 761.5,242.2" stroke="#77AC30" stroke-width="1.25" fill="none"/>
<path d="M434.5,244.9 436.5,242.5 438.6,240.1 440.6,237.7 442.7,235.4 444.7,233.0 446.8,230.7 448.8,228.4 450.9,226.1 452.9,223.9 454.9,221.7 457.0,219.5 459.0,217.3 461.1,215.2 463.1,213.1 465.2,211.1 467.2,209.1 469.2,207.2 471.3,205.3 473.3,203.5 475.4,201.7 477.4,200.0 479.5,198.4 481.5,196.8 483.6,195.3 485.6,193.9 487.6,192.5 489.7,191.3 491.7,190.0 493.8,188.9 495.8,187.9 497.9,186.9 499.9,186.0 501.9,185.2 504.0,184.5 506.0,183.9 508.1,183.3 510.1,182.9 512.2,182.5 514.2,182.2 516.2,182.0 518.3,181.9 520.3,181.9 522.4,181.9 524.4,182.0 526.5,182.1 528.5,182.2 530.6,182.3 532.6,182.5 534.6,182.7 536.7,183.0 538.7,183.3 540.8,183.6 542.8,183.9 544.9,184.3 546.9,184.7 549.0,185.1 551.0,185.5 553.0,185.9 555.1,186.3 557.1,186.8 559.2,187.4 561.2,188.0 563.3,188.6 565.3,189.3 567.3,190.1 569.4,190.9 571.4,191.7 573.5,192.6 575.5,193.5 577.6,194.5 579.6,195.4 581.6,196.4 583.7,197.5 585.7,198.6 587.8,199.9 589.8,201.2 591.9,202.5 593.9,203.9 596.0,205.3 598.0,206.8 600.0,208.2 602.1,209.6 604.1,211.0 606.2,212.4 608.2,213.6 610.3,214.8 612.3,216.1 614.4,217.4 616.4,218.9 618.4,220.6 620.5,222.7 622.5,225.1 624.6,227.8 626.6,230.7 628.7,233.8 630.7,236.9 632.7,239.9 634.8,242.9 636.8,246.0 638.9,249.2 640.9,252.6 643.0,256.0 645.0,259.4 647.0,262.8 649.1,265.9 651.1,268.9 653.2,271.5 655.2,273.8 657.3,275.9 659.3,277.9 661.4,279.8 663.4,281.6 665.4,283.3 667.5,284.9 669.5,286.4 671.6,287.7 673.6,288.8 675.7,289.8 677.7,290.8 679.8,291.8 681.8,292.8 683.8,293.6 685.9,294.4 687.9,295.1 690.0,295.6 692.0,295.9 694.1,296.0 696.1,296.0 698.1,295.9 700.2,295.7 702.2,295.5 704.3,295.2 706.3,294.9 708.4,294.6 710.4,294.2 712.5,293.8 714.5,293.4 716.5,292.8 718.6,292.1 720.6,291.3 722.7,290.3 724.7,289.3 726.8,288.1 728.8,286.9 730.8,285.6 732.9,284.2 734.9,282.6 737.0,280.8 739.0,278.7 741.1,276.4 743.1,273.9 745.2,271.3 747.2,268.6 749.2,265.8 751.3,262.9 753.3,259.8 755.4,256.5 757.4,253.1 759.5,249.5 761.5,245.7" stroke="#EDB120" stroke-width="1.25" fill="none"/>
<path d="M434.5,208.5 436.5,207.8 438.6,207.1 440.6,206.4 442.7,205.7 444.7,205.0 446.8,204.3 448.8,203.6 450.9,203.0 452.9,202.3 454.9,201.6 457.0,201.0 459.0,200.4 461.1,199.7 463.1,199.1 465.2,198.5 467.2,198.0 469.2,197.4 471.3,196.9 473.3,196.3 475.4,195.8 477.4,195.3 479.5,194.9 481.5,194.4 483.6,194.0 485.6,193.6 487.6,193.3 489.7,192.9 491.7,192.6 493.8,192.3 495.8,192.0 497.9,191.8 499.9,191.6 501.9,191.4 504.0,191.2 506.0,191.1 508.1,191.0 510.1,190.9 512.2,190.8 514.2,190.8 516.2,190.8 518.3,190.8 520.3,190.8 522.4,190.9 524.4,190.9 526.5,191.0 528.5,191.1 530.6,191.3 532.6,191.4 534.6,191.6 536.7,191.7 538.7,191.9 540.8,192.2 542.8,192.4 544.9,192.6 546.9,192.9 549.0,193.2 551.0,193.4 553.0,193.7 555.1,194.0 557.1,194.3 559.2,194.6 561.2,195.0 563.3,195.4 565.3,195.8 567.3,196.2 569.4,196.7 571.4,197.2 573.5,197.8 575.5,198.3 577.6,198.9 579.6,199.5 581.6,200.1 583.7,200.8 585.7,201.4 587.8,202.1 589.8,202.8 591.9,203.5 593.9,204.3 596.0,205.2 598.0,206.0 600.0,206.9 602.1,207.8 604.1,208.8 606.2,209.7 608.2,210.7 610.3,211.6 612.3,212.5 614.4,213.4 616.4,214.3 618.4,215.1 620.5,215.9 622.5,216.7 624.6,217.6 626.6,218.5 628.7,219.5 630.7,220.7 632.7,222.2 634.8,223.8 636.8,225.5 638.9,227.4 640.9,229.4 643.0,231.4 645.0,233.5 647.0,235.5 649.1,237.4 651.1,239.4 653.2,241.5 655.2,243.7 657.3,246.0 659.3,248.2 661.4,250.5 663.4,252.6 665.4,254.7 667.5,256.7 669.5,258.5 671.6,260.1 673.6,261.5 675.7,262.9 677.7,264.2 679.8,265.5 681.8,266.7 683.8,267.8 685.9,268.9 687.9,269.9 690.0,270.8 692.0,271.7 694.1,272.4 696.1,273.1 698.1,273.8 700.2,274.4 702.2,275.0 704.3,275.7 706.3,276.2 708.4,276.7 710.4,277.2 712.5,277.5 714.5,277.8 716.5,278.0 718.6,278.0 720.6,277.9 722.7,277.8 724.7,277.5 726.8,277.3 728.8,277.0 730.8,276.6 732.9,276.1 734.9,275.5 737.0,274.6 739.0,273.7 741.1,272.6 743.1,271.4 745.2,270.0 747.2,268.2 749.2,266.2 751.3,263.9 753.3,261.6 755.4,259.1 757.4,256.3 759.5,253.4 761.5,250.2" stroke="#A2142F" stroke-width="1.25" fill="none"/>
<path d="M434.5,217.4 436.5,214.8 438.6,212.3 440.6,209.8 442.7,207.2 444.7,204.7 446.8,202.2 448.8,199.7 450.9,197.3 452.9,194.8 454.9,192.4 457.0,190.0 459.0,187.7 461.1,185.4 463.1,183.1 465.2,180.9 467.2,178.7 469.2,176.6 471.3,174.5 473.3,172.5 475.4,170.5 477.4,168.6 479.5,166.7 481.5,164.9 483.6,163.2 485.6,161.5 487.6,159.9 489.7,158.4 491.7,157.0 493.8,155.6 495.8,154.3 497.9,153.0 499.9,151.9 501.9,150.8 504.0,149.9 506.0,149.0 508.1,148.1 510.1,147.4 512.2,146.8 514.2,146.2 516.2,145.7 518.3,145.4 520.3,145.1 522.4,144.9 524.4,144.7 526.5,144.7 528.5,144.7 530.6,144.8 532.6,144.9 534.6,145.0 536.7,145.2 538.7,145.4 540.8,145.6 542.8,145.9 544.9,146.3 546.9,146.6 549.0,147.1 551.0,147.5 553.0,147.9 555.1,148.4 557.1,148.9 559.2,149.4 561.2,149.9 563.3,150.6 565.3,151.3 567.3,152.0 569.4,152.9 571.4,153.8 573.5,154.7 575.5,155.7 577.6,156.7 579.6,157.8 581.6,158.9 583.7,160.0 585.7,161.2 587.8,162.6 589.8,164.0 591.9,165.5 593.9,167.0 596.0,168.6 598.0,170.2 600.0,171.8 602.1,173.4 604.1,175.0 606.2,176.5 608.2,177.9 610.3,179.2 612.3,180.7 614.4,182.2 616.4,184.1 618.4,186.4 620.5,189.1 622.5,192.1 624.6,195.4 626.6,198.9 628.7,202.3 630.7,205.7 632.7,209.1 634.8,212.7 636.8,216.4 638.9,220.3 640.9,224.1 643.0,227.8 645.0,231.4 647.0,234.6 649.1,237.5 651.1,240.0 653.2,242.3 655.2,244.5 657.3,246.6 659.3,248.5 661.4,250.3 663.4,252.0 665.4,253.4 667.5,254.7 669.5,255.8 671.6,257.0 673.6,258.0 675.7,259.1 677.7,260.0 679.8,260.8 681.8,261.4 683.8,261.8 685.9,262.0 687.9,262.0 690.0,261.9 692.0,261.7 694.1,261.6 696.1,261.3 698.1,261.1 700.2,260.8 702.2,260.4 704.3,260.1 706.3,259.7 708.4,259.3 710.4,258.8 712.5,258.2 714.5,257.5 716.5,256.7 718.6,255.7 720.6,254.7 722.7,253.6 724.7,252.4 726.8,251.2 728.8,249.9 730.8,248.5 732.9,246.9 734.9,245.0 737.0,242.9 739.0,240.7 741.1,238.3 743.1,235.8 745.2,233.2 747.2,230.7 749.2,228.0 751.3,225.1 753.3,222.0 755.4,218.8 757.4,215.5 759.5,212.1 761.5,208.5" stroke="#7E2F8E" stroke-width="1.25" fill="none"/>
<path d="M434.5,224.5 436.5,221.5 438.6,218.6 440.6,215.7 442.7,212.8 444.7,209.9 446.8,207.0 448.8,204.2 450.9,201.4 452.9,198.6 454.9,195.9 457.0,193.2 459.0,190.6 461.1,188.1 463.1,185.6 465.2,183.1 467.2,180.8 469.2,178.5 471.3,176.3 473.3,174.1 475.4,172.1 477.4,170.1 479.5,168.2 481.5,166.5 483.6,164.8 485.6,163.2 487.6,161.7 489.7,160.3 491.7,159.1 493.8,157.9 495.8,156.9 497.9,155.9 499.9,155.1 501.9,154.4 504.0,153.8 506.0,153.4 508.1,153.0 510.1,152.8 512.2,152.7 514.2,152.7 516.2,152.7 518.3,152.8 520.3,152.8 522.4,153.0 524.4,153.1 526.5,153.3 528.5,153.5 530.6,153.8 532.6,154.1 534.6,154.4 536.7,154.8 538.7,155.2 540.8,155.6 542.8,156.0 544.9,156.4 546.9,156.9 549.0,157.3 551.0,157.8 553.0,158.3 555.1,158.9 557.1,159.6 559.2,160.3 561.2,161.1 563.3,161.9 565.3,162.8 567.3,163.7 569.4,164.6 571.4,165.6 573.5,166.6 575.5,167.6 577.6,168.7 579.6,169.8 581.6,171.0 583.7,172.2 585.7,173.6 587.8,175.0 589.8,176.5 591.9,178.0 593.9,179.5 596.0,181.1 598.0,182.6 600.0,184.2 602.1,185.7 604.1,187.2 606.2,188.6 608.2,189.9 610.3,191.3 612.3,192.6 614.4,194.1 616.4,195.8 618.4,197.7 620.5,200.1 622.5,202.8 624.6,205.8 626.6,209.0 628.7,212.3 630.7,215.6 632.7,219.0 634.8,222.2 636.8,225.5 638.9,229.0 640.9,232.6 643.0,236.3 645.0,240.0 647.0,243.7 649.1,247.3 651.1,250.6 653.2,253.7 655.2,256.5 657.3,258.9 659.3,261.1 661.4,263.3 663.4,265.4 665.4,267.4 667.5,269.2 669.5,271.0 671.6,272.6 673.6,274.0 675.7,275.3 677.7,276.5 679.8,277.5 681.8,278.6 683.8,279.7 685.9,280.7 687.9,281.6 690.0,282.4 692.0,283.1 694.1,283.6 696.1,283.9 698.1,284.0 700.2,283.9 702.2,283.8 704.3,283.5 706.3,283.2 708.4,282.8 710.4,282.3 712.5,281.8 714.5,281.3 716.5,280.8 718.6,280.0 720.6,279.1 722.7,278.0 724.7,276.7 726.8,275.2 728.8,273.6 730.8,271.8 732.9,270.0 734.9,268.0 737.0,265.7 739.0,263.0 741.1,259.9 743.1,256.5 745.2,253.0 747.2,249.2 749.2,245.4 751.3,241.4 753.3,237.1 755.4,232.5 757.4,227.7 759.5,222.6 761.5,217.4" stroke="#EDB120" stroke-width="1.25" fill="none"/>
<path d="M434.5,188.1 436.5,187.5 438.6,186.9 440.6,186.3 442.7,185.7 444.7,185.1 446.8,184.5 448.8,184.0 450.9,183.4 452.9,182.8 454.9,182.3 457.0,181.8 459.0,181.2 461.1,180.7 463.1,180.3 465.2,179.8 467.2,179.4 469.2,178.9 471.3,178.5 473.3,178.2 475.4,177.8 477.4,177.5 479.5,177.2 481.5,176.9 483.6,176.7 485.6,176.5 487.6,176.3 489.7,176.1 491.7,176.0 493.8,175.9 495.8,175.8 497.9,175.7 499.9,175.7 501.9,175.7 504.0,175.7 506.0,175.8 508.1,175.8 510.1,175.9 512.2,176.0 514.2,176.1 516.2,176.2 518.3,176.4 520.3,176.5 522.4,176.7 524.4,176.9 526.5,177.1 528.5,177.3 530.6,177.6 532.6,177.8 534.6,178.1 536.7,178.4 538.7,178.6 540.8,178.9 542.8,179.2 544.9,179.5 546.9,179.8 549.0,180.2 551.0,180.6 553.0,181.1 555.1,181.5 557.1,182.0 559.2,182.5 561.2,183.1 563.3,183.6 565.3,184.2 567.3,184.8 569.4,185.4 571.4,186.1 573.5,186.7 575.5,187.3 577.6,188.0 579.6,188.8 581.6,189.6 583.7,190.4 585.7,191.3 587.8,192.2 589.8,193.1 591.9,194.0 593.9,194.9 596.0,195.9 598.0,196.8 600.0,197.7 602.1,198.6 604.1,199.5 606.2,200.3 608.2,201.1 610.3,201.9 612.3,202.7 614.4,203.6 616.4,204.5 618.4,205.6 620.5,206.9 622.5,208.4 624.6,210.0 626.6,211.8 628.7,213.7 630.7,215.7 632.7,217.7 634.8,219.7 636.8,221.7 638.9,223.6 640.9,225.6 643.0,227.7 645.0,229.9 647.0,232.1 649.1,234.3 651.1,236.5 653.2,238.7 655.2,240.8 657.3,242.8 659.3,244.6 661.4,246.2 663.4,247.7 665.4,249.0 667.5,250.4 669.5,251.6 671.6,252.9 673.6,254.0 675.7,255.1 677.7,256.2 679.8,257.1 681.8,258.0 683.8,258.8 685.9,259.5 687.9,260.2 690.0,260.8 692.0,261.5 694.1,262.1 696.1,262.7 698.1,263.2 700.2,263.7 702.2,264.2 704.3,264.5 706.3,264.8 708.4,265.0 710.4,265.0 712.5,264.9 714.5,264.8 716.5,264.6 718.6,264.3 720.6,263.9 722.7,263.6 724.7,263.2 726.8,262.7 728.8,262.0 730.8,261.1 732.9,260.1 734.9,259.0 737.0,257.7 739.0,256.3 741.1,254.8 743.1,253.0 745.2,250.7 747.2,248.3 749.2,245.6 751.3,242.9 753.3,240.1 755.4,236.9 757.4,233.6 759.5,230.0 761.5,226.2" stroke="#0072BD" stroke-width="1.25" fill="none"/>
<path d="M434.5,228.0 436.5,224.8 438.6,221.6 440.6,218.5 442.7,215.3 444.7,212.1 446.8,209.0 448.8,205.9 450.9,202.8 452.9,199.7 454.9,196.7 457.0,193.7 459.0,190.7 461.1,187.8 463.1,184.9 465.2,182.1 467.2,179.3 469.2,176.5 471.3,173.9 473.3,171.2 475.4,168.7 477.4,166.2 479.5,163.7 481.5,161.4 483.6,159.1 485.6,156.9 487.6,154.7 489.7,152.7 491.7,150.7 493.8,148.8 495.8,147.0 497.9,145.2 499.9,143.6 501.9,142.0 504.0,140.6 506.0,139.2 508.1,137.9 510.1,136.8 512.2,135.7 514.2,134.7 516.2,133.8 518.3,133.1 520.3,132.4 522.4,131.8 524.4,131.4 526.5,131.0 528.5,130.7 530.6,130.6 532.6,130.5 534.6,130.5 536.7,130.6 538.7,130.6 540.8,130.8 542.8,130.9 544.9,131.1 546.9,131.3 549.0,131.6 551.0,131.9 553.0,132.3 555.1,132.7 557.1,133.0 559.2,133.5 561.2,133.9 563.3,134.3 565.3,134.8 567.3,135.3 569.4,135.9 571.4,136.6 573.5,137.3 575.5,138.0 577.6,138.9 579.6,139.8 581.6,140.7 583.7,141.6 585.7,142.6 587.8,143.6 589.8,144.7 591.9,145.8 593.9,147.1 596.0,148.4 598.0,149.8 600.0,151.2 602.1,152.7 604.1,154.2 606.2,155.7 608.2,157.2 610.3,158.7 612.3,160.1 614.4,161.4 616.4,162.7 618.4,164.0 620.5,165.5 622.5,167.2 624.6,169.3 626.6,171.8 628.7,174.7 630.7,177.8 632.7,181.0 634.8,184.2 636.8,187.4 638.9,190.5 640.9,193.9 643.0,197.4 645.0,201.0 647.0,204.6 649.1,208.1 651.1,211.4 653.2,214.5 655.2,217.1 657.3,219.4 659.3,221.6 661.4,223.7 663.4,225.6 665.4,227.4 667.5,229.1 669.5,230.7 671.6,232.0 673.6,233.2 675.7,234.3 677.7,235.3 679.8,236.4 681.8,237.3 683.8,238.2 685.9,238.9 687.9,239.5 690.0,239.9 692.0,240.0 694.1,240.0 696.1,240.0 698.1,239.9 700.2,239.9 702.2,239.8 704.3,239.8 706.3,239.7 708.4,239.6 710.4,239.5 712.5,239.4 714.5,239.3 716.5,239.1 718.6,239.0 720.6,238.7 722.7,238.5 724.7,238.3 726.8,238.0 728.8,237.7 730.8,237.4 732.9,237.0 734.9,236.7 737.0,236.2 739.0,235.7 741.1,235.1 743.1,234.6 745.2,234.0 747.2,233.3 749.2,232.7 751.3,232.0 753.3,231.3 755.4,230.5 757.4,229.7 759.5,228.9 761.5,228.0" stroke="#4DBEEE" stroke-width="1.25" fill="none"/>
<path d="M434.5,198.8 436.5,195.4 438.6,192.1 440.6,188.9 442.7,185.8 444.7,182.8 446.8,179.9 448.8,177.1 450.9,174.4 452.9,171.9 454.9,169.5 457.0,167.1 459.0,164.8 461.1,162.6 463.1,160.4 465.2,158.4 467.2,156.4 469.2,154.5 471.3,152.7 473.3,151.1 475.4,149.6 477.4,148.1 479.5,146.6 481.5,145.1 483.6,143.8 485.6,142.5 487.6,141.3 489.7,140.2 491.7,139.3 493.8,138.5 495.8,137.9 497.9,137.3 499.9,136.7 501.9,136.1 504.0,135.6 506.0,135.1 508.1,134.7 510.1,134.4 512.2,134.2 514.2,134.1 516.2,134.1 518.3,134.2 520.3,134.4 522.4,134.6 524.4,134.9 526.5,135.3 528.5,135.7 530.6,136.2 532.6,136.6 534.6,137.1 536.7,137.6 538.7,138.1 540.8,138.7 542.8,139.3 544.9,139.9 546.9,140.7 549.0,141.5 551.0,142.3 553.0,143.2 555.1,144.2 557.1,145.2 559.2,146.2 561.2,147.2 563.3,148.2 565.3,149.3 567.3,150.5 569.4,151.7 571.4,153.1 573.5,154.4 575.5,155.9 577.6,157.3 579.6,158.7 581.6,160.2 583.7,161.6 585.7,163.0 587.8,164.4 589.8,165.6 591.9,166.8 593.9,168.0 596.0,169.3 598.0,170.6 600.0,172.3 602.1,174.2 604.1,176.4 606.2,178.9 608.2,181.6 610.3,184.5 612.3,187.4 614.4,190.3 616.4,193.1 618.4,195.9 620.5,198.8 622.5,201.9 624.6,205.0 626.6,208.2 628.7,211.3 630.7,214.3 632.7,217.3 634.8,220.0 636.8,222.5 638.9,224.7 640.9,226.7 643.0,228.5 645.0,230.3 647.0,232.0 649.1,233.6 651.1,235.2 653.2,236.6 655.2,237.9 657.3,239.1 659.3,240.2 661.4,241.1 663.4,242.0 665.4,242.9 667.5,243.7 669.5,244.6 671.6,245.3 673.6,246.1 675.7,246.7 677.7,247.2 679.8,247.6 681.8,247.9 683.8,248.0 685.9,247.9 687.9,247.9 690.0,247.8 692.0,247.6 694.1,247.4 696.1,247.2 698.1,246.9 700.2,246.7 702.2,246.4 704.3,246.1 706.3,245.7 708.4,245.3 710.4,244.9 712.5,244.3 714.5,243.6 716.5,242.8 718.6,242.0 720.6,241.1 722.7,240.1 724.7,239.1 726.8,238.0 728.8,236.9 730.8,235.6 732.9,234.2 734.9,232.5 737.0,230.7 739.0,228.7 741.1,226.6 743.1,224.5 745.2,222.3 747.2,220.1 749.2,217.8 751.3,215.3 753.3,212.7 755.4,210.0 757.4,207.1 759.5,204.2 761.5,201.2" stroke="#ff0000" stroke-width="3.3" fill="none" stroke-linejoin="round"/>
</g>
<defs><clipPath id="cl"><rect x="54.5" y="20.5" width="327.0" height="286.0"/></clipPath><clipPath id="cr"><rect x="434.5" y="20.5" width="327.0" height="286.0"/></clipPath></defs>
<rect x="224" y="24" width="3" height="282.5" fill="#0000ff"/>
<rect x="273" y="24" width="3" height="282.5" fill="#00ff00"/>
<rect x="321" y="24" width="3" height="282.5" fill="#00ffff"/>
<path d="M220.4 222.3L235.9 249.8H204.9ZM217.4 242.7L232.9 270.2H201.9ZM282.8 214.1L298.3 241.6H267.3ZM281.7 227.5L297.2 255.0H266.2ZM257.2 217.7L272.7 245.2H241.7ZM249.4 225.9L264.9 253.4H233.9ZM277.1 238.2L292.6 265.7H261.6ZM246.4 239.7L261.9 267.2H230.9ZM269.4 250.4L284.9 277.9H253.9ZM240.4 253.5L255.9 281.0H224.9ZM251.1 262.7L266.6 290.2H235.6ZM228.1 271.9L243.6 299.4H212.6ZM237.3 271.0L252.8 298.5H221.8ZM257.2 271.9L272.7 299.4H241.7ZM232.7 288.1L248.2 315.6H217.2ZM252.6 286.3L268.1 313.8H237.1ZM244.4 231.7L259.9 259.2H228.9ZM259.4 230.7L274.9 258.2H243.9ZM263.4 225.7L278.9 253.2H247.9ZM242.4 245.7L257.9 273.2H226.9ZM254.4 246.7L269.9 274.2H238.9ZM261.4 242.7L276.9 270.2H245.9ZM248.4 252.7L263.9 280.2H232.9ZM257.4 257.7L272.9 285.2H241.9ZM235.4 261.7L250.9 289.2H219.9ZM245.4 266.7L260.9 294.2H229.9ZM265.4 263.7L280.9 291.2H249.9ZM228.4 256.7L243.9 284.2H212.9ZM239.4 278.7L254.9 306.2H223.9ZM261.4 278.7L276.9 306.2H245.9Z" fill="none" stroke="#0000ff" stroke-width="1.2"/><g font-size="16" fill="#000"><text x="220.7" y="247.0">20</text><text x="217.7" y="267.4">30</text><text x="283.1" y="238.8">11</text><text x="282.0" y="252.2">14</text><text x="257.5" y="242.4">3</text><text x="249.7" y="250.6">25</text><text x="277.4" y="262.9">2</text><text x="246.7" y="264.4">17</text><text x="269.7" y="275.1">22</text><text x="240.7" y="278.2">4</text><text x="251.4" y="287.4">21</text><text x="228.4" y="296.6">18</text><text x="237.6" y="295.7">26</text><text x="257.5" y="296.6">23</text><text x="233.0" y="312.8">19</text><text x="252.9" y="311.0">29</text><text x="244.7" y="256.4">27</text><text x="259.7" y="255.4">9</text><text x="263.7" y="250.4">6</text><text x="242.7" y="270.4">5</text><text x="254.7" y="271.4">13</text><text x="261.7" y="267.4">7</text><text x="248.7" y="277.4">10</text><text x="257.7" y="282.4">28</text><text x="235.7" y="286.4">12</text><text x="245.7" y="291.4">16</text><text x="265.7" y="288.4">8</text><text x="228.7" y="281.4">24</text><text x="239.7" y="303.4">15</text><text x="261.7" y="303.4">1</text></g>
<path d="M54.5 306.5V20.5H381.5V306.5Z" stroke="#333333" stroke-width="1" fill="none"/>
<path d="M54.5 306.5v-3.3M54.5 20.5v3.3M119.5 306.5v-3.3M119.5 20.5v3.3M185.5 306.5v-3.3M185.5 20.5v3.3M250.5 306.5v-3.3M250.5 20.5v3.3M316.5 306.5v-3.3M316.5 20.5v3.3M54.5 31.5h3.3M381.5 31.5h-3.3M54.5 93.5h3.3M381.5 93.5h-3.3M54.5 156.5h3.3M381.5 156.5h-3.3M54.5 218.5h3.3M381.5 218.5h-3.3M54.5 281.5h3.3M381.5 281.5h-3.3" stroke="#333333" stroke-width="1" fill="none"/>
<text x="54.5" y="327.5" font-size="15" text-anchor="middle" font-weight="normal" >0</text>
<text x="119.9" y="327.5" font-size="15" text-anchor="middle" font-weight="normal" >0.2</text>
<text x="185.3" y="327.5" font-size="15" text-anchor="middle" font-weight="normal" >0.4</text>
<text x="250.7" y="327.5" font-size="15" text-anchor="middle" font-weight="normal" >0.6</text>
<text x="316.1" y="327.5" font-size="15" text-anchor="middle" font-weight="normal" >0.8</text>
<text x="413.5" y="322.5" font-size="15" text-anchor="middle" font-weight="normal" >1</text>
<text x="49.3" y="36.39999999999999" font-size="15" text-anchor="end" font-weight="normal" >5</text>
<text x="49.3" y="98.89999999999999" font-size="15" text-anchor="end" font-weight="normal" >0</text>
<text x="49.3" y="161.4" font-size="15" text-anchor="end" font-weight="normal" >−5</text>
<text x="49.3" y="223.9" font-size="15" text-anchor="end" font-weight="normal" >−10</text>
<text x="49.3" y="286.40000000000003" font-size="15" text-anchor="end" font-weight="normal" >−15</text>
<text x="216.7" y="16.1" font-size="17.8" text-anchor="middle" font-weight="bold" >Participant 11</text>
<text x="217" y="351" font-size="17.7" text-anchor="middle" font-weight="normal" >Normalized stride time</text>
<text transform="translate(20.3 169) rotate(-90)" font-size="18.8" text-anchor="middle">CoMXDown [mm]</text>
<rect x="617.5" y="22" width="3" height="284.5" fill="#0000ff"/>
<rect x="661.5" y="22" width="3" height="284.5" fill="#00ff00"/>
<rect x="721.3" y="22" width="3" height="284.5" fill="#00ffff"/>
<path d="M706.8 166.3L722.3 193.8H691.3ZM709.4 175.3L724.9 202.8H693.9ZM704.2 213.7L719.7 241.2H688.7ZM695.4 211.7L710.9 239.2H679.9ZM681.4 229.0L696.9 256.5H665.9ZM707.4 238.2L722.9 265.7H691.9ZM721.4 238.2L736.9 265.7H705.9ZM673.4 248.9L688.9 276.4H657.9ZM695.4 250.4L710.9 277.9H679.9ZM689.4 268.7L704.9 296.2H673.9ZM699.4 268.7L714.9 296.2H683.9ZM711.4 268.7L726.9 296.2H695.9ZM676.7 285.7L692.2 313.2H661.2ZM705.8 288.1L721.3 315.6H690.3ZM699.4 225.7L714.9 253.2H683.9ZM689.4 235.7L704.9 263.2H673.9ZM713.4 227.7L728.9 255.2H697.9ZM685.4 255.7L700.9 283.2H669.9ZM703.4 258.7L718.9 286.2H687.9ZM715.4 248.7L730.9 276.2H699.9ZM679.4 272.7L694.9 300.2H663.9ZM693.4 276.7L708.9 304.2H677.9ZM717.4 258.7L732.9 286.2H701.9ZM685.4 242.7L700.9 270.2H669.9ZM697.4 264.7L712.9 292.2H681.9ZM709.4 245.7L724.9 273.2H693.9ZM691.4 220.7L706.9 248.2H675.9Z" fill="none" stroke="#0000ff" stroke-width="1.2"/><g font-size="16" fill="#000"><text x="707.1" y="191.0">6</text><text x="709.7" y="200.0">5</text><text x="704.5" y="238.4">8</text><text x="695.7" y="236.4">18</text><text x="681.7" y="253.7">10</text><text x="707.7" y="262.9">28</text><text x="721.7" y="262.9">24</text><text x="673.7" y="273.6">1</text><text x="695.7" y="275.1">3</text><text x="689.7" y="293.4">2</text><text x="699.7" y="293.4">11</text><text x="711.7" y="293.4">26</text><text x="677.0" y="310.4">20</text><text x="706.1" y="312.8">27</text><text x="699.7" y="250.4">4</text><text x="689.7" y="260.4">7</text><text x="713.7" y="252.4">9</text><text x="685.7" y="280.4">12</text><text x="703.7" y="283.4">13</text><text x="715.7" y="273.4">14</text><text x="679.7" y="297.4">15</text><text x="693.7" y="301.4">17</text><text x="717.7" y="283.4">19</text><text x="685.7" y="267.4">21</text><text x="697.7" y="289.4">22</text><text x="709.7" y="270.4">23</text><text x="691.7" y="245.4">25</text></g>
<path d="M434.5 306.5V20.5H761.5V306.5Z" stroke="#333333" stroke-width="1" fill="none"/>
<path d="M434.5 306.5v-3.3M434.5 20.5v3.3M499.5 306.5v-3.3M499.5 20.5v3.3M565.5 306.5v-3.3M565.5 20.5v3.3M630.5 306.5v-3.3M630.5 20.5v3.3M696.5 306.5v-3.3M696.5 20.5v3.3M434.5 24.5h3.3M761.5 24.5h-3.3M434.5 68.5h3.3M761.5 68.5h-3.3M434.5 112.5h3.3M761.5 112.5h-3.3M434.5 157.5h3.3M761.5 157.5h-3.3M434.5 201.5h3.3M761.5 201.5h-3.3M434.5 245.5h3.3M761.5 245.5h-3.3M434.5 290.5h3.3M761.5 290.5h-3.3" stroke="#333333" stroke-width="1" fill="none"/>
<text x="434.5" y="327.5" font-size="15" text-anchor="middle" font-weight="normal" >0</text>
<text x="499.9" y="327.5" font-size="15" text-anchor="middle" font-weight="normal" >0.2</text>
<text x="565.3" y="327.5" font-size="15" text-anchor="middle" font-weight="normal" >0.4</text>
<text x="630.7" y="327.5" font-size="15" text-anchor="middle" font-weight="normal" >0.6</text>
<text x="696.1" y="327.5" font-size="15" text-anchor="middle" font-weight="normal" >0.8</text>
<text x="761.5" y="327.5" font-size="15" text-anchor="middle" font-weight="normal" >1</text>
<text x="428.6" y="30.17" font-size="15" text-anchor="end" font-weight="normal" >10</text>
<text x="428.6" y="74.485" font-size="15" text-anchor="end" font-weight="normal" >5</text>
<text x="428.6" y="118.8" font-size="15" text-anchor="end" font-weight="normal" >0</text>
<text x="428.6" y="163.115" font-size="15" text-anchor="end" font-weight="normal" >−5</text>
<text x="428.6" y="207.43" font-size="15" text-anchor="end" font-weight="normal" >−10</text>
<text x="428.6" y="251.745" font-size="15" text-anchor="end" font-weight="normal" >−15</text>
<text x="428.6" y="296.06" font-size="15" text-anchor="end" font-weight="normal" >−20</text>
<text x="597.5" y="14.1" font-size="17.8" text-anchor="middle" font-weight="bold" >Participant 8</text>
<text x="597.5" y="351" font-size="17.7" text-anchor="middle" font-weight="normal" >Normalize stride time</text>
<rect x="630.5" y="20.5" width="144" height="83" fill="#fff" stroke="#333" stroke-width="1"/>
<rect x="634" y="31.5" width="40" height="3" fill="#0000ff"/>
<rect x="634" y="49" width="40" height="3" fill="#00ff00"/>
<rect x="634" y="66.5" width="40" height="3" fill="#00ffff"/>
<path d="M649.3 79.6L657.8 94.2H640.8Z" fill="none" stroke="#0000ff" stroke-width="1"/>
<text x="677.5" y="38.3" font-size="14.65" text-anchor="start" font-weight="normal" >Pre-swing start</text>
<text x="677.5" y="55.8" font-size="14.65" text-anchor="start" font-weight="normal" >Swing start</text>
<text x="677.5" y="73.3" font-size="14.65" text-anchor="start" font-weight="normal" >Mid swing start</text>
<text x="664.5" y="92.3" font-size="14.65">COMXDown<tspan font-size="11.5" dy="5">MIN</tspan></text>
</svg>
</body></html>
